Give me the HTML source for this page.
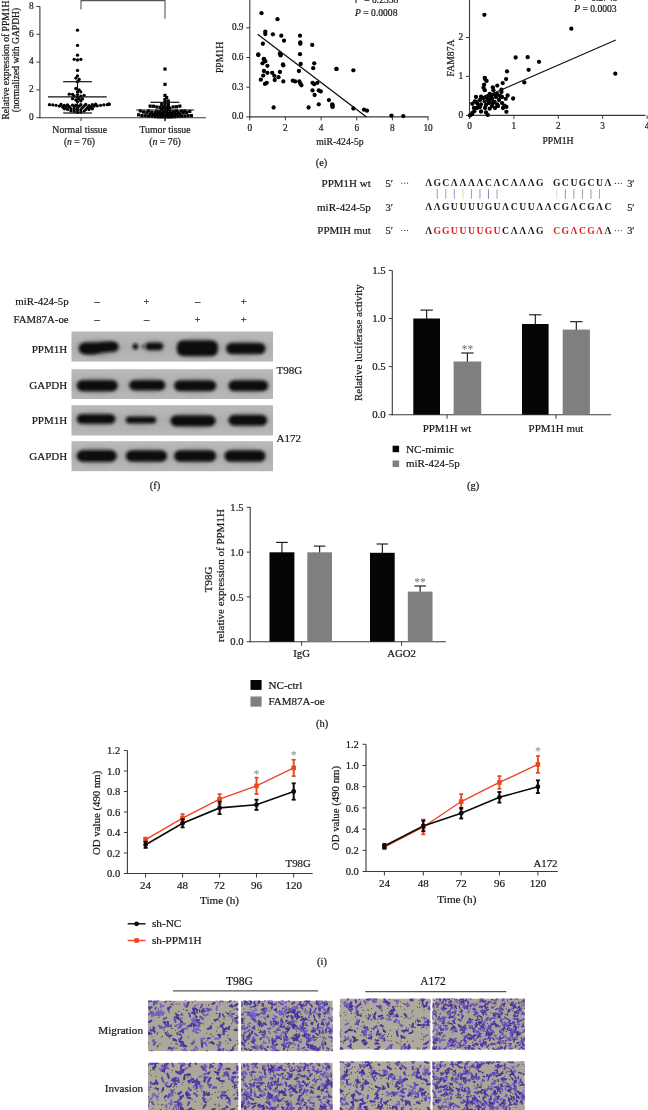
<!DOCTYPE html>
<html><head><meta charset="utf-8"><style>
html,body{margin:0;padding:0;background:#fff;}
body>svg{display:block;filter:blur(0.3px);}
</style></head><body>
<svg width="648" height="1110" viewBox="0 0 648 1110">
<rect width="648" height="1110" fill="#fff"/>
<line x1="39.90" y1="6.50" x2="39.90" y2="118.20" stroke="#3a3a3a" stroke-width="1.1" />
<line x1="39.40" y1="117.70" x2="206.00" y2="117.70" stroke="#3a3a3a" stroke-width="1.1" />
<line x1="36.40" y1="117.70" x2="39.90" y2="117.70" stroke="#3a3a3a" stroke-width="1" />
<text x="33.60" y="120.00" font-size="9.3" text-anchor="end" fill="#1a1a1a" font-family="'Liberation Serif', serif" stroke="#1a1a1a" stroke-width="0.22" >0</text>
<line x1="36.40" y1="89.90" x2="39.90" y2="89.90" stroke="#3a3a3a" stroke-width="1" />
<text x="33.60" y="92.20" font-size="9.3" text-anchor="end" fill="#1a1a1a" font-family="'Liberation Serif', serif" stroke="#1a1a1a" stroke-width="0.22" >2</text>
<line x1="36.40" y1="62.10" x2="39.90" y2="62.10" stroke="#3a3a3a" stroke-width="1" />
<text x="33.60" y="64.40" font-size="9.3" text-anchor="end" fill="#1a1a1a" font-family="'Liberation Serif', serif" stroke="#1a1a1a" stroke-width="0.22" >4</text>
<line x1="36.40" y1="34.30" x2="39.90" y2="34.30" stroke="#3a3a3a" stroke-width="1" />
<text x="33.60" y="36.60" font-size="9.3" text-anchor="end" fill="#1a1a1a" font-family="'Liberation Serif', serif" stroke="#1a1a1a" stroke-width="0.22" >6</text>
<line x1="36.40" y1="6.50" x2="39.90" y2="6.50" stroke="#3a3a3a" stroke-width="1" />
<text x="33.60" y="8.80" font-size="9.3" text-anchor="end" fill="#1a1a1a" font-family="'Liberation Serif', serif" stroke="#1a1a1a" stroke-width="0.22" >8</text>
<line x1="81.00" y1="117.70" x2="81.00" y2="121.20" stroke="#3a3a3a" stroke-width="1" />
<line x1="165.00" y1="117.70" x2="165.00" y2="121.20" stroke="#3a3a3a" stroke-width="1" />
<path d="M81,9.5 V0.6 H165 V18.7" fill="none" stroke="#555" stroke-width="1.1"/>
<text x="79.70" y="133.20" font-size="9.8" text-anchor="middle" fill="#1a1a1a" font-family="'Liberation Serif', serif" stroke="#1a1a1a" stroke-width="0.22" >Normal tissue</text>
<text x="79.40" y="144.70" font-size="9.6" text-anchor="middle" fill="#1a1a1a" font-family="'Liberation Serif', serif" stroke="#1a1a1a" stroke-width="0.22" >(<tspan font-style="italic">n</tspan> = 76)</text>
<text x="165.00" y="133.20" font-size="9.8" text-anchor="middle" fill="#1a1a1a" font-family="'Liberation Serif', serif" stroke="#1a1a1a" stroke-width="0.22" >Tumor tissue</text>
<text x="165.00" y="144.70" font-size="9.8" text-anchor="middle" fill="#1a1a1a" font-family="'Liberation Serif', serif" stroke="#1a1a1a" stroke-width="0.22" >(<tspan font-style="italic">n</tspan> = 76)</text>
<text x="8.50" y="60.00" font-size="9.6" text-anchor="middle" fill="#1a1a1a" font-family="'Liberation Serif', serif" stroke="#1a1a1a" stroke-width="0.22" transform="rotate(-90 8.50 60.00)" >Relative expression of PPM1H</text>
<text x="18.80" y="60.00" font-size="9.6" text-anchor="middle" fill="#1a1a1a" font-family="'Liberation Serif', serif" stroke="#1a1a1a" stroke-width="0.22" transform="rotate(-90 18.80 60.00)" >(normalized with GAPDH)</text>
<circle cx="77.50" cy="112.40" r="1.65" fill="#000"/>
<circle cx="80.80" cy="112.06" r="1.65" fill="#000"/>
<circle cx="74.20" cy="111.44" r="1.65" fill="#000"/>
<circle cx="84.10" cy="111.09" r="1.65" fill="#000"/>
<circle cx="70.90" cy="110.85" r="1.65" fill="#000"/>
<circle cx="77.50" cy="110.00" r="1.65" fill="#000"/>
<circle cx="80.80" cy="109.57" r="1.65" fill="#000"/>
<circle cx="85.75" cy="109.54" r="1.65" fill="#000"/>
<circle cx="67.60" cy="109.47" r="1.65" fill="#000"/>
<circle cx="89.05" cy="109.46" r="1.65" fill="#000"/>
<circle cx="74.20" cy="109.17" r="1.65" fill="#000"/>
<circle cx="64.30" cy="108.86" r="1.65" fill="#000"/>
<circle cx="92.35" cy="108.79" r="1.65" fill="#000"/>
<circle cx="70.90" cy="108.57" r="1.65" fill="#000"/>
<circle cx="77.50" cy="107.75" r="1.65" fill="#000"/>
<circle cx="82.45" cy="107.58" r="1.65" fill="#000"/>
<circle cx="87.40" cy="107.55" r="1.65" fill="#000"/>
<circle cx="65.95" cy="107.25" r="1.65" fill="#000"/>
<circle cx="90.70" cy="107.24" r="1.65" fill="#000"/>
<circle cx="62.65" cy="107.07" r="1.65" fill="#000"/>
<circle cx="74.20" cy="106.83" r="1.65" fill="#000"/>
<circle cx="69.25" cy="106.64" r="1.65" fill="#000"/>
<circle cx="94.00" cy="106.23" r="1.65" fill="#000"/>
<circle cx="79.15" cy="106.16" r="1.65" fill="#000"/>
<circle cx="59.35" cy="106.09" r="1.65" fill="#000"/>
<circle cx="84.10" cy="106.00" r="1.65" fill="#000"/>
<circle cx="97.30" cy="105.82" r="1.65" fill="#000"/>
<circle cx="89.05" cy="105.63" r="1.65" fill="#000"/>
<circle cx="64.30" cy="105.42" r="1.65" fill="#000"/>
<circle cx="56.05" cy="105.33" r="1.65" fill="#000"/>
<circle cx="100.60" cy="105.31" r="1.65" fill="#000"/>
<circle cx="75.85" cy="105.25" r="1.65" fill="#000"/>
<circle cx="72.55" cy="105.14" r="1.65" fill="#000"/>
<circle cx="67.60" cy="104.99" r="1.65" fill="#000"/>
<circle cx="52.75" cy="104.89" r="1.65" fill="#000"/>
<circle cx="103.90" cy="104.81" r="1.65" fill="#000"/>
<circle cx="49.45" cy="104.71" r="1.65" fill="#000"/>
<circle cx="107.20" cy="104.70" r="1.65" fill="#000"/>
<circle cx="92.35" cy="104.65" r="1.65" fill="#000"/>
<circle cx="80.80" cy="104.62" r="1.65" fill="#000"/>
<circle cx="61.00" cy="104.52" r="1.65" fill="#000"/>
<circle cx="85.75" cy="104.38" r="1.65" fill="#000"/>
<circle cx="108.85" cy="104.37" r="1.65" fill="#000"/>
<circle cx="108.85" cy="104.35" r="1.65" fill="#000"/>
<circle cx="108.85" cy="104.35" r="1.65" fill="#000"/>
<circle cx="95.65" cy="104.25" r="1.65" fill="#000"/>
<circle cx="108.85" cy="104.22" r="1.65" fill="#000"/>
<circle cx="108.85" cy="104.15" r="1.65" fill="#000"/>
<circle cx="77.50" cy="101.56" r="1.65" fill="#000"/>
<circle cx="80.80" cy="100.94" r="1.65" fill="#000"/>
<circle cx="75.85" cy="99.94" r="1.65" fill="#000"/>
<circle cx="79.15" cy="98.95" r="1.65" fill="#000"/>
<circle cx="82.45" cy="98.90" r="1.65" fill="#000"/>
<circle cx="72.55" cy="98.65" r="1.65" fill="#000"/>
<circle cx="77.50" cy="97.34" r="1.65" fill="#000"/>
<circle cx="80.80" cy="96.16" r="1.65" fill="#000"/>
<circle cx="74.20" cy="96.09" r="1.65" fill="#000"/>
<circle cx="84.10" cy="95.28" r="1.65" fill="#000"/>
<circle cx="77.50" cy="94.58" r="1.65" fill="#000"/>
<circle cx="72.55" cy="94.32" r="1.65" fill="#000"/>
<circle cx="69.25" cy="94.16" r="1.65" fill="#000"/>
<circle cx="77.50" cy="91.83" r="1.65" fill="#000"/>
<circle cx="80.80" cy="91.82" r="1.65" fill="#000"/>
<circle cx="79.15" cy="89.95" r="1.65" fill="#000"/>
<circle cx="75.85" cy="88.51" r="1.65" fill="#000"/>
<circle cx="77.50" cy="81.56" r="1.65" fill="#000"/>
<circle cx="79.15" cy="79.47" r="1.65" fill="#000"/>
<circle cx="75.85" cy="78.09" r="1.65" fill="#000"/>
<circle cx="77.50" cy="76.00" r="1.65" fill="#000"/>
<circle cx="77.50" cy="70.44" r="1.65" fill="#000"/>
<circle cx="77.50" cy="60.01" r="1.65" fill="#000"/>
<circle cx="80.80" cy="59.32" r="1.65" fill="#000"/>
<circle cx="74.20" cy="59.32" r="1.65" fill="#000"/>
<circle cx="77.50" cy="55.15" r="1.65" fill="#000"/>
<circle cx="77.50" cy="45.42" r="1.65" fill="#000"/>
<circle cx="77.50" cy="30.13" r="1.65" fill="#000"/>
<line x1="48.00" y1="96.90" x2="106.70" y2="96.90" stroke="#111" stroke-width="1.2" />
<line x1="63.20" y1="81.70" x2="91.90" y2="81.70" stroke="#111" stroke-width="1.2" />
<line x1="63.20" y1="113.00" x2="91.90" y2="113.00" stroke="#111" stroke-width="1.2" />
<line x1="77.50" y1="81.70" x2="77.50" y2="113.00" stroke="#111" stroke-width="1.1" />
<rect x="163.40" y="115.39" width="3.20" height="3.20" fill="#000" />
<rect x="166.70" y="115.38" width="3.20" height="3.20" fill="#000" />
<rect x="160.10" y="115.32" width="3.20" height="3.20" fill="#000" />
<rect x="170.00" y="115.29" width="3.20" height="3.20" fill="#000" />
<rect x="156.80" y="115.26" width="3.20" height="3.20" fill="#000" />
<rect x="173.30" y="115.05" width="3.20" height="3.20" fill="#000" />
<rect x="153.50" y="115.00" width="3.20" height="3.20" fill="#000" />
<rect x="176.60" y="114.61" width="3.20" height="3.20" fill="#000" />
<rect x="150.20" y="114.54" width="3.20" height="3.20" fill="#000" />
<rect x="179.90" y="114.49" width="3.20" height="3.20" fill="#000" />
<rect x="146.90" y="114.41" width="3.20" height="3.20" fill="#000" />
<rect x="183.20" y="114.37" width="3.20" height="3.20" fill="#000" />
<rect x="143.60" y="114.12" width="3.20" height="3.20" fill="#000" />
<rect x="186.50" y="114.09" width="3.20" height="3.20" fill="#000" />
<rect x="140.30" y="114.06" width="3.20" height="3.20" fill="#000" />
<rect x="189.80" y="114.05" width="3.20" height="3.20" fill="#000" />
<rect x="165.05" y="113.66" width="3.20" height="3.20" fill="#000" />
<rect x="161.75" y="113.60" width="3.20" height="3.20" fill="#000" />
<rect x="168.35" y="113.54" width="3.20" height="3.20" fill="#000" />
<rect x="158.45" y="113.52" width="3.20" height="3.20" fill="#000" />
<rect x="171.65" y="113.47" width="3.20" height="3.20" fill="#000" />
<rect x="155.15" y="113.43" width="3.20" height="3.20" fill="#000" />
<rect x="137.00" y="113.29" width="3.20" height="3.20" fill="#000" />
<rect x="174.95" y="113.15" width="3.20" height="3.20" fill="#000" />
<rect x="151.85" y="113.11" width="3.20" height="3.20" fill="#000" />
<rect x="178.25" y="112.40" width="3.20" height="3.20" fill="#000" />
<rect x="148.55" y="112.39" width="3.20" height="3.20" fill="#000" />
<rect x="163.40" y="112.03" width="3.20" height="3.20" fill="#000" />
<rect x="166.70" y="112.00" width="3.20" height="3.20" fill="#000" />
<rect x="160.10" y="111.81" width="3.20" height="3.20" fill="#000" />
<rect x="170.00" y="111.79" width="3.20" height="3.20" fill="#000" />
<rect x="156.80" y="111.63" width="3.20" height="3.20" fill="#000" />
<rect x="173.30" y="111.54" width="3.20" height="3.20" fill="#000" />
<rect x="153.50" y="111.17" width="3.20" height="3.20" fill="#000" />
<rect x="181.55" y="111.16" width="3.20" height="3.20" fill="#000" />
<rect x="145.25" y="111.09" width="3.20" height="3.20" fill="#000" />
<rect x="184.85" y="111.00" width="3.20" height="3.20" fill="#000" />
<rect x="176.60" y="110.72" width="3.20" height="3.20" fill="#000" />
<rect x="150.20" y="110.62" width="3.20" height="3.20" fill="#000" />
<rect x="165.05" y="110.48" width="3.20" height="3.20" fill="#000" />
<rect x="141.95" y="110.42" width="3.20" height="3.20" fill="#000" />
<rect x="161.75" y="110.29" width="3.20" height="3.20" fill="#000" />
<rect x="168.35" y="110.12" width="3.20" height="3.20" fill="#000" />
<rect x="158.45" y="109.95" width="3.20" height="3.20" fill="#000" />
<rect x="171.65" y="109.95" width="3.20" height="3.20" fill="#000" />
<rect x="188.15" y="109.81" width="3.20" height="3.20" fill="#000" />
<rect x="155.15" y="109.67" width="3.20" height="3.20" fill="#000" />
<rect x="179.90" y="109.52" width="3.20" height="3.20" fill="#000" />
<rect x="146.90" y="109.39" width="3.20" height="3.20" fill="#000" />
<rect x="183.20" y="109.36" width="3.20" height="3.20" fill="#000" />
<rect x="138.65" y="109.31" width="3.20" height="3.20" fill="#000" />
<rect x="174.95" y="109.26" width="3.20" height="3.20" fill="#000" />
<rect x="163.40" y="108.33" width="3.20" height="3.20" fill="#000" />
<rect x="166.70" y="107.98" width="3.20" height="3.20" fill="#000" />
<rect x="160.10" y="107.43" width="3.20" height="3.20" fill="#000" />
<rect x="165.05" y="106.51" width="3.20" height="3.20" fill="#000" />
<rect x="168.35" y="106.50" width="3.20" height="3.20" fill="#000" />
<rect x="161.75" y="105.86" width="3.20" height="3.20" fill="#000" />
<rect x="158.45" y="105.75" width="3.20" height="3.20" fill="#000" />
<rect x="171.65" y="105.37" width="3.20" height="3.20" fill="#000" />
<rect x="155.15" y="105.36" width="3.20" height="3.20" fill="#000" />
<rect x="174.95" y="105.14" width="3.20" height="3.20" fill="#000" />
<rect x="166.70" y="104.70" width="3.20" height="3.20" fill="#000" />
<rect x="151.85" y="104.61" width="3.20" height="3.20" fill="#000" />
<rect x="178.25" y="104.52" width="3.20" height="3.20" fill="#000" />
<rect x="148.55" y="104.52" width="3.20" height="3.20" fill="#000" />
<rect x="163.40" y="103.59" width="3.20" height="3.20" fill="#000" />
<rect x="160.10" y="102.90" width="3.20" height="3.20" fill="#000" />
<rect x="166.70" y="102.20" width="3.20" height="3.20" fill="#000" />
<rect x="163.40" y="100.81" width="3.20" height="3.20" fill="#000" />
<rect x="166.70" y="99.42" width="3.20" height="3.20" fill="#000" />
<rect x="163.40" y="98.03" width="3.20" height="3.20" fill="#000" />
<rect x="165.05" y="95.95" width="3.20" height="3.20" fill="#000" />
<rect x="163.40" y="93.86" width="3.20" height="3.20" fill="#000" />
<rect x="163.40" y="82.74" width="3.20" height="3.20" fill="#000" />
<rect x="163.40" y="67.45" width="3.20" height="3.20" fill="#000" />
<line x1="136.20" y1="110.00" x2="194.20" y2="110.00" stroke="#111" stroke-width="1.2" />
<line x1="150.40" y1="102.30" x2="179.40" y2="102.30" stroke="#111" stroke-width="1.2" />
<line x1="165.00" y1="102.30" x2="165.00" y2="121.00" stroke="#111" stroke-width="1.1" />
<line x1="249.80" y1="0.00" x2="249.80" y2="117.40" stroke="#3a3a3a" stroke-width="1.1" />
<line x1="249.30" y1="116.90" x2="428.50" y2="116.90" stroke="#3a3a3a" stroke-width="1.1" />
<line x1="246.30" y1="116.90" x2="249.80" y2="116.90" stroke="#3a3a3a" stroke-width="1" />
<text x="243.50" y="119.20" font-size="9.3" text-anchor="end" fill="#1a1a1a" font-family="'Liberation Serif', serif" stroke="#1a1a1a" stroke-width="0.22" >0.0</text>
<line x1="246.30" y1="87.20" x2="249.80" y2="87.20" stroke="#3a3a3a" stroke-width="1" />
<text x="243.50" y="89.50" font-size="9.3" text-anchor="end" fill="#1a1a1a" font-family="'Liberation Serif', serif" stroke="#1a1a1a" stroke-width="0.22" >0.3</text>
<line x1="246.30" y1="57.50" x2="249.80" y2="57.50" stroke="#3a3a3a" stroke-width="1" />
<text x="243.50" y="59.80" font-size="9.3" text-anchor="end" fill="#1a1a1a" font-family="'Liberation Serif', serif" stroke="#1a1a1a" stroke-width="0.22" >0.6</text>
<line x1="246.30" y1="27.80" x2="249.80" y2="27.80" stroke="#3a3a3a" stroke-width="1" />
<text x="243.50" y="30.10" font-size="9.3" text-anchor="end" fill="#1a1a1a" font-family="'Liberation Serif', serif" stroke="#1a1a1a" stroke-width="0.22" >0.9</text>
<line x1="249.80" y1="116.90" x2="249.80" y2="120.40" stroke="#3a3a3a" stroke-width="1" />
<text x="249.80" y="131.20" font-size="9.3" text-anchor="middle" fill="#1a1a1a" font-family="'Liberation Serif', serif" stroke="#1a1a1a" stroke-width="0.22" >0</text>
<line x1="285.45" y1="116.90" x2="285.45" y2="120.40" stroke="#3a3a3a" stroke-width="1" />
<text x="285.45" y="131.20" font-size="9.3" text-anchor="middle" fill="#1a1a1a" font-family="'Liberation Serif', serif" stroke="#1a1a1a" stroke-width="0.22" >2</text>
<line x1="321.10" y1="116.90" x2="321.10" y2="120.40" stroke="#3a3a3a" stroke-width="1" />
<text x="321.10" y="131.20" font-size="9.3" text-anchor="middle" fill="#1a1a1a" font-family="'Liberation Serif', serif" stroke="#1a1a1a" stroke-width="0.22" >4</text>
<line x1="356.75" y1="116.90" x2="356.75" y2="120.40" stroke="#3a3a3a" stroke-width="1" />
<text x="356.75" y="131.20" font-size="9.3" text-anchor="middle" fill="#1a1a1a" font-family="'Liberation Serif', serif" stroke="#1a1a1a" stroke-width="0.22" >6</text>
<line x1="392.40" y1="116.90" x2="392.40" y2="120.40" stroke="#3a3a3a" stroke-width="1" />
<text x="392.40" y="131.20" font-size="9.3" text-anchor="middle" fill="#1a1a1a" font-family="'Liberation Serif', serif" stroke="#1a1a1a" stroke-width="0.22" >8</text>
<line x1="428.05" y1="116.90" x2="428.05" y2="120.40" stroke="#3a3a3a" stroke-width="1" />
<text x="428.05" y="131.20" font-size="9.3" text-anchor="middle" fill="#1a1a1a" font-family="'Liberation Serif', serif" stroke="#1a1a1a" stroke-width="0.22" >10</text>
<text x="340.00" y="145.00" font-size="9.7" text-anchor="middle" fill="#1a1a1a" font-family="'Liberation Serif', serif" stroke="#1a1a1a" stroke-width="0.22" >miR-424-5p</text>
<text x="223.50" y="57.40" font-size="9.7" text-anchor="middle" fill="#1a1a1a" font-family="'Liberation Serif', serif" stroke="#1a1a1a" stroke-width="0.22" transform="rotate(-90 223.50 57.40)" >PPM1H</text>
<text x="355.00" y="3.20" font-size="9.6" text-anchor="start" fill="#1a1a1a" font-family="'Liberation Serif', serif" stroke="#1a1a1a" stroke-width="0.22" ><tspan font-style="italic">r</tspan><tspan font-size="6" dy="-3">2</tspan><tspan dy="3"> = 0.2338</tspan></text>
<text x="355.00" y="15.60" font-size="9.6" text-anchor="start" fill="#1a1a1a" font-family="'Liberation Serif', serif" stroke="#1a1a1a" stroke-width="0.22" ><tspan font-style="italic">P</tspan> = 0.0008</text>
<circle cx="261.50" cy="13.20" r="2.15" fill="#000"/>
<circle cx="277.50" cy="19.20" r="2.15" fill="#000"/>
<circle cx="265.30" cy="31.70" r="2.15" fill="#000"/>
<circle cx="265.30" cy="34.00" r="2.15" fill="#000"/>
<circle cx="272.90" cy="34.30" r="2.15" fill="#000"/>
<circle cx="281.30" cy="35.70" r="2.15" fill="#000"/>
<circle cx="284.00" cy="40.70" r="2.15" fill="#000"/>
<circle cx="300.00" cy="35.70" r="2.15" fill="#000"/>
<circle cx="300.30" cy="42.40" r="2.15" fill="#000"/>
<circle cx="300.30" cy="43.75" r="2.15" fill="#000"/>
<circle cx="312.20" cy="44.90" r="2.15" fill="#000"/>
<circle cx="262.90" cy="43.75" r="2.15" fill="#000"/>
<circle cx="258.30" cy="54.40" r="2.15" fill="#000"/>
<circle cx="279.90" cy="53.50" r="2.15" fill="#000"/>
<circle cx="280.80" cy="54.90" r="2.15" fill="#000"/>
<circle cx="300.00" cy="54.20" r="2.15" fill="#000"/>
<circle cx="263.90" cy="59.00" r="2.15" fill="#000"/>
<circle cx="258.30" cy="55.00" r="2.15" fill="#000"/>
<circle cx="280.60" cy="55.40" r="2.15" fill="#000"/>
<circle cx="263.90" cy="59.20" r="2.15" fill="#000"/>
<circle cx="265.30" cy="61.25" r="2.15" fill="#000"/>
<circle cx="262.50" cy="63.30" r="2.15" fill="#000"/>
<circle cx="267.40" cy="65.80" r="2.15" fill="#000"/>
<circle cx="283.00" cy="64.40" r="2.15" fill="#000"/>
<circle cx="283.30" cy="65.40" r="2.15" fill="#000"/>
<circle cx="300.70" cy="64.00" r="2.15" fill="#000"/>
<circle cx="314.20" cy="63.30" r="2.15" fill="#000"/>
<circle cx="313.20" cy="68.20" r="2.15" fill="#000"/>
<circle cx="336.40" cy="68.90" r="2.15" fill="#000"/>
<circle cx="263.90" cy="71.00" r="2.15" fill="#000"/>
<circle cx="267.40" cy="72.80" r="2.15" fill="#000"/>
<circle cx="263.20" cy="75.60" r="2.15" fill="#000"/>
<circle cx="272.20" cy="72.80" r="2.15" fill="#000"/>
<circle cx="274.30" cy="75.80" r="2.15" fill="#000"/>
<circle cx="279.90" cy="72.00" r="2.15" fill="#000"/>
<circle cx="278.50" cy="77.20" r="2.15" fill="#000"/>
<circle cx="274.70" cy="80.00" r="2.15" fill="#000"/>
<circle cx="260.80" cy="79.70" r="2.15" fill="#000"/>
<circle cx="266.70" cy="82.80" r="2.15" fill="#000"/>
<circle cx="265.00" cy="83.90" r="2.15" fill="#000"/>
<circle cx="283.30" cy="81.40" r="2.15" fill="#000"/>
<circle cx="298.90" cy="71.00" r="2.15" fill="#000"/>
<circle cx="292.80" cy="80.70" r="2.15" fill="#000"/>
<circle cx="295.10" cy="81.40" r="2.15" fill="#000"/>
<circle cx="299.30" cy="81.40" r="2.15" fill="#000"/>
<circle cx="300.30" cy="83.50" r="2.15" fill="#000"/>
<circle cx="301.40" cy="85.30" r="2.15" fill="#000"/>
<circle cx="312.50" cy="82.80" r="2.15" fill="#000"/>
<circle cx="314.20" cy="84.20" r="2.15" fill="#000"/>
<circle cx="317.40" cy="82.80" r="2.15" fill="#000"/>
<circle cx="312.50" cy="90.40" r="2.15" fill="#000"/>
<circle cx="318.75" cy="90.40" r="2.15" fill="#000"/>
<circle cx="320.80" cy="91.40" r="2.15" fill="#000"/>
<circle cx="314.60" cy="95.00" r="2.15" fill="#000"/>
<circle cx="328.90" cy="100.10" r="2.15" fill="#000"/>
<circle cx="332.20" cy="104.30" r="2.15" fill="#000"/>
<circle cx="332.60" cy="106.70" r="2.15" fill="#000"/>
<circle cx="273.60" cy="107.50" r="2.15" fill="#000"/>
<circle cx="308.60" cy="107.50" r="2.15" fill="#000"/>
<circle cx="318.75" cy="104.30" r="2.15" fill="#000"/>
<circle cx="336.50" cy="68.90" r="2.15" fill="#000"/>
<circle cx="353.40" cy="70.30" r="2.15" fill="#000"/>
<circle cx="332.50" cy="105.00" r="2.15" fill="#000"/>
<circle cx="332.50" cy="106.80" r="2.15" fill="#000"/>
<circle cx="353.40" cy="108.50" r="2.15" fill="#000"/>
<circle cx="364.00" cy="109.70" r="2.15" fill="#000"/>
<circle cx="367.00" cy="110.70" r="2.15" fill="#000"/>
<circle cx="391.50" cy="115.60" r="2.15" fill="#000"/>
<circle cx="403.30" cy="116.10" r="2.15" fill="#000"/>
<line x1="257.60" y1="34.20" x2="366.50" y2="117.00" stroke="#111" stroke-width="1.3" />
<line x1="469.50" y1="0.00" x2="469.50" y2="115.90" stroke="#3a3a3a" stroke-width="1.1" />
<line x1="469.00" y1="115.40" x2="645.50" y2="115.40" stroke="#3a3a3a" stroke-width="1.1" />
<line x1="466.00" y1="115.40" x2="469.50" y2="115.40" stroke="#3a3a3a" stroke-width="1" />
<text x="463.20" y="117.70" font-size="9.3" text-anchor="end" fill="#1a1a1a" font-family="'Liberation Serif', serif" stroke="#1a1a1a" stroke-width="0.22" >0</text>
<line x1="466.00" y1="76.45" x2="469.50" y2="76.45" stroke="#3a3a3a" stroke-width="1" />
<text x="463.20" y="78.75" font-size="9.3" text-anchor="end" fill="#1a1a1a" font-family="'Liberation Serif', serif" stroke="#1a1a1a" stroke-width="0.22" >1</text>
<line x1="466.00" y1="37.50" x2="469.50" y2="37.50" stroke="#3a3a3a" stroke-width="1" />
<text x="463.20" y="39.80" font-size="9.3" text-anchor="end" fill="#1a1a1a" font-family="'Liberation Serif', serif" stroke="#1a1a1a" stroke-width="0.22" >2</text>
<line x1="469.50" y1="115.40" x2="469.50" y2="118.90" stroke="#3a3a3a" stroke-width="1" />
<text x="469.50" y="129.40" font-size="9.3" text-anchor="middle" fill="#1a1a1a" font-family="'Liberation Serif', serif" stroke="#1a1a1a" stroke-width="0.22" >0</text>
<line x1="513.90" y1="115.40" x2="513.90" y2="118.90" stroke="#3a3a3a" stroke-width="1" />
<text x="513.90" y="129.40" font-size="9.3" text-anchor="middle" fill="#1a1a1a" font-family="'Liberation Serif', serif" stroke="#1a1a1a" stroke-width="0.22" >1</text>
<line x1="558.30" y1="115.40" x2="558.30" y2="118.90" stroke="#3a3a3a" stroke-width="1" />
<text x="558.30" y="129.40" font-size="9.3" text-anchor="middle" fill="#1a1a1a" font-family="'Liberation Serif', serif" stroke="#1a1a1a" stroke-width="0.22" >2</text>
<line x1="602.70" y1="115.40" x2="602.70" y2="118.90" stroke="#3a3a3a" stroke-width="1" />
<text x="602.70" y="129.40" font-size="9.3" text-anchor="middle" fill="#1a1a1a" font-family="'Liberation Serif', serif" stroke="#1a1a1a" stroke-width="0.22" >3</text>
<line x1="647.10" y1="115.40" x2="647.10" y2="118.90" stroke="#3a3a3a" stroke-width="1" />
<text x="647.10" y="129.40" font-size="9.3" text-anchor="middle" fill="#1a1a1a" font-family="'Liberation Serif', serif" stroke="#1a1a1a" stroke-width="0.22" >4</text>
<text x="558.00" y="144.00" font-size="9.7" text-anchor="middle" fill="#1a1a1a" font-family="'Liberation Serif', serif" stroke="#1a1a1a" stroke-width="0.22" >PPM1H</text>
<text x="453.50" y="58.00" font-size="9.7" text-anchor="middle" fill="#1a1a1a" font-family="'Liberation Serif', serif" stroke="#1a1a1a" stroke-width="0.22" transform="rotate(-90 453.50 58.00)" >FAM87A</text>
<text x="574.20" y="1.30" font-size="9.6" text-anchor="start" fill="#1a1a1a" font-family="'Liberation Serif', serif" stroke="#1a1a1a" stroke-width="0.22" ><tspan font-style="italic">r</tspan><tspan font-size="6" dy="-3">2</tspan><tspan dy="3"> = 0.2743</tspan></text>
<text x="574.20" y="12.20" font-size="9.6" text-anchor="start" fill="#1a1a1a" font-family="'Liberation Serif', serif" stroke="#1a1a1a" stroke-width="0.22" ><tspan font-style="italic">P</tspan> = 0.0003</text>
<circle cx="515.60" cy="57.50" r="2.15" fill="#000"/>
<circle cx="527.70" cy="57.20" r="2.15" fill="#000"/>
<circle cx="539.00" cy="61.80" r="2.15" fill="#000"/>
<circle cx="528.60" cy="69.80" r="2.15" fill="#000"/>
<circle cx="507.00" cy="71.40" r="2.15" fill="#000"/>
<circle cx="506.10" cy="79.10" r="2.15" fill="#000"/>
<circle cx="524.30" cy="82.40" r="2.15" fill="#000"/>
<circle cx="502.70" cy="83.10" r="2.15" fill="#000"/>
<circle cx="497.30" cy="85.60" r="2.15" fill="#000"/>
<circle cx="484.75" cy="77.80" r="2.15" fill="#000"/>
<circle cx="486.60" cy="80.90" r="2.15" fill="#000"/>
<circle cx="484.10" cy="84.60" r="2.15" fill="#000"/>
<circle cx="483.50" cy="87.70" r="2.15" fill="#000"/>
<circle cx="484.75" cy="90.20" r="2.15" fill="#000"/>
<circle cx="492.80" cy="87.30" r="2.15" fill="#000"/>
<circle cx="493.40" cy="90.20" r="2.15" fill="#000"/>
<circle cx="501.40" cy="89.60" r="2.15" fill="#000"/>
<circle cx="501.40" cy="92.00" r="2.15" fill="#000"/>
<circle cx="507.60" cy="95.50" r="2.15" fill="#000"/>
<circle cx="505.70" cy="98.80" r="2.15" fill="#000"/>
<circle cx="513.10" cy="98.50" r="2.15" fill="#000"/>
<circle cx="502.00" cy="97.00" r="2.15" fill="#000"/>
<circle cx="481.00" cy="96.70" r="2.15" fill="#000"/>
<circle cx="489.70" cy="93.90" r="2.15" fill="#000"/>
<circle cx="494.00" cy="94.30" r="2.15" fill="#000"/>
<circle cx="491.50" cy="97.60" r="2.15" fill="#000"/>
<circle cx="487.80" cy="100.00" r="2.15" fill="#000"/>
<circle cx="484.75" cy="101.30" r="2.15" fill="#000"/>
<circle cx="494.60" cy="101.90" r="2.15" fill="#000"/>
<circle cx="497.10" cy="104.40" r="2.15" fill="#000"/>
<circle cx="474.90" cy="101.30" r="2.15" fill="#000"/>
<circle cx="472.40" cy="103.80" r="2.15" fill="#000"/>
<circle cx="478.60" cy="105.60" r="2.15" fill="#000"/>
<circle cx="481.00" cy="104.40" r="2.15" fill="#000"/>
<circle cx="486.00" cy="105.00" r="2.15" fill="#000"/>
<circle cx="502.00" cy="103.10" r="2.15" fill="#000"/>
<circle cx="504.50" cy="105.60" r="2.15" fill="#000"/>
<circle cx="506.40" cy="106.90" r="2.15" fill="#000"/>
<circle cx="489.70" cy="108.70" r="2.15" fill="#000"/>
<circle cx="481.00" cy="111.50" r="2.15" fill="#000"/>
<circle cx="474.30" cy="111.20" r="2.15" fill="#000"/>
<circle cx="472.40" cy="113.00" r="2.15" fill="#000"/>
<circle cx="486.00" cy="112.40" r="2.15" fill="#000"/>
<circle cx="487.80" cy="114.90" r="2.15" fill="#000"/>
<circle cx="506.40" cy="111.80" r="2.15" fill="#000"/>
<circle cx="469.90" cy="115.50" r="2.15" fill="#000"/>
<circle cx="471.80" cy="114.30" r="2.15" fill="#000"/>
<circle cx="571.30" cy="28.70" r="2.15" fill="#000"/>
<circle cx="615.30" cy="73.70" r="2.15" fill="#000"/>
<circle cx="484.40" cy="14.80" r="2.15" fill="#000"/>
<circle cx="490.00" cy="100.00" r="2.15" fill="#000"/>
<circle cx="486.00" cy="97.00" r="2.15" fill="#000"/>
<circle cx="493.00" cy="103.00" r="2.15" fill="#000"/>
<circle cx="480.00" cy="100.00" r="2.15" fill="#000"/>
<circle cx="477.00" cy="103.00" r="2.15" fill="#000"/>
<circle cx="497.00" cy="94.00" r="2.15" fill="#000"/>
<circle cx="485.00" cy="108.00" r="2.15" fill="#000"/>
<circle cx="480.00" cy="107.00" r="2.15" fill="#000"/>
<circle cx="491.00" cy="95.00" r="2.15" fill="#000"/>
<circle cx="498.00" cy="106.00" r="2.15" fill="#000"/>
<circle cx="474.00" cy="108.00" r="2.15" fill="#000"/>
<circle cx="503.00" cy="108.00" r="2.15" fill="#000"/>
<circle cx="476.00" cy="97.00" r="2.15" fill="#000"/>
<circle cx="485.00" cy="79.00" r="2.15" fill="#000"/>
<circle cx="492.00" cy="99.00" r="2.15" fill="#000"/>
<circle cx="496.00" cy="97.00" r="2.15" fill="#000"/>
<circle cx="489.00" cy="103.00" r="2.15" fill="#000"/>
<circle cx="483.00" cy="98.00" r="2.15" fill="#000"/>
<circle cx="499.00" cy="100.00" r="2.15" fill="#000"/>
<circle cx="492.00" cy="106.00" r="2.15" fill="#000"/>
<circle cx="477.00" cy="108.00" r="2.15" fill="#000"/>
<circle cx="495.00" cy="108.00" r="2.15" fill="#000"/>
<circle cx="500.00" cy="96.00" r="2.15" fill="#000"/>
<circle cx="488.00" cy="96.00" r="2.15" fill="#000"/>
<line x1="470.00" y1="103.50" x2="615.80" y2="40.00" stroke="#111" stroke-width="1.1" />
<text x="315.70" y="166.30" font-size="10.5" text-anchor="start" fill="#1a1a1a" font-family="'Liberation Serif', serif" stroke="#1a1a1a" stroke-width="0.22" >(e)</text>
<text x="370.80" y="186.70" font-size="11" text-anchor="end" fill="#1a1a1a" font-family="'Liberation Serif', serif" stroke="#1a1a1a" stroke-width="0.22" >PPM1H wt</text>
<text x="370.80" y="210.80" font-size="11" text-anchor="end" fill="#1a1a1a" font-family="'Liberation Serif', serif" stroke="#1a1a1a" stroke-width="0.22" >miR-424-5p</text>
<text x="370.80" y="233.90" font-size="11" text-anchor="end" fill="#1a1a1a" font-family="'Liberation Serif', serif" stroke="#1a1a1a" stroke-width="0.22" >PPMIH mut</text>
<text x="385.50" y="186.70" font-size="10.5" text-anchor="start" fill="#1a1a1a" font-family="'Liberation Serif', serif" stroke="#1a1a1a" stroke-width="0.22" >5′</text>
<text x="385.50" y="210.80" font-size="10.5" text-anchor="start" fill="#1a1a1a" font-family="'Liberation Serif', serif" stroke="#1a1a1a" stroke-width="0.22" >3′</text>
<text x="385.50" y="233.90" font-size="10.5" text-anchor="start" fill="#1a1a1a" font-family="'Liberation Serif', serif" stroke="#1a1a1a" stroke-width="0.22" >5′</text>
<circle cx="401.80" cy="183.20" r="0.62" fill="#333"/>
<circle cx="404.70" cy="183.20" r="0.62" fill="#333"/>
<circle cx="407.60" cy="183.20" r="0.62" fill="#333"/>
<circle cx="401.80" cy="230.40" r="0.62" fill="#333"/>
<circle cx="404.70" cy="230.40" r="0.62" fill="#333"/>
<circle cx="407.60" cy="230.40" r="0.62" fill="#333"/>
<text x="428.70" y="185.80" font-size="9.6" text-anchor="middle" fill="#1c1c1c" font-family="'Liberation Serif', serif" font-weight="bold" >Λ</text>
<text x="437.24" y="185.80" font-size="9.6" text-anchor="middle" fill="#1c1c1c" font-family="'Liberation Serif', serif" font-weight="bold" >G</text>
<text x="445.78" y="185.80" font-size="9.6" text-anchor="middle" fill="#1c1c1c" font-family="'Liberation Serif', serif" font-weight="bold" >C</text>
<text x="454.32" y="185.80" font-size="9.6" text-anchor="middle" fill="#1c1c1c" font-family="'Liberation Serif', serif" font-weight="bold" >Λ</text>
<text x="462.86" y="185.80" font-size="9.6" text-anchor="middle" fill="#1c1c1c" font-family="'Liberation Serif', serif" font-weight="bold" >Λ</text>
<text x="471.40" y="185.80" font-size="9.6" text-anchor="middle" fill="#1c1c1c" font-family="'Liberation Serif', serif" font-weight="bold" >Λ</text>
<text x="479.94" y="185.80" font-size="9.6" text-anchor="middle" fill="#1c1c1c" font-family="'Liberation Serif', serif" font-weight="bold" >Λ</text>
<text x="488.48" y="185.80" font-size="9.6" text-anchor="middle" fill="#1c1c1c" font-family="'Liberation Serif', serif" font-weight="bold" >C</text>
<text x="497.02" y="185.80" font-size="9.6" text-anchor="middle" fill="#1c1c1c" font-family="'Liberation Serif', serif" font-weight="bold" >Λ</text>
<text x="505.56" y="185.80" font-size="9.6" text-anchor="middle" fill="#1c1c1c" font-family="'Liberation Serif', serif" font-weight="bold" >C</text>
<text x="514.10" y="185.80" font-size="9.6" text-anchor="middle" fill="#1c1c1c" font-family="'Liberation Serif', serif" font-weight="bold" >Λ</text>
<text x="522.64" y="185.80" font-size="9.6" text-anchor="middle" fill="#1c1c1c" font-family="'Liberation Serif', serif" font-weight="bold" >Λ</text>
<text x="531.18" y="185.80" font-size="9.6" text-anchor="middle" fill="#1c1c1c" font-family="'Liberation Serif', serif" font-weight="bold" >Λ</text>
<text x="539.72" y="185.80" font-size="9.6" text-anchor="middle" fill="#1c1c1c" font-family="'Liberation Serif', serif" font-weight="bold" >G</text>
<text x="556.80" y="185.80" font-size="9.6" text-anchor="middle" fill="#1c1c1c" font-family="'Liberation Serif', serif" font-weight="bold" >G</text>
<text x="565.34" y="185.80" font-size="9.6" text-anchor="middle" fill="#1c1c1c" font-family="'Liberation Serif', serif" font-weight="bold" >C</text>
<text x="573.88" y="185.80" font-size="9.6" text-anchor="middle" fill="#1c1c1c" font-family="'Liberation Serif', serif" font-weight="bold" >U</text>
<text x="582.42" y="185.80" font-size="9.6" text-anchor="middle" fill="#1c1c1c" font-family="'Liberation Serif', serif" font-weight="bold" >G</text>
<text x="590.96" y="185.80" font-size="9.6" text-anchor="middle" fill="#1c1c1c" font-family="'Liberation Serif', serif" font-weight="bold" >C</text>
<text x="599.50" y="185.80" font-size="9.6" text-anchor="middle" fill="#1c1c1c" font-family="'Liberation Serif', serif" font-weight="bold" >U</text>
<text x="608.04" y="185.80" font-size="9.6" text-anchor="middle" fill="#1c1c1c" font-family="'Liberation Serif', serif" font-weight="bold" >Λ</text>
<text x="428.70" y="209.90" font-size="9.6" text-anchor="middle" fill="#1c1c1c" font-family="'Liberation Serif', serif" font-weight="bold" >Λ</text>
<text x="437.24" y="209.90" font-size="9.6" text-anchor="middle" fill="#1c1c1c" font-family="'Liberation Serif', serif" font-weight="bold" >Λ</text>
<text x="445.78" y="209.90" font-size="9.6" text-anchor="middle" fill="#1c1c1c" font-family="'Liberation Serif', serif" font-weight="bold" >G</text>
<text x="454.32" y="209.90" font-size="9.6" text-anchor="middle" fill="#1c1c1c" font-family="'Liberation Serif', serif" font-weight="bold" >U</text>
<text x="462.86" y="209.90" font-size="9.6" text-anchor="middle" fill="#1c1c1c" font-family="'Liberation Serif', serif" font-weight="bold" >U</text>
<text x="471.40" y="209.90" font-size="9.6" text-anchor="middle" fill="#1c1c1c" font-family="'Liberation Serif', serif" font-weight="bold" >U</text>
<text x="479.94" y="209.90" font-size="9.6" text-anchor="middle" fill="#1c1c1c" font-family="'Liberation Serif', serif" font-weight="bold" >U</text>
<text x="488.48" y="209.90" font-size="9.6" text-anchor="middle" fill="#1c1c1c" font-family="'Liberation Serif', serif" font-weight="bold" >G</text>
<text x="497.02" y="209.90" font-size="9.6" text-anchor="middle" fill="#1c1c1c" font-family="'Liberation Serif', serif" font-weight="bold" >U</text>
<text x="505.56" y="209.90" font-size="9.6" text-anchor="middle" fill="#1c1c1c" font-family="'Liberation Serif', serif" font-weight="bold" >Λ</text>
<text x="514.10" y="209.90" font-size="9.6" text-anchor="middle" fill="#1c1c1c" font-family="'Liberation Serif', serif" font-weight="bold" >C</text>
<text x="522.64" y="209.90" font-size="9.6" text-anchor="middle" fill="#1c1c1c" font-family="'Liberation Serif', serif" font-weight="bold" >U</text>
<text x="531.18" y="209.90" font-size="9.6" text-anchor="middle" fill="#1c1c1c" font-family="'Liberation Serif', serif" font-weight="bold" >U</text>
<text x="539.72" y="209.90" font-size="9.6" text-anchor="middle" fill="#1c1c1c" font-family="'Liberation Serif', serif" font-weight="bold" >Λ</text>
<text x="548.26" y="209.90" font-size="9.6" text-anchor="middle" fill="#1c1c1c" font-family="'Liberation Serif', serif" font-weight="bold" >Λ</text>
<text x="556.80" y="209.90" font-size="9.6" text-anchor="middle" fill="#1c1c1c" font-family="'Liberation Serif', serif" font-weight="bold" >C</text>
<text x="565.34" y="209.90" font-size="9.6" text-anchor="middle" fill="#1c1c1c" font-family="'Liberation Serif', serif" font-weight="bold" >G</text>
<text x="573.88" y="209.90" font-size="9.6" text-anchor="middle" fill="#1c1c1c" font-family="'Liberation Serif', serif" font-weight="bold" >Λ</text>
<text x="582.42" y="209.90" font-size="9.6" text-anchor="middle" fill="#1c1c1c" font-family="'Liberation Serif', serif" font-weight="bold" >C</text>
<text x="590.96" y="209.90" font-size="9.6" text-anchor="middle" fill="#1c1c1c" font-family="'Liberation Serif', serif" font-weight="bold" >G</text>
<text x="599.50" y="209.90" font-size="9.6" text-anchor="middle" fill="#1c1c1c" font-family="'Liberation Serif', serif" font-weight="bold" >Λ</text>
<text x="608.04" y="209.90" font-size="9.6" text-anchor="middle" fill="#1c1c1c" font-family="'Liberation Serif', serif" font-weight="bold" >C</text>
<text x="428.70" y="234.00" font-size="9.6" text-anchor="middle" fill="#1c1c1c" font-family="'Liberation Serif', serif" font-weight="bold" >Λ</text>
<text x="437.24" y="234.00" font-size="9.6" text-anchor="middle" fill="#e0201c" font-family="'Liberation Serif', serif" font-weight="bold" >G</text>
<text x="445.78" y="234.00" font-size="9.6" text-anchor="middle" fill="#e0201c" font-family="'Liberation Serif', serif" font-weight="bold" >G</text>
<text x="454.32" y="234.00" font-size="9.6" text-anchor="middle" fill="#e0201c" font-family="'Liberation Serif', serif" font-weight="bold" >U</text>
<text x="462.86" y="234.00" font-size="9.6" text-anchor="middle" fill="#e0201c" font-family="'Liberation Serif', serif" font-weight="bold" >U</text>
<text x="471.40" y="234.00" font-size="9.6" text-anchor="middle" fill="#e0201c" font-family="'Liberation Serif', serif" font-weight="bold" >U</text>
<text x="479.94" y="234.00" font-size="9.6" text-anchor="middle" fill="#e0201c" font-family="'Liberation Serif', serif" font-weight="bold" >U</text>
<text x="488.48" y="234.00" font-size="9.6" text-anchor="middle" fill="#e0201c" font-family="'Liberation Serif', serif" font-weight="bold" >G</text>
<text x="497.02" y="234.00" font-size="9.6" text-anchor="middle" fill="#e0201c" font-family="'Liberation Serif', serif" font-weight="bold" >U</text>
<text x="505.56" y="234.00" font-size="9.6" text-anchor="middle" fill="#1c1c1c" font-family="'Liberation Serif', serif" font-weight="bold" >C</text>
<text x="514.10" y="234.00" font-size="9.6" text-anchor="middle" fill="#1c1c1c" font-family="'Liberation Serif', serif" font-weight="bold" >Λ</text>
<text x="522.64" y="234.00" font-size="9.6" text-anchor="middle" fill="#1c1c1c" font-family="'Liberation Serif', serif" font-weight="bold" >Λ</text>
<text x="531.18" y="234.00" font-size="9.6" text-anchor="middle" fill="#1c1c1c" font-family="'Liberation Serif', serif" font-weight="bold" >Λ</text>
<text x="539.72" y="234.00" font-size="9.6" text-anchor="middle" fill="#1c1c1c" font-family="'Liberation Serif', serif" font-weight="bold" >G</text>
<text x="556.80" y="234.00" font-size="9.6" text-anchor="middle" fill="#e0201c" font-family="'Liberation Serif', serif" font-weight="bold" >C</text>
<text x="565.34" y="234.00" font-size="9.6" text-anchor="middle" fill="#e0201c" font-family="'Liberation Serif', serif" font-weight="bold" >G</text>
<text x="573.88" y="234.00" font-size="9.6" text-anchor="middle" fill="#e0201c" font-family="'Liberation Serif', serif" font-weight="bold" >Λ</text>
<text x="582.42" y="234.00" font-size="9.6" text-anchor="middle" fill="#e0201c" font-family="'Liberation Serif', serif" font-weight="bold" >C</text>
<text x="590.96" y="234.00" font-size="9.6" text-anchor="middle" fill="#e0201c" font-family="'Liberation Serif', serif" font-weight="bold" >G</text>
<text x="599.50" y="234.00" font-size="9.6" text-anchor="middle" fill="#e0201c" font-family="'Liberation Serif', serif" font-weight="bold" >Λ</text>
<text x="608.04" y="234.00" font-size="9.6" text-anchor="middle" fill="#1c1c1c" font-family="'Liberation Serif', serif" font-weight="bold" >Λ</text>
<circle cx="615.40" cy="183.40" r="0.62" fill="#333"/>
<circle cx="618.30" cy="183.40" r="0.62" fill="#333"/>
<circle cx="621.20" cy="183.40" r="0.62" fill="#333"/>
<circle cx="615.40" cy="230.60" r="0.62" fill="#333"/>
<circle cx="618.30" cy="230.60" r="0.62" fill="#333"/>
<circle cx="621.20" cy="230.60" r="0.62" fill="#333"/>
<text x="627.20" y="186.70" font-size="10.3" text-anchor="start" fill="#1a1a1a" font-family="'Liberation Serif', serif" stroke="#1a1a1a" stroke-width="0.22" >3′</text>
<text x="627.20" y="210.80" font-size="10.3" text-anchor="start" fill="#1a1a1a" font-family="'Liberation Serif', serif" stroke="#1a1a1a" stroke-width="0.22" >5′</text>
<text x="627.20" y="233.90" font-size="10.3" text-anchor="start" fill="#1a1a1a" font-family="'Liberation Serif', serif" stroke="#1a1a1a" stroke-width="0.22" >3′</text>
<line x1="437.24" y1="189.20" x2="437.24" y2="198.80" stroke="#8a8aa6" stroke-width="0.9" />
<line x1="445.78" y1="189.20" x2="445.78" y2="198.80" stroke="#9a9aa6" stroke-width="0.9" />
<line x1="454.32" y1="189.20" x2="454.32" y2="198.80" stroke="#8a8aa6" stroke-width="0.9" />
<line x1="462.86" y1="189.20" x2="462.86" y2="198.80" stroke="#ddd6a8" stroke-width="0.9" />
<line x1="471.40" y1="189.20" x2="471.40" y2="198.80" stroke="#9090a8" stroke-width="0.9" />
<line x1="479.94" y1="189.20" x2="479.94" y2="198.80" stroke="#8a8aa6" stroke-width="0.9" />
<line x1="488.48" y1="189.20" x2="488.48" y2="198.80" stroke="#7a7aa0" stroke-width="0.9" />
<line x1="497.02" y1="189.20" x2="497.02" y2="198.80" stroke="#9a9a9a" stroke-width="0.9" />
<line x1="556.80" y1="189.20" x2="556.80" y2="198.80" stroke="#e0dcb0" stroke-width="0.9" />
<line x1="565.34" y1="189.20" x2="565.34" y2="198.80" stroke="#8a8aa6" stroke-width="0.9" />
<line x1="573.88" y1="189.20" x2="573.88" y2="198.80" stroke="#8a8aa6" stroke-width="0.9" />
<line x1="582.42" y1="189.20" x2="582.42" y2="198.80" stroke="#9090a8" stroke-width="0.9" />
<line x1="590.96" y1="189.20" x2="590.96" y2="198.80" stroke="#8a8aa6" stroke-width="0.9" />
<line x1="599.50" y1="189.20" x2="599.50" y2="198.80" stroke="#a0a090" stroke-width="0.9" />
<text x="68.60" y="304.70" font-size="10.9" text-anchor="end" fill="#1a1a1a" font-family="'Liberation Serif', serif" stroke="#1a1a1a" stroke-width="0.22" >miR-424-5p</text>
<text x="68.60" y="322.60" font-size="10.8" text-anchor="end" fill="#1a1a1a" font-family="'Liberation Serif', serif" stroke="#1a1a1a" stroke-width="0.22" >FAM87A-oe</text>
<text x="97.00" y="304.50" font-size="10.5" text-anchor="middle" fill="#1a1a1a" font-family="'Liberation Serif', serif" stroke="#1a1a1a" stroke-width="0.22" >–</text>
<text x="97.00" y="322.50" font-size="10.5" text-anchor="middle" fill="#1a1a1a" font-family="'Liberation Serif', serif" stroke="#1a1a1a" stroke-width="0.22" >–</text>
<text x="146.50" y="304.50" font-size="10.5" text-anchor="middle" fill="#1a1a1a" font-family="'Liberation Serif', serif" stroke="#1a1a1a" stroke-width="0.22" >+</text>
<text x="146.50" y="322.50" font-size="10.5" text-anchor="middle" fill="#1a1a1a" font-family="'Liberation Serif', serif" stroke="#1a1a1a" stroke-width="0.22" >–</text>
<text x="197.50" y="304.50" font-size="10.5" text-anchor="middle" fill="#1a1a1a" font-family="'Liberation Serif', serif" stroke="#1a1a1a" stroke-width="0.22" >–</text>
<text x="197.50" y="322.50" font-size="10.5" text-anchor="middle" fill="#1a1a1a" font-family="'Liberation Serif', serif" stroke="#1a1a1a" stroke-width="0.22" >+</text>
<text x="243.80" y="304.50" font-size="10.5" text-anchor="middle" fill="#1a1a1a" font-family="'Liberation Serif', serif" stroke="#1a1a1a" stroke-width="0.22" >+</text>
<text x="243.80" y="322.50" font-size="10.5" text-anchor="middle" fill="#1a1a1a" font-family="'Liberation Serif', serif" stroke="#1a1a1a" stroke-width="0.22" >+</text>
<defs><filter id="bl" x="-20%" y="-60%" width="140%" height="220%"><feGaussianBlur stdDeviation="1.5"/></filter><filter id="bl2" x="-20%" y="-60%" width="140%" height="220%"><feGaussianBlur stdDeviation="2.2"/></filter><linearGradient id="bg1" x1="0" y1="0" x2="0" y2="1"><stop offset="0" stop-color="#bababa"/><stop offset="0.5" stop-color="#afafaf"/><stop offset="1" stop-color="#b8b8b8"/></linearGradient></defs>
<rect x="71.50" y="331.50" width="201.50" height="30.00" fill="url(#bg1)" />
<ellipse cx="154.25" cy="346.30" rx="10.75" ry="6.60" fill="#888" opacity="0.6" filter="url(#bl2)"/>
<ellipse cx="197.40" cy="348.30" rx="22.40" ry="10.75" fill="#888" opacity="0.6" filter="url(#bl2)"/>
<ellipse cx="245.80" cy="348.50" rx="21.50" ry="8.50" fill="#888" opacity="0.6" filter="url(#bl2)"/>
<rect x="145.50" y="342.70" width="17.50" height="7.20" rx="3.60" fill="#0c0c0c" filter="url(#bl)"/>
<rect x="177.00" y="340.55" width="40.80" height="15.50" rx="6.00" fill="#0c0c0c" filter="url(#bl)"/>
<rect x="226.30" y="343.00" width="39.00" height="11.00" rx="5.50" fill="#0c0c0c" filter="url(#bl)"/>
<ellipse cx="98.5" cy="348" rx="22" ry="9" fill="#888" opacity="0.6" filter="url(#bl2)"/>
<path d="M79,348.6 C79,343.2 83,342.4 89,342.5 C97,342.7 103,341.4 110,341.4 C116,341.4 118.5,343 118.5,346.6 C118.5,350.6 116,351.9 110,351.9 C103,351.9 97,354.6 89,354.6 C82,354.6 79,353 79,348.6 Z" fill="#0c0c0c" filter="url(#bl)"/>
<ellipse cx="135.4" cy="346.4" rx="2.9" ry="3.0" fill="#111" filter="url(#bl)"/>
<ellipse cx="143.5" cy="346.6" rx="2.5" ry="2.2" fill="#555" filter="url(#bl)"/>
<rect x="71.50" y="369.20" width="201.50" height="29.80" fill="url(#bg1)" />
<ellipse cx="97.25" cy="385.70" rx="22.35" ry="8.50" fill="#888" opacity="0.6" filter="url(#bl2)"/>
<ellipse cx="147.30" cy="385.30" rx="19.90" ry="8.00" fill="#888" opacity="0.6" filter="url(#bl2)"/>
<ellipse cx="195.15" cy="385.70" rx="22.85" ry="8.25" fill="#888" opacity="0.6" filter="url(#bl2)"/>
<ellipse cx="248.35" cy="385.70" rx="21.65" ry="8.25" fill="#888" opacity="0.6" filter="url(#bl2)"/>
<rect x="76.90" y="380.20" width="40.70" height="11.00" rx="5.50" fill="#0c0c0c" filter="url(#bl)"/>
<rect x="129.40" y="380.30" width="35.80" height="10.00" rx="5.00" fill="#0c0c0c" filter="url(#bl)"/>
<rect x="174.30" y="380.45" width="41.70" height="10.50" rx="5.25" fill="#0c0c0c" filter="url(#bl)"/>
<rect x="228.70" y="380.45" width="39.30" height="10.50" rx="5.25" fill="#0c0c0c" filter="url(#bl)"/>
<rect x="71.50" y="405.20" width="201.50" height="30.30" fill="url(#bg1)" />
<ellipse cx="96.10" cy="419.00" rx="21.20" ry="7.75" fill="#888" opacity="0.6" filter="url(#bl2)"/>
<ellipse cx="141.00" cy="420.00" rx="17.00" ry="6.25" fill="#888" opacity="0.6" filter="url(#bl2)"/>
<ellipse cx="193.05" cy="420.80" rx="24.45" ry="8.40" fill="#888" opacity="0.6" filter="url(#bl2)"/>
<ellipse cx="247.85" cy="420.20" rx="21.15" ry="8.25" fill="#888" opacity="0.6" filter="url(#bl2)"/>
<rect x="76.90" y="414.25" width="38.40" height="9.50" rx="4.75" fill="#0c0c0c" filter="url(#bl)"/>
<rect x="126.00" y="416.75" width="30.00" height="6.50" rx="3.25" fill="#0c0c0c" filter="url(#bl)"/>
<rect x="170.60" y="415.40" width="44.90" height="10.80" rx="5.40" fill="#0c0c0c" filter="url(#bl)"/>
<rect x="228.70" y="414.95" width="38.30" height="10.50" rx="5.25" fill="#0c0c0c" filter="url(#bl)"/>
<rect x="71.50" y="441.20" width="201.50" height="30.00" fill="url(#bg1)" />
<ellipse cx="96.75" cy="456.00" rx="21.85" ry="8.75" fill="#888" opacity="0.6" filter="url(#bl2)"/>
<ellipse cx="146.45" cy="456.00" rx="22.45" ry="8.50" fill="#888" opacity="0.6" filter="url(#bl2)"/>
<ellipse cx="195.15" cy="456.00" rx="22.85" ry="8.50" fill="#888" opacity="0.6" filter="url(#bl2)"/>
<ellipse cx="244.95" cy="456.00" rx="22.35" ry="8.50" fill="#888" opacity="0.6" filter="url(#bl2)"/>
<rect x="76.90" y="450.25" width="39.70" height="11.50" rx="5.75" fill="#0c0c0c" filter="url(#bl)"/>
<rect x="126.00" y="450.50" width="40.90" height="11.00" rx="5.50" fill="#0c0c0c" filter="url(#bl)"/>
<rect x="174.30" y="450.50" width="41.70" height="11.00" rx="5.50" fill="#0c0c0c" filter="url(#bl)"/>
<rect x="224.60" y="450.50" width="40.70" height="11.00" rx="5.50" fill="#0c0c0c" filter="url(#bl)"/>
<text x="67.20" y="352.80" font-size="11" text-anchor="end" fill="#1a1a1a" font-family="'Liberation Serif', serif" stroke="#1a1a1a" stroke-width="0.22" >PPM1H</text>
<text x="67.20" y="389.30" font-size="11" text-anchor="end" fill="#1a1a1a" font-family="'Liberation Serif', serif" stroke="#1a1a1a" stroke-width="0.22" >GAPDH</text>
<text x="67.20" y="423.80" font-size="11" text-anchor="end" fill="#1a1a1a" font-family="'Liberation Serif', serif" stroke="#1a1a1a" stroke-width="0.22" >PPM1H</text>
<text x="67.20" y="459.80" font-size="11" text-anchor="end" fill="#1a1a1a" font-family="'Liberation Serif', serif" stroke="#1a1a1a" stroke-width="0.22" >GAPDH</text>
<text x="276.50" y="373.80" font-size="11" text-anchor="start" fill="#1a1a1a" font-family="'Liberation Serif', serif" stroke="#1a1a1a" stroke-width="0.22" >T98G</text>
<text x="276.50" y="442.30" font-size="11" text-anchor="start" fill="#1a1a1a" font-family="'Liberation Serif', serif" stroke="#1a1a1a" stroke-width="0.22" >A172</text>
<text x="155.00" y="488.80" font-size="10.5" text-anchor="middle" fill="#1a1a1a" font-family="'Liberation Serif', serif" stroke="#1a1a1a" stroke-width="0.22" >(f)</text>
<line x1="392.30" y1="270.40" x2="392.30" y2="415.20" stroke="#3a3a3a" stroke-width="1.1" />
<line x1="391.80" y1="414.70" x2="611.00" y2="414.70" stroke="#3a3a3a" stroke-width="1.1" />
<line x1="388.80" y1="414.70" x2="392.30" y2="414.70" stroke="#3a3a3a" stroke-width="1" />
<text x="385.70" y="418.40" font-size="10.8" text-anchor="end" fill="#1a1a1a" font-family="'Liberation Serif', serif" stroke="#1a1a1a" stroke-width="0.22" >0.0</text>
<line x1="388.80" y1="366.60" x2="392.30" y2="366.60" stroke="#3a3a3a" stroke-width="1" />
<text x="385.70" y="370.30" font-size="10.8" text-anchor="end" fill="#1a1a1a" font-family="'Liberation Serif', serif" stroke="#1a1a1a" stroke-width="0.22" >0.5</text>
<line x1="388.80" y1="318.50" x2="392.30" y2="318.50" stroke="#3a3a3a" stroke-width="1" />
<text x="385.70" y="322.20" font-size="10.8" text-anchor="end" fill="#1a1a1a" font-family="'Liberation Serif', serif" stroke="#1a1a1a" stroke-width="0.22" >1.0</text>
<line x1="388.80" y1="270.40" x2="392.30" y2="270.40" stroke="#3a3a3a" stroke-width="1" />
<text x="385.70" y="274.10" font-size="10.8" text-anchor="end" fill="#1a1a1a" font-family="'Liberation Serif', serif" stroke="#1a1a1a" stroke-width="0.22" >1.5</text>
<line x1="426.65" y1="319.50" x2="426.65" y2="310.10" stroke="#111" stroke-width="1.1" />
<line x1="420.45" y1="310.10" x2="432.85" y2="310.10" stroke="#111" stroke-width="1.1" />
<rect x="413.30" y="318.50" width="26.70" height="96.20" fill="#050505" />
<line x1="467.40" y1="362.50" x2="467.40" y2="353.00" stroke="#111" stroke-width="1.1" />
<line x1="461.20" y1="353.00" x2="473.60" y2="353.00" stroke="#111" stroke-width="1.1" />
<rect x="453.60" y="361.50" width="27.60" height="53.20" fill="#7d7f81" />
<line x1="535.30" y1="325.00" x2="535.30" y2="314.80" stroke="#111" stroke-width="1.1" />
<line x1="529.10" y1="314.80" x2="541.50" y2="314.80" stroke="#111" stroke-width="1.1" />
<rect x="522.00" y="324.00" width="26.60" height="90.70" fill="#050505" />
<line x1="576.30" y1="330.60" x2="576.30" y2="321.70" stroke="#111" stroke-width="1.1" />
<line x1="570.10" y1="321.70" x2="582.50" y2="321.70" stroke="#111" stroke-width="1.1" />
<rect x="562.70" y="329.60" width="27.20" height="85.10" fill="#7d7f81" />
<line x1="447.00" y1="414.70" x2="447.00" y2="418.70" stroke="#3a3a3a" stroke-width="1" />
<line x1="556.00" y1="414.70" x2="556.00" y2="418.70" stroke="#3a3a3a" stroke-width="1" />
<text x="467.40" y="352.50" font-size="11.5" text-anchor="middle" fill="#707070" font-family="'Liberation Serif', serif" >**</text>
<text x="447.00" y="431.50" font-size="10.9" text-anchor="middle" fill="#1a1a1a" font-family="'Liberation Serif', serif" stroke="#1a1a1a" stroke-width="0.22" >PPM1H wt</text>
<text x="556.00" y="431.50" font-size="10.9" text-anchor="middle" fill="#1a1a1a" font-family="'Liberation Serif', serif" stroke="#1a1a1a" stroke-width="0.22" >PPM1H mut</text>
<text x="362.00" y="342.60" font-size="10.9" text-anchor="middle" fill="#1a1a1a" font-family="'Liberation Serif', serif" stroke="#1a1a1a" stroke-width="0.22" transform="rotate(-90 362.00 342.60)" >Relative luciferase activity</text>
<rect x="392.60" y="445.70" width="6.50" height="6.50" fill="#050505" />
<rect x="392.60" y="460.50" width="6.50" height="6.50" fill="#7d7f81" />
<text x="405.90" y="452.60" font-size="11.2" text-anchor="start" fill="#1a1a1a" font-family="'Liberation Serif', serif" stroke="#1a1a1a" stroke-width="0.22" >NC-mimic</text>
<text x="405.90" y="467.20" font-size="11.0" text-anchor="start" fill="#1a1a1a" font-family="'Liberation Serif', serif" stroke="#1a1a1a" stroke-width="0.22" >miR-424-5p</text>
<text x="467.00" y="489.30" font-size="10.5" text-anchor="start" fill="#1a1a1a" font-family="'Liberation Serif', serif" stroke="#1a1a1a" stroke-width="0.22" >(g)</text>
<line x1="250.20" y1="506.90" x2="250.20" y2="642.20" stroke="#3a3a3a" stroke-width="1.1" />
<line x1="249.70" y1="641.70" x2="446.00" y2="641.70" stroke="#3a3a3a" stroke-width="1.1" />
<line x1="246.70" y1="641.70" x2="250.20" y2="641.70" stroke="#3a3a3a" stroke-width="1" />
<text x="243.60" y="645.40" font-size="10.6" text-anchor="end" fill="#1a1a1a" font-family="'Liberation Serif', serif" stroke="#1a1a1a" stroke-width="0.22" >0.0</text>
<line x1="246.70" y1="596.90" x2="250.20" y2="596.90" stroke="#3a3a3a" stroke-width="1" />
<text x="243.60" y="600.60" font-size="10.6" text-anchor="end" fill="#1a1a1a" font-family="'Liberation Serif', serif" stroke="#1a1a1a" stroke-width="0.22" >0.5</text>
<line x1="246.70" y1="552.10" x2="250.20" y2="552.10" stroke="#3a3a3a" stroke-width="1" />
<text x="243.60" y="555.80" font-size="10.6" text-anchor="end" fill="#1a1a1a" font-family="'Liberation Serif', serif" stroke="#1a1a1a" stroke-width="0.22" >1.0</text>
<line x1="246.70" y1="507.30" x2="250.20" y2="507.30" stroke="#3a3a3a" stroke-width="1" />
<text x="243.60" y="511.00" font-size="10.6" text-anchor="end" fill="#1a1a1a" font-family="'Liberation Serif', serif" stroke="#1a1a1a" stroke-width="0.22" >1.5</text>
<line x1="281.95" y1="553.30" x2="281.95" y2="542.40" stroke="#111" stroke-width="1.1" />
<line x1="276.15" y1="542.40" x2="287.75" y2="542.40" stroke="#111" stroke-width="1.1" />
<rect x="269.50" y="552.30" width="24.90" height="89.40" fill="#050505" />
<line x1="319.65" y1="553.30" x2="319.65" y2="546.10" stroke="#111" stroke-width="1.1" />
<line x1="313.85" y1="546.10" x2="325.45" y2="546.10" stroke="#111" stroke-width="1.1" />
<rect x="307.30" y="552.30" width="24.70" height="89.40" fill="#7d7f81" />
<line x1="382.35" y1="553.80" x2="382.35" y2="544.00" stroke="#111" stroke-width="1.1" />
<line x1="376.55" y1="544.00" x2="388.15" y2="544.00" stroke="#111" stroke-width="1.1" />
<rect x="370.00" y="552.80" width="24.70" height="88.90" fill="#050505" />
<line x1="420.15" y1="592.60" x2="420.15" y2="586.00" stroke="#111" stroke-width="1.1" />
<line x1="414.35" y1="586.00" x2="425.95" y2="586.00" stroke="#111" stroke-width="1.1" />
<rect x="407.80" y="591.60" width="24.70" height="50.10" fill="#7d7f81" />
<line x1="301.60" y1="641.70" x2="301.60" y2="645.70" stroke="#3a3a3a" stroke-width="1" />
<line x1="401.60" y1="641.70" x2="401.60" y2="645.70" stroke="#3a3a3a" stroke-width="1" />
<text x="420.00" y="586.30" font-size="11.5" text-anchor="middle" fill="#707070" font-family="'Liberation Serif', serif" >**</text>
<text x="301.60" y="656.80" font-size="10.8" text-anchor="middle" fill="#1a1a1a" font-family="'Liberation Serif', serif" stroke="#1a1a1a" stroke-width="0.22" >IgG</text>
<text x="401.60" y="656.80" font-size="10.8" text-anchor="middle" fill="#1a1a1a" font-family="'Liberation Serif', serif" stroke="#1a1a1a" stroke-width="0.22" >AGO2</text>
<text x="212.00" y="579.50" font-size="11" text-anchor="middle" fill="#1a1a1a" font-family="'Liberation Serif', serif" stroke="#1a1a1a" stroke-width="0.22" transform="rotate(-90 212.00 579.50)" >T98G</text>
<text x="224.30" y="575.60" font-size="11" text-anchor="middle" fill="#1a1a1a" font-family="'Liberation Serif', serif" stroke="#1a1a1a" stroke-width="0.22" transform="rotate(-90 224.30 575.60)" >relative expression of PPM1H</text>
<rect x="250.50" y="680.00" width="11.10" height="9.90" fill="#050505" />
<rect x="250.50" y="696.50" width="11.10" height="10.20" fill="#7d7f81" />
<text x="268.50" y="688.60" font-size="11.1" text-anchor="start" fill="#1a1a1a" font-family="'Liberation Serif', serif" stroke="#1a1a1a" stroke-width="0.22" >NC-ctrl</text>
<text x="268.50" y="705.40" font-size="11.0" text-anchor="start" fill="#1a1a1a" font-family="'Liberation Serif', serif" stroke="#1a1a1a" stroke-width="0.22" >FAM87A-oe</text>
<text x="316.00" y="727.00" font-size="10.5" text-anchor="start" fill="#1a1a1a" font-family="'Liberation Serif', serif" stroke="#1a1a1a" stroke-width="0.22" >(h)</text>
<line x1="127.40" y1="750.40" x2="127.40" y2="874.00" stroke="#3a3a3a" stroke-width="1.1" />
<line x1="126.90" y1="873.50" x2="312.70" y2="873.50" stroke="#3a3a3a" stroke-width="1.1" />
<line x1="123.90" y1="873.50" x2="127.40" y2="873.50" stroke="#3a3a3a" stroke-width="1" />
<text x="120.20" y="877.10" font-size="10.5" text-anchor="end" fill="#1a1a1a" font-family="'Liberation Serif', serif" stroke="#1a1a1a" stroke-width="0.22" >0.0</text>
<line x1="123.90" y1="853.00" x2="127.40" y2="853.00" stroke="#3a3a3a" stroke-width="1" />
<text x="120.20" y="856.60" font-size="10.5" text-anchor="end" fill="#1a1a1a" font-family="'Liberation Serif', serif" stroke="#1a1a1a" stroke-width="0.22" >0.2</text>
<line x1="123.90" y1="832.50" x2="127.40" y2="832.50" stroke="#3a3a3a" stroke-width="1" />
<text x="120.20" y="836.10" font-size="10.5" text-anchor="end" fill="#1a1a1a" font-family="'Liberation Serif', serif" stroke="#1a1a1a" stroke-width="0.22" >0.4</text>
<line x1="123.90" y1="812.00" x2="127.40" y2="812.00" stroke="#3a3a3a" stroke-width="1" />
<text x="120.20" y="815.60" font-size="10.5" text-anchor="end" fill="#1a1a1a" font-family="'Liberation Serif', serif" stroke="#1a1a1a" stroke-width="0.22" >0.6</text>
<line x1="123.90" y1="791.50" x2="127.40" y2="791.50" stroke="#3a3a3a" stroke-width="1" />
<text x="120.20" y="795.10" font-size="10.5" text-anchor="end" fill="#1a1a1a" font-family="'Liberation Serif', serif" stroke="#1a1a1a" stroke-width="0.22" >0.8</text>
<line x1="123.90" y1="771.00" x2="127.40" y2="771.00" stroke="#3a3a3a" stroke-width="1" />
<text x="120.20" y="774.60" font-size="10.5" text-anchor="end" fill="#1a1a1a" font-family="'Liberation Serif', serif" stroke="#1a1a1a" stroke-width="0.22" >1.0</text>
<line x1="123.90" y1="750.50" x2="127.40" y2="750.50" stroke="#3a3a3a" stroke-width="1" />
<text x="120.20" y="754.10" font-size="10.5" text-anchor="end" fill="#1a1a1a" font-family="'Liberation Serif', serif" stroke="#1a1a1a" stroke-width="0.22" >1.2</text>
<line x1="145.60" y1="873.50" x2="145.60" y2="877.50" stroke="#3a3a3a" stroke-width="1" />
<text x="145.60" y="888.50" font-size="11" text-anchor="middle" fill="#1a1a1a" font-family="'Liberation Serif', serif" stroke="#1a1a1a" stroke-width="0.22" >24</text>
<line x1="182.60" y1="873.50" x2="182.60" y2="877.50" stroke="#3a3a3a" stroke-width="1" />
<text x="182.60" y="888.50" font-size="11" text-anchor="middle" fill="#1a1a1a" font-family="'Liberation Serif', serif" stroke="#1a1a1a" stroke-width="0.22" >48</text>
<line x1="219.60" y1="873.50" x2="219.60" y2="877.50" stroke="#3a3a3a" stroke-width="1" />
<text x="219.60" y="888.50" font-size="11" text-anchor="middle" fill="#1a1a1a" font-family="'Liberation Serif', serif" stroke="#1a1a1a" stroke-width="0.22" >72</text>
<line x1="256.50" y1="873.50" x2="256.50" y2="877.50" stroke="#3a3a3a" stroke-width="1" />
<text x="256.50" y="888.50" font-size="11" text-anchor="middle" fill="#1a1a1a" font-family="'Liberation Serif', serif" stroke="#1a1a1a" stroke-width="0.22" >96</text>
<line x1="293.70" y1="873.50" x2="293.70" y2="877.50" stroke="#3a3a3a" stroke-width="1" />
<text x="293.70" y="888.50" font-size="11" text-anchor="middle" fill="#1a1a1a" font-family="'Liberation Serif', serif" stroke="#1a1a1a" stroke-width="0.22" >120</text>
<polyline points="145.60,839.67 182.60,818.15 219.60,799.19 256.50,785.86 293.70,767.92" fill="none" stroke="#ee4420" stroke-width="1.35"/>
<polyline points="145.60,844.80 182.60,823.27 219.60,807.90 256.50,804.83 293.70,791.50" fill="none" stroke="#0a0a0a" stroke-width="1.6"/>
<line x1="145.60" y1="837.62" x2="145.60" y2="841.73" stroke="#ee4420" stroke-width="1.9" />
<line x1="143.60" y1="837.62" x2="147.60" y2="837.62" stroke="#ee4420" stroke-width="1.7" />
<line x1="143.60" y1="841.73" x2="147.60" y2="841.73" stroke="#ee4420" stroke-width="1.7" />
<rect x="143.30" y="837.38" width="4.60" height="4.60" fill="#ee4420" />
<line x1="182.60" y1="814.05" x2="182.60" y2="822.25" stroke="#ee4420" stroke-width="1.9" />
<line x1="180.60" y1="814.05" x2="184.60" y2="814.05" stroke="#ee4420" stroke-width="1.7" />
<line x1="180.60" y1="822.25" x2="184.60" y2="822.25" stroke="#ee4420" stroke-width="1.7" />
<rect x="180.30" y="815.85" width="4.60" height="4.60" fill="#ee4420" />
<line x1="219.60" y1="794.06" x2="219.60" y2="804.31" stroke="#ee4420" stroke-width="1.9" />
<line x1="217.60" y1="794.06" x2="221.60" y2="794.06" stroke="#ee4420" stroke-width="1.7" />
<line x1="217.60" y1="804.31" x2="221.60" y2="804.31" stroke="#ee4420" stroke-width="1.7" />
<rect x="217.30" y="796.89" width="4.60" height="4.60" fill="#ee4420" />
<line x1="256.50" y1="777.66" x2="256.50" y2="794.06" stroke="#ee4420" stroke-width="1.9" />
<line x1="254.50" y1="777.66" x2="258.50" y2="777.66" stroke="#ee4420" stroke-width="1.7" />
<line x1="254.50" y1="794.06" x2="258.50" y2="794.06" stroke="#ee4420" stroke-width="1.7" />
<rect x="254.20" y="783.56" width="4.60" height="4.60" fill="#ee4420" />
<line x1="293.70" y1="759.73" x2="293.70" y2="776.12" stroke="#ee4420" stroke-width="1.9" />
<line x1="291.70" y1="759.73" x2="295.70" y2="759.73" stroke="#ee4420" stroke-width="1.7" />
<line x1="291.70" y1="776.12" x2="295.70" y2="776.12" stroke="#ee4420" stroke-width="1.7" />
<rect x="291.40" y="765.62" width="4.60" height="4.60" fill="#ee4420" />
<line x1="145.60" y1="841.73" x2="145.60" y2="847.88" stroke="#0a0a0a" stroke-width="2.0" />
<line x1="143.60" y1="841.73" x2="147.60" y2="841.73" stroke="#0a0a0a" stroke-width="1.8" />
<line x1="143.60" y1="847.88" x2="147.60" y2="847.88" stroke="#0a0a0a" stroke-width="1.8" />
<circle cx="145.60" cy="844.80" r="2.4" fill="#0a0a0a"/>
<line x1="182.60" y1="819.17" x2="182.60" y2="827.38" stroke="#0a0a0a" stroke-width="2.0" />
<line x1="180.60" y1="819.17" x2="184.60" y2="819.17" stroke="#0a0a0a" stroke-width="1.8" />
<line x1="180.60" y1="827.38" x2="184.60" y2="827.38" stroke="#0a0a0a" stroke-width="1.8" />
<circle cx="182.60" cy="823.27" r="2.4" fill="#0a0a0a"/>
<line x1="219.60" y1="801.75" x2="219.60" y2="814.05" stroke="#0a0a0a" stroke-width="2.0" />
<line x1="217.60" y1="801.75" x2="221.60" y2="801.75" stroke="#0a0a0a" stroke-width="1.8" />
<line x1="217.60" y1="814.05" x2="221.60" y2="814.05" stroke="#0a0a0a" stroke-width="1.8" />
<circle cx="219.60" cy="807.90" r="2.4" fill="#0a0a0a"/>
<line x1="256.50" y1="799.70" x2="256.50" y2="809.95" stroke="#0a0a0a" stroke-width="2.0" />
<line x1="254.50" y1="799.70" x2="258.50" y2="799.70" stroke="#0a0a0a" stroke-width="1.8" />
<line x1="254.50" y1="809.95" x2="258.50" y2="809.95" stroke="#0a0a0a" stroke-width="1.8" />
<circle cx="256.50" cy="804.83" r="2.4" fill="#0a0a0a"/>
<line x1="293.70" y1="783.30" x2="293.70" y2="799.70" stroke="#0a0a0a" stroke-width="2.0" />
<line x1="291.70" y1="783.30" x2="295.70" y2="783.30" stroke="#0a0a0a" stroke-width="1.8" />
<line x1="291.70" y1="799.70" x2="295.70" y2="799.70" stroke="#0a0a0a" stroke-width="1.8" />
<circle cx="293.70" cy="791.50" r="2.4" fill="#0a0a0a"/>
<text x="256.50" y="778.40" font-size="12" text-anchor="middle" fill="#8a8a8a" font-family="'Liberation Serif', serif" >*</text>
<text x="293.70" y="759.40" font-size="12" text-anchor="middle" fill="#8a8a8a" font-family="'Liberation Serif', serif" >*</text>
<text x="310.80" y="867.00" font-size="10.8" text-anchor="end" fill="#1a1a1a" font-family="'Liberation Serif', serif" stroke="#1a1a1a" stroke-width="0.22" >T98G</text>
<text x="219.50" y="904.20" font-size="11.2" text-anchor="middle" fill="#1a1a1a" font-family="'Liberation Serif', serif" stroke="#1a1a1a" stroke-width="0.22" >Time (h)</text>
<text x="100.30" y="812.80" font-size="10.8" text-anchor="middle" fill="#1a1a1a" font-family="'Liberation Serif', serif" stroke="#1a1a1a" stroke-width="0.22" transform="rotate(-90 100.30 812.80)" >OD value (490 nm)</text>
<line x1="366.00" y1="744.30" x2="366.00" y2="872.00" stroke="#3a3a3a" stroke-width="1.1" />
<line x1="365.50" y1="871.50" x2="557.70" y2="871.50" stroke="#3a3a3a" stroke-width="1.1" />
<line x1="362.50" y1="871.50" x2="366.00" y2="871.50" stroke="#3a3a3a" stroke-width="1" />
<text x="358.80" y="875.10" font-size="10.5" text-anchor="end" fill="#1a1a1a" font-family="'Liberation Serif', serif" stroke="#1a1a1a" stroke-width="0.22" >0.0</text>
<line x1="362.50" y1="850.30" x2="366.00" y2="850.30" stroke="#3a3a3a" stroke-width="1" />
<text x="358.80" y="853.90" font-size="10.5" text-anchor="end" fill="#1a1a1a" font-family="'Liberation Serif', serif" stroke="#1a1a1a" stroke-width="0.22" >0.2</text>
<line x1="362.50" y1="829.10" x2="366.00" y2="829.10" stroke="#3a3a3a" stroke-width="1" />
<text x="358.80" y="832.70" font-size="10.5" text-anchor="end" fill="#1a1a1a" font-family="'Liberation Serif', serif" stroke="#1a1a1a" stroke-width="0.22" >0.4</text>
<line x1="362.50" y1="807.90" x2="366.00" y2="807.90" stroke="#3a3a3a" stroke-width="1" />
<text x="358.80" y="811.50" font-size="10.5" text-anchor="end" fill="#1a1a1a" font-family="'Liberation Serif', serif" stroke="#1a1a1a" stroke-width="0.22" >0.6</text>
<line x1="362.50" y1="786.70" x2="366.00" y2="786.70" stroke="#3a3a3a" stroke-width="1" />
<text x="358.80" y="790.30" font-size="10.5" text-anchor="end" fill="#1a1a1a" font-family="'Liberation Serif', serif" stroke="#1a1a1a" stroke-width="0.22" >0.8</text>
<line x1="362.50" y1="765.50" x2="366.00" y2="765.50" stroke="#3a3a3a" stroke-width="1" />
<text x="358.80" y="769.10" font-size="10.5" text-anchor="end" fill="#1a1a1a" font-family="'Liberation Serif', serif" stroke="#1a1a1a" stroke-width="0.22" >1.0</text>
<line x1="362.50" y1="744.30" x2="366.00" y2="744.30" stroke="#3a3a3a" stroke-width="1" />
<text x="358.80" y="747.90" font-size="10.5" text-anchor="end" fill="#1a1a1a" font-family="'Liberation Serif', serif" stroke="#1a1a1a" stroke-width="0.22" >1.2</text>
<line x1="384.40" y1="871.50" x2="384.40" y2="875.50" stroke="#3a3a3a" stroke-width="1" />
<text x="384.40" y="886.50" font-size="11" text-anchor="middle" fill="#1a1a1a" font-family="'Liberation Serif', serif" stroke="#1a1a1a" stroke-width="0.22" >24</text>
<line x1="423.30" y1="871.50" x2="423.30" y2="875.50" stroke="#3a3a3a" stroke-width="1" />
<text x="423.30" y="886.50" font-size="11" text-anchor="middle" fill="#1a1a1a" font-family="'Liberation Serif', serif" stroke="#1a1a1a" stroke-width="0.22" >48</text>
<line x1="461.20" y1="871.50" x2="461.20" y2="875.50" stroke="#3a3a3a" stroke-width="1" />
<text x="461.20" y="886.50" font-size="11" text-anchor="middle" fill="#1a1a1a" font-family="'Liberation Serif', serif" stroke="#1a1a1a" stroke-width="0.22" >72</text>
<line x1="499.40" y1="871.50" x2="499.40" y2="875.50" stroke="#3a3a3a" stroke-width="1" />
<text x="499.40" y="886.50" font-size="11" text-anchor="middle" fill="#1a1a1a" font-family="'Liberation Serif', serif" stroke="#1a1a1a" stroke-width="0.22" >96</text>
<line x1="537.90" y1="871.50" x2="537.90" y2="875.50" stroke="#3a3a3a" stroke-width="1" />
<text x="537.90" y="886.50" font-size="11" text-anchor="middle" fill="#1a1a1a" font-family="'Liberation Serif', serif" stroke="#1a1a1a" stroke-width="0.22" >120</text>
<polyline points="384.40,847.12 423.30,826.98 461.20,801.54 499.40,782.46 537.90,764.44" fill="none" stroke="#ee4420" stroke-width="1.35"/>
<polyline points="384.40,846.06 423.30,825.92 461.20,813.20 499.40,797.30 537.90,786.70" fill="none" stroke="#0a0a0a" stroke-width="1.6"/>
<line x1="384.40" y1="845.00" x2="384.40" y2="849.24" stroke="#ee4420" stroke-width="1.9" />
<line x1="382.40" y1="845.00" x2="386.40" y2="845.00" stroke="#ee4420" stroke-width="1.7" />
<line x1="382.40" y1="849.24" x2="386.40" y2="849.24" stroke="#ee4420" stroke-width="1.7" />
<rect x="382.10" y="844.82" width="4.60" height="4.60" fill="#ee4420" />
<line x1="423.30" y1="819.56" x2="423.30" y2="834.40" stroke="#ee4420" stroke-width="1.9" />
<line x1="421.30" y1="819.56" x2="425.30" y2="819.56" stroke="#ee4420" stroke-width="1.7" />
<line x1="421.30" y1="834.40" x2="425.30" y2="834.40" stroke="#ee4420" stroke-width="1.7" />
<rect x="421.00" y="824.68" width="4.60" height="4.60" fill="#ee4420" />
<line x1="461.20" y1="794.12" x2="461.20" y2="808.96" stroke="#ee4420" stroke-width="1.9" />
<line x1="459.20" y1="794.12" x2="463.20" y2="794.12" stroke="#ee4420" stroke-width="1.7" />
<line x1="459.20" y1="808.96" x2="463.20" y2="808.96" stroke="#ee4420" stroke-width="1.7" />
<rect x="458.90" y="799.24" width="4.60" height="4.60" fill="#ee4420" />
<line x1="499.40" y1="776.10" x2="499.40" y2="788.82" stroke="#ee4420" stroke-width="1.9" />
<line x1="497.40" y1="776.10" x2="501.40" y2="776.10" stroke="#ee4420" stroke-width="1.7" />
<line x1="497.40" y1="788.82" x2="501.40" y2="788.82" stroke="#ee4420" stroke-width="1.7" />
<rect x="497.10" y="780.16" width="4.60" height="4.60" fill="#ee4420" />
<line x1="537.90" y1="755.96" x2="537.90" y2="772.92" stroke="#ee4420" stroke-width="1.9" />
<line x1="535.90" y1="755.96" x2="539.90" y2="755.96" stroke="#ee4420" stroke-width="1.7" />
<line x1="535.90" y1="772.92" x2="539.90" y2="772.92" stroke="#ee4420" stroke-width="1.7" />
<rect x="535.60" y="762.14" width="4.60" height="4.60" fill="#ee4420" />
<line x1="384.40" y1="843.94" x2="384.40" y2="848.18" stroke="#0a0a0a" stroke-width="2.0" />
<line x1="382.40" y1="843.94" x2="386.40" y2="843.94" stroke="#0a0a0a" stroke-width="1.8" />
<line x1="382.40" y1="848.18" x2="386.40" y2="848.18" stroke="#0a0a0a" stroke-width="1.8" />
<circle cx="384.40" cy="846.06" r="2.4" fill="#0a0a0a"/>
<line x1="423.30" y1="820.62" x2="423.30" y2="831.22" stroke="#0a0a0a" stroke-width="2.0" />
<line x1="421.30" y1="820.62" x2="425.30" y2="820.62" stroke="#0a0a0a" stroke-width="1.8" />
<line x1="421.30" y1="831.22" x2="425.30" y2="831.22" stroke="#0a0a0a" stroke-width="1.8" />
<circle cx="423.30" cy="825.92" r="2.4" fill="#0a0a0a"/>
<line x1="461.20" y1="807.90" x2="461.20" y2="818.50" stroke="#0a0a0a" stroke-width="2.0" />
<line x1="459.20" y1="807.90" x2="463.20" y2="807.90" stroke="#0a0a0a" stroke-width="1.8" />
<line x1="459.20" y1="818.50" x2="463.20" y2="818.50" stroke="#0a0a0a" stroke-width="1.8" />
<circle cx="461.20" cy="813.20" r="2.4" fill="#0a0a0a"/>
<line x1="499.40" y1="792.00" x2="499.40" y2="802.60" stroke="#0a0a0a" stroke-width="2.0" />
<line x1="497.40" y1="792.00" x2="501.40" y2="792.00" stroke="#0a0a0a" stroke-width="1.8" />
<line x1="497.40" y1="802.60" x2="501.40" y2="802.60" stroke="#0a0a0a" stroke-width="1.8" />
<circle cx="499.40" cy="797.30" r="2.4" fill="#0a0a0a"/>
<line x1="537.90" y1="780.34" x2="537.90" y2="793.06" stroke="#0a0a0a" stroke-width="2.0" />
<line x1="535.90" y1="780.34" x2="539.90" y2="780.34" stroke="#0a0a0a" stroke-width="1.8" />
<line x1="535.90" y1="793.06" x2="539.90" y2="793.06" stroke="#0a0a0a" stroke-width="1.8" />
<circle cx="537.90" cy="786.70" r="2.4" fill="#0a0a0a"/>
<text x="537.90" y="755.40" font-size="12" text-anchor="middle" fill="#8a8a8a" font-family="'Liberation Serif', serif" >*</text>
<text x="557.50" y="867.20" font-size="10.8" text-anchor="end" fill="#1a1a1a" font-family="'Liberation Serif', serif" stroke="#1a1a1a" stroke-width="0.22" >A172</text>
<text x="456.90" y="903.00" font-size="11.2" text-anchor="middle" fill="#1a1a1a" font-family="'Liberation Serif', serif" stroke="#1a1a1a" stroke-width="0.22" >Time (h)</text>
<text x="338.60" y="808.00" font-size="10.8" text-anchor="middle" fill="#1a1a1a" font-family="'Liberation Serif', serif" stroke="#1a1a1a" stroke-width="0.22" transform="rotate(-90 338.60 808.00)" >OD value (490 nm)</text>
<line x1="127.70" y1="923.80" x2="145.50" y2="923.80" stroke="#0a0a0a" stroke-width="1.4" />
<circle cx="136.60" cy="923.80" r="2.4" fill="#0a0a0a"/>
<line x1="127.70" y1="940.50" x2="145.50" y2="940.50" stroke="#ee4420" stroke-width="1.4" />
<rect x="134.30" y="938.20" width="4.60" height="4.60" fill="#ee4420" />
<text x="151.90" y="927.40" font-size="11.3" text-anchor="start" fill="#1a1a1a" font-family="'Liberation Serif', serif" stroke="#1a1a1a" stroke-width="0.22" >sh-NC</text>
<text x="151.90" y="944.10" font-size="11.2" text-anchor="start" fill="#1a1a1a" font-family="'Liberation Serif', serif" stroke="#1a1a1a" stroke-width="0.22" >sh-PPM1H</text>
<text x="317.00" y="964.70" font-size="10.5" text-anchor="start" fill="#1a1a1a" font-family="'Liberation Serif', serif" stroke="#1a1a1a" stroke-width="0.22" >(i)</text>
<text x="239.30" y="985.30" font-size="11.5" text-anchor="middle" fill="#1a1a1a" font-family="'Liberation Serif', serif" stroke="#1a1a1a" stroke-width="0.22" >T98G</text>
<line x1="173.00" y1="990.90" x2="318.10" y2="990.90" stroke="#555" stroke-width="1.2" />
<text x="433.00" y="985.30" font-size="11.5" text-anchor="middle" fill="#1a1a1a" font-family="'Liberation Serif', serif" stroke="#1a1a1a" stroke-width="0.22" >A172</text>
<line x1="365.20" y1="991.60" x2="506.30" y2="991.60" stroke="#555" stroke-width="1.2" />
<text x="143.00" y="1034.40" font-size="11.2" text-anchor="end" fill="#1a1a1a" font-family="'Liberation Serif', serif" stroke="#1a1a1a" stroke-width="0.22" >Migration</text>
<text x="143.00" y="1091.80" font-size="11.1" text-anchor="end" fill="#1a1a1a" font-family="'Liberation Serif', serif" stroke="#1a1a1a" stroke-width="0.22" >Invasion</text>
<defs><filter id="cb" x="0" y="0" width="100%" height="100%"><feGaussianBlur stdDeviation="0.6"/></filter></defs>
<svg x="148.00" y="1000.60" width="90.40" height="50.60" overflow="hidden"><rect width="90.40" height="50.60" fill="#aca79b"/><g filter="url(#cb)" stroke-linecap="round" stroke-linejoin="round" fill="none"><path d="M12.1 42.9h0M69.0 12.9h0M44.8 22.7h0M58.9 39.9h0M8.5 1.4h0M75.6 21.9h0M68.9 0.1h0M40.3 36.5h0M20.7 47.8h0M81.5 1.5h0M2.3 27.4h0M84.9 19.3h0M19.6 21.4h0M2.6 11.2h0M39.6 25.1h0M21.1 11.7h0M19.8 23.3h0M26.2 1.1h0M75.7 28.2h0M58.1 9.4h0M89.7 43.5h0M10.9 16.8h0M65.2 36.0h0M84.7 21.4h0M75.0 33.9h0M27.4 29.7h0M79.8 42.8h0M45.7 29.8h0M3.1 12.3h0M72.1 21.0h0M15.6 27.8h0M63.6 34.1h0M33.9 22.2h0M46.0 39.4h0M47.1 19.9h0M44.3 1.5h0M3.9 35.6h0M88.9 30.0h0M35.6 8.6h0M45.4 49.7h0M69.7 27.3h0M77.8 11.7h0M46.4 48.2h0M52.2 23.2h0M24.3 27.7h0M86.5 0.3h0M70.8 41.5h0M80.1 37.5h0M73.1 26.2h0M50.7 21.6h0M5.1 44.0h0M51.5 10.1h0M45.6 24.5h0M32.3 17.5h0M48.7 31.5h0M55.4 23.2h0M2.5 11.6h0M16.0 29.6h0M77.8 40.4h0M72.1 41.3h0M23.1 42.6h0M60.8 4.2h0M1.5 0.7h0M68.3 12.6h0M9.9 31.6h0M31.1 3.5h0M14.4 26.7h0M15.2 13.8h0M64.3 23.0h0M29.1 24.0h0M2.1 19.6h0M38.1 9.5h0M9.8 45.5h0M46.1 10.6h0M54.8 41.3h0M1.9 0.9h0M13.2 36.4h0M14.5 35.7h0M61.3 27.6h0M19.9 49.4h0M72.1 26.1h0M20.2 32.8h0M35.7 29.1h0M29.0 31.9h0M5.3 15.1h0M87.5 44.3h0M27.7 43.4h0M28.1 47.5h0M67.2 21.1h0M22.8 0.4h0M79.4 1.9h0M74.1 48.7h0M51.6 8.7h0M78.4 49.3h0M63.6 25.7h0M34.2 17.6h0M18.6 34.1h0M39.1 9.8h0M9.4 33.7h0M26.8 25.3h0M29.4 44.1h0M81.3 0.9h0M18.2 16.6h0M89.2 39.6h0M30.7 10.8h0M61.0 42.4h0M84.3 17.4h0M79.8 34.8h0M43.8 49.9h0M21.2 36.7h0M7.7 8.6h0M82.4 10.8h0M68.6 30.4h0M76.0 18.6h0M30.8 14.7h0M78.4 30.6h0M86.3 44.9h0M12.2 27.9h0M9.4 2.0h0M6.6 43.8h0M71.2 41.9h0M30.8 31.1h0M70.7 19.1h0M51.6 11.3h0M7.4 13.5h0M80.5 28.6h0M83.6 23.2h0M25.1 39.8h0M74.8 0.6h0M60.6 4.6h0M10.4 44.8h0M3.6 12.1h0M89.3 21.3h0M10.4 8.5h0M21.8 37.6h0M9.3 46.1h0M34.2 49.1h0M82.2 14.9h0M22.9 24.1h0M9.1 33.0h0M3.6 0.5h0M88.8 15.0h0M53.9 22.8h0M28.3 3.2h0M82.6 49.1h0M87.7 5.6h0M19.5 31.3h0M88.6 27.5h0M62.2 33.5h0M23.4 27.4h0M27.8 12.5h0M7.4 14.2h0M88.9 22.7h0M58.9 32.6h0M85.0 19.8h0M27.7 16.6h0M28.6 42.9h0M80.8 15.3h0M30.2 27.5h0M52.3 30.2h0M22.2 1.0h0M22.0 3.7h0M49.8 3.6h0M6.8 32.2h0M26.3 40.1h0M44.6 43.7h0M13.9 25.4h0M71.9 3.9h0M85.8 8.8h0M70.2 49.8h0" stroke="#35302a" stroke-width="1.1"/><path d="M75.6 15.5l0.8 0.9M75.6 15.5l-0.9 -1.9M75.6 15.5M24.8 3.9l-0.8 -0.2M24.8 3.9M61.1 8.8l-2.4 -0.8M61.1 8.8l1.9 0.0M61.1 8.8l-1.1 1.8M61.1 8.8M71.9 44.2l-1.0 0.8M71.9 44.2M31.5 33.9l-2.4 -0.7M31.5 33.9l1.5 0.4M31.5 33.9M32.8 25.9l-1.7 1.3M32.8 25.9l0.2 -1.8M32.8 25.9M55.6 11.3l-1.1 1.2M55.6 11.3l-1.9 -1.2M55.6 11.3l1.7 -0.9M55.6 11.3M27.2 19.9l-0.8 -1.1M27.2 19.9l0.3 1.5M27.2 19.9M7.4 8.2l0.4 -1.1M7.4 8.2M22.3 25.1l0.8 0.3M22.3 25.1l-2.3 0.6M22.3 25.1M53.7 17.1l-1.5 -0.9M53.7 17.1l1.2 1.3M53.7 17.1M4.6 12.6l0.8 0.5M4.6 12.6l-0.6 -1.0M4.6 12.6M70.3 49.3l2.0 0.2M70.3 49.3M17.3 1.6l0.8 -0.9M17.3 1.6M58.1 52.3l-1.2 0.4M58.1 52.3l1.0 -1.9M58.1 52.3M6.5 2.9l-0.6 1.2M6.5 2.9l-0.9 -1.7M6.5 2.9l1.9 -1.1M6.5 2.9M50.2 20.9l-0.1 -1.1M50.2 20.9l1.7 1.2M50.2 20.9M6.3 27.4l-0.8 -0.9M6.3 27.4l-0.1 1.8M6.3 27.4M37.9 -1.8l0.8 -0.9M37.9 -1.8l-0.7 1.1M37.9 -1.8M82.8 5.8l2.1 0.0M82.8 5.8l-1.3 -0.3M82.8 5.8M63.8 42.3l-2.1 -0.5M63.8 42.3l2.1 0.6M63.8 42.3M8.3 -0.6l-1.4 0.4M8.3 -0.6l2.2 0.5M8.3 -0.6M12.6 26.6l1.5 0.4M12.6 26.6l-1.7 -1.2M12.6 26.6M48.8 19.3l2.4 0.2M48.8 19.3l-1.3 0.6M48.8 19.3M46.7 8.4l-1.4 0.9M46.7 8.4l0.4 -0.8M46.7 8.4M6.9 42.5l0.5 -0.7M6.9 42.5l-0.7 1.5M6.9 42.5M5.3 40.9l0.3 -1.5M5.3 40.9M53.8 5.1l0.3 -1.0M53.8 5.1l-1.0 1.8M53.8 5.1M41.7 13.9l-0.6 -1.1M41.7 13.9l0.4 2.2M41.7 13.9M74.7 50.2l0.7 -1.8M74.7 50.2M17.6 25.7l1.2 -0.9M17.6 25.7l-0.7 0.8M17.6 25.7M22.0 -1.8l1.8 0.2M22.0 -1.8l-1.6 0.7M22.0 -1.8M50.8 22.8l0.4 2.2M50.8 22.8l-1.7 -1.7M50.8 22.8l0.8 -0.5M50.8 22.8M16.6 17.6l1.6 -0.3M16.6 17.6l-0.6 0.9M16.6 17.6M83.6 13.6l2.3 -0.4M83.6 13.6M47.1 -0.7l-0.5 -0.7M47.1 -0.7M29.8 18.1l-1.3 -1.1M29.8 18.1l2.1 1.0M29.8 18.1M45.2 42.2l0.8 -1.2M45.2 42.2l-1.7 0.8M45.2 42.2M80.5 51.3l-0.7 1.1M80.5 51.3l0.7 -0.5M80.5 51.3M89.9 8.8l1.7 0.2M89.9 8.8l-1.6 -0.3M89.9 8.8M48.9 11.9l0.0 -1.6M48.9 11.9M31.6 40.9l-0.5 -2.1M31.6 40.9l0.2 0.8M31.6 40.9M53.6 41.0l-0.0 -1.4M53.6 41.0l1.5 1.7M53.6 41.0" stroke="#6248b8" stroke-width="2.00"/><path d="M75.5 32.0l0.4 1.7M75.5 32.0l0.0 -2.4M75.5 32.0M84.9 48.8l-1.6 1.2M84.9 48.8l0.4 -2.0M84.9 48.8M23.3 47.8l-2.4 -0.5M23.3 47.8M-0.0 32.3l0.3 1.3M-0.0 32.3l-0.2 -1.3M-0.0 32.3M21.7 35.3l-2.3 -0.6M21.7 35.3l1.8 -0.4M21.7 35.3M61.6 37.5l-1.8 0.4M61.6 37.5M-1.6 13.2l-0.7 -1.6M-1.6 13.2l2.1 0.4M-1.6 13.2l-0.1 2.1M-1.6 13.2M4.4 51.9l-0.9 -1.3M4.4 51.9l0.4 1.9M4.4 51.9M80.5 27.7l0.8 -1.5M80.5 27.7l0.4 0.8M80.5 27.7l-2.1 0.2M80.5 27.7M55.1 9.4l0.4 -1.2M55.1 9.4l-1.8 1.5M55.1 9.4M89.9 22.2l-1.1 -0.1M89.9 22.2l2.3 -0.8M89.9 22.2M20.0 22.6l0.0 1.3M20.0 22.6l-0.2 -1.5M20.0 22.6M34.2 29.7l0.9 2.1M34.2 29.7l-1.8 1.3M34.2 29.7l1.2 -0.9M34.2 29.7M10.3 13.2l-1.9 0.3M10.3 13.2l-0.9 -1.7M10.3 13.2l0.6 0.7M10.3 13.2M61.8 27.7l1.0 -2.0M61.8 27.7l1.3 0.0M61.8 27.7l-2.0 0.7M61.8 27.7M73.9 24.4l0.7 2.5M73.9 24.4l-1.2 0.8M73.9 24.4l1.8 -1.3M73.9 24.4M65.6 3.0l0.9 -0.9M65.6 3.0l-1.2 0.3M65.6 3.0M87.9 19.8l0.8 1.7M87.9 19.8M46.0 12.8l0.9 0.9M46.0 12.8l-1.8 -0.7M46.0 12.8l0.7 -0.6M46.0 12.8M20.8 7.6l-0.9 -0.0M20.8 7.6l1.6 -1.2M20.8 7.6l-0.4 2.2M20.8 7.6M2.7 -0.3l-1.8 1.1M2.7 -0.3l-0.5 -0.9M2.7 -0.3l0.6 0.5M2.7 -0.3M88.5 4.1l-1.8 0.9M88.5 4.1l1.5 -0.9M88.5 4.1M48.6 19.5l-0.9 -0.3M48.6 19.5l1.1 -0.0M48.6 19.5M5.0 29.6l0.9 -2.2M5.0 29.6l1.8 1.5M5.0 29.6l-2.3 0.2M5.0 29.6M39.5 4.4l-0.9 1.8M39.5 4.4l0.8 -2.4M39.5 4.4M-1.1 42.5l-1.2 -2.2M-1.1 42.5l0.8 0.4M-1.1 42.5l-1.4 1.5M-1.1 42.5M34.2 43.5l-0.4 -0.9M34.2 43.5l2.2 1.2M34.2 43.5l-1.6 1.6M34.2 43.5M42.5 24.9l-1.7 0.5M42.5 24.9l1.3 -2.1M42.5 24.9l0.9 0.5M42.5 24.9M71.2 49.1l-0.4 0.8M71.2 49.1l0.3 -1.2M71.2 49.1M1.6 7.2l2.1 -0.6M1.6 7.2l0.2 1.3M1.6 7.2l-2.1 -0.9M1.6 7.2M26.8 38.9l1.4 1.3M26.8 38.9l-1.4 -0.4M26.8 38.9M82.8 0.2l-0.9 -0.7M82.8 0.2M16.9 22.2l-1.2 -0.7M16.9 22.2l0.6 -0.7M16.9 22.2l0.4 1.1M16.9 22.2" stroke="#5038a6" stroke-width="2.10"/><path d="M9.8 12.1l-1.1 0.1M9.8 12.1l0.9 -1.4M9.8 12.1l-0.5 1.3M9.8 12.1M55.7 37.8l0.9 0.3M55.7 37.8l-2.4 0.3M55.7 37.8M70.3 46.2l-1.1 -2.0M70.3 46.2l0.2 2.1M70.3 46.2M44.7 19.5l-1.0 -0.4M44.7 19.5l0.8 -0.3M44.7 19.5l0.6 2.2M44.7 19.5M36.5 4.4l1.2 1.8M36.5 4.4l-0.1 -1.1M36.5 4.4M45.5 17.5l1.7 1.2M45.5 17.5M49.2 28.8l1.9 0.5M49.2 28.8l-0.7 -0.4M49.2 28.8M47.6 5.0l-1.0 0.5M47.6 5.0M73.0 42.1l-1.1 0.5M73.0 42.1M48.6 47.0l0.8 1.3M48.6 47.0l-1.1 -1.1M48.6 47.0M4.1 14.4l-0.1 1.4M4.1 14.4l-1.5 -1.6M4.1 14.4l1.4 -1.0M4.1 14.4M84.3 15.8l-1.2 0.5M84.3 15.8M47.4 29.4l-1.0 -1.9M47.4 29.4l0.3 2.5M47.4 29.4M36.0 23.4l1.2 -0.2M36.0 23.4l-1.0 0.3M36.0 23.4M46.3 21.6l0.3 -1.3M46.3 21.6l1.4 1.2M46.3 21.6l-1.6 1.8M46.3 21.6M9.3 14.5l-1.5 -0.9M9.3 14.5l2.5 0.1M9.3 14.5M57.5 14.8l-1.8 -0.2M57.5 14.8l2.4 -0.9M57.5 14.8M37.0 49.3l-0.1 -1.6M37.0 49.3l1.5 0.7M37.0 49.3l-1.6 0.5M37.0 49.3M49.9 27.2l1.7 -1.9M49.9 27.2M13.8 12.1l-0.5 -2.2M13.8 12.1l2.2 -0.1M13.8 12.1l0.4 2.3M13.8 12.1M69.5 37.8l1.9 0.2M69.5 37.8l-2.4 0.3M69.5 37.8M46.1 49.6l-1.3 0.2M46.1 49.6l1.7 -0.0M46.1 49.6M27.8 25.0l0.9 0.5M27.8 25.0M39.0 27.8l0.9 -0.9M39.0 27.8l-2.1 0.1M39.0 27.8M4.5 51.4l-1.5 -0.5M4.5 51.4M9.0 0.2l1.2 -0.8M9.0 0.2l-0.2 2.6M9.0 0.2l-0.9 -0.2M9.0 0.2M33.5 14.0l0.5 -1.1M33.5 14.0l0.9 0.6M33.5 14.0l-1.0 0.2M33.5 14.0M49.3 32.2l0.8 0.3M49.3 32.2M13.7 5.3l2.2 0.0M13.7 5.3l-1.3 1.6M13.7 5.3l-1.2 -1.9M13.7 5.3M24.3 48.7l1.5 -1.6M24.3 48.7l-0.8 1.9M24.3 48.7M11.5 11.9l0.4 1.6M11.5 11.9l-0.9 -0.4M11.5 11.9l1.2 0.0M11.5 11.9M68.7 7.7l-0.2 1.8M68.7 7.7l0.6 -2.2M68.7 7.7M91.7 41.5l-0.9 1.1M91.7 41.5l-0.3 -0.8M91.7 41.5l1.3 -2.0M91.7 41.5M57.5 42.8l-1.6 -0.8M57.5 42.8l0.4 -0.8M57.5 42.8l1.2 2.2M57.5 42.8M5.9 13.4l0.3 1.3M5.9 13.4l-1.0 -1.9M5.9 13.4M73.4 0.0l-1.3 -2.0M73.4 0.0l1.4 1.2M73.4 0.0l-1.9 1.4M73.4 0.0M32.1 22.9l1.0 -1.7M32.1 22.9l-1.1 1.3M32.1 22.9M87.9 21.6l1.2 1.0M87.9 21.6l-1.2 -1.9M87.9 21.6M45.6 29.3l-0.5 1.5M45.6 29.3l1.1 -1.2M45.6 29.3" stroke="#7660c6" stroke-width="1.90"/><path d="M71.4 35.2l-1.3 -1.2M71.4 35.2l1.1 -1.2M71.4 35.2l0.7 1.2M71.4 35.2M0.3 33.3l1.4 -0.1M0.3 33.3M54.1 44.8l0.1 1.6M54.1 44.8l-0.5 -2.0M54.1 44.8M34.1 41.8l1.2 0.8M34.1 41.8l-2.1 -1.3M34.1 41.8l0.6 -0.8M34.1 41.8M48.9 16.5l-1.2 -0.8M48.9 16.5M67.8 19.4l-1.3 -0.0M67.8 19.4l1.9 -0.8M67.8 19.4M64.5 42.5l-0.5 -1.2M64.5 42.5l0.9 0.7M64.5 42.5M2.2 32.8l1.3 0.2M2.2 32.8l-0.6 -0.6M2.2 32.8M82.5 39.7l-0.5 -1.2M82.5 39.7M28.7 14.5l-0.7 -1.2M28.7 14.5M29.2 16.5l1.6 1.1M29.2 16.5l-2.6 0.3M29.2 16.5l0.8 -2.1M29.2 16.5M32.4 38.5l1.3 -1.8M32.4 38.5M46.5 24.6l2.3 0.5M46.5 24.6l-0.6 1.0M46.5 24.6l-1.6 -1.3M46.5 24.6M18.2 33.2l-0.6 -1.2M18.2 33.2M83.4 4.3l0.7 1.8M83.4 4.3M79.3 12.7l1.4 0.4M79.3 12.7M32.9 20.2l1.5 1.6M32.9 20.2M89.4 17.5l1.1 -1.5M89.4 17.5l-2.5 0.0M89.4 17.5M48.7 8.8l-1.7 -0.6M48.7 8.8l0.9 0.7M48.7 8.8M2.0 21.1l1.5 -1.1M2.0 21.1l-1.7 0.4M2.0 21.1M36.1 45.3l2.3 0.2M36.1 45.3l-0.7 0.5M36.1 45.3M88.2 29.7l0.8 -0.3M88.2 29.7l-1.8 -0.6M88.2 29.7M76.6 28.8l-1.0 -0.4M76.6 28.8l1.8 -1.3M76.6 28.8l-0.0 2.2M76.6 28.8M46.0 9.4l-0.9 -1.7M46.0 9.4l0.3 1.6M46.0 9.4M71.7 14.1l-0.3 2.5M71.7 14.1l0.2 -1.1M71.7 14.1" stroke="#443098" stroke-width="1.80"/></g></svg>
<svg x="241.00" y="1000.60" width="91.70" height="50.60" overflow="hidden"><rect width="91.70" height="50.60" fill="#aaa599"/><g filter="url(#cb)" stroke-linecap="round" stroke-linejoin="round" fill="none"><path d="M87.7 48.0h0M5.2 4.3h0M76.6 37.2h0M61.4 15.6h0M55.6 30.7h0M53.3 8.0h0M39.5 19.9h0M66.3 50.3h0M87.1 27.5h0M40.8 13.6h0M3.3 1.4h0M42.6 16.1h0M34.8 45.1h0M48.2 28.4h0M21.7 1.2h0M29.8 6.9h0M46.8 50.5h0M61.8 9.2h0M81.9 40.3h0M67.3 45.9h0M70.0 40.0h0M32.4 49.6h0M88.2 8.2h0M69.1 36.2h0M42.3 26.8h0M44.9 46.8h0M45.9 42.1h0M32.5 44.7h0M82.5 23.3h0M52.1 46.6h0M66.4 24.6h0M20.3 16.4h0M64.2 8.4h0M83.3 13.6h0M83.6 15.7h0M87.8 35.7h0M46.2 26.2h0M59.7 29.8h0M28.6 10.5h0M46.9 47.3h0M57.2 3.8h0M75.2 36.7h0M83.2 9.7h0M68.3 3.0h0M59.9 13.8h0M20.8 44.3h0M9.7 26.4h0M78.3 12.4h0M19.3 44.6h0M38.8 36.3h0M2.9 18.3h0M15.8 34.0h0M7.6 48.3h0M2.3 36.9h0M1.9 12.9h0M74.6 8.0h0M16.8 35.0h0M35.4 2.2h0M90.8 7.7h0M3.3 17.4h0M56.4 37.6h0M10.4 17.1h0M2.8 22.7h0M70.2 37.4h0M82.7 38.2h0M79.1 35.7h0M43.4 11.4h0M60.6 16.0h0M9.4 22.7h0M80.2 6.5h0M53.6 19.9h0M47.2 7.3h0M88.0 13.1h0M55.6 21.2h0M1.7 28.2h0M12.9 2.9h0M3.1 8.2h0M8.8 32.1h0M46.6 49.8h0M85.7 50.3h0M21.3 22.5h0M23.0 29.9h0M57.2 40.5h0M65.1 13.0h0M38.8 26.6h0M0.4 1.8h0M37.5 5.6h0M66.4 12.2h0M9.1 9.2h0M21.2 11.0h0M47.8 23.5h0M28.4 32.5h0M19.5 45.9h0M88.3 36.9h0M39.8 25.9h0M53.3 2.6h0M38.3 26.6h0M16.6 4.7h0M73.6 18.5h0M47.6 46.6h0M56.0 14.7h0M90.2 18.8h0M1.7 34.7h0M9.3 15.5h0M77.1 34.0h0M1.4 22.8h0M37.7 24.6h0M19.1 29.8h0M6.8 14.4h0M34.2 47.3h0M7.0 38.2h0M17.6 28.9h0M35.9 23.4h0M69.1 20.0h0M11.2 6.2h0M7.4 43.0h0M58.8 48.6h0M63.5 1.2h0M60.4 39.3h0M66.3 25.2h0" stroke="#35302a" stroke-width="1.1"/><path d="M6.1 37.7l-0.5 2.1M6.1 37.7M37.9 1.6l1.0 0.5M37.9 1.6M42.6 7.7l-0.9 0.5M42.6 7.7M34.9 9.8l0.1 -1.9M34.9 9.8l0.9 1.6M34.9 9.8l-0.9 -0.2M34.9 9.8M44.5 43.7l1.8 -1.0M44.5 43.7l-0.0 2.0M44.5 43.7l-1.7 -1.4M44.5 43.7M79.2 6.2l2.0 0.7M79.2 6.2l-1.4 0.4M79.2 6.2M2.6 27.8l-1.5 -1.3M2.6 27.8l1.1 0.9M2.6 27.8M65.2 23.9l-0.0 -1.6M65.2 23.9l-0.1 1.0M65.2 23.9M1.2 14.2l0.6 -0.3M1.2 14.2l-1.1 0.1M1.2 14.2M0.8 52.1l-1.7 -0.7M0.8 52.1l1.8 -0.6M0.8 52.1M40.8 13.2l-1.7 0.8M40.8 13.2l1.1 -1.1M40.8 13.2l1.7 1.1M40.8 13.2M55.7 27.7l-0.7 1.1M55.7 27.7M11.6 15.6l-1.9 -0.9M11.6 15.6l1.4 0.6M11.6 15.6M62.4 52.6l-0.1 -1.5M62.4 52.6M15.4 -0.9l-2.1 -0.2M15.4 -0.9l0.8 0.2M15.4 -0.9M42.2 26.5l-2.1 0.1M42.2 26.5l1.2 -1.4M42.2 26.5l1.4 0.5M42.2 26.5M40.6 3.2l1.3 0.6M40.6 3.2l-0.8 0.0M40.6 3.2M43.8 47.0l-1.3 -0.8M43.8 47.0l1.4 -0.9M43.8 47.0l-0.8 0.8M43.8 47.0M68.9 12.9l-0.1 0.8M68.9 12.9M32.9 18.8l0.0 1.9M32.9 18.8l-1.1 -0.8M32.9 18.8l0.1 -0.8M32.9 18.8M0.8 4.5l0.9 -1.1M0.8 4.5l-1.4 1.7M0.8 4.5M5.0 27.7l1.4 -0.4M5.0 27.7l-1.2 -0.0M5.0 27.7M86.5 26.8l2.0 0.8M86.5 26.8M15.0 34.1l0.5 0.9M15.0 34.1l-1.2 -1.2M15.0 34.1M28.0 0.6l0.8 0.4M28.0 0.6l-0.4 1.2M28.0 0.6l-1.1 -0.8M28.0 0.6M77.8 8.4l0.1 -1.3M77.8 8.4l-0.0 0.9M77.8 8.4M50.9 21.8l-0.7 -0.9M50.9 21.8l1.6 -0.7M50.9 21.8l-0.6 2.0M50.9 21.8M60.9 7.5l0.6 -0.4M60.9 7.5l0.6 0.7M60.9 7.5l-0.8 -0.6M60.9 7.5M71.7 46.4l1.0 -0.4M71.7 46.4l-1.2 -1.0M71.7 46.4M7.8 30.0l0.8 -0.7M7.8 30.0l-1.2 1.1M7.8 30.0M73.4 11.6l-0.9 0.4M73.4 11.6l1.0 -0.6M73.4 11.6M87.7 21.2l-0.0 2.1M87.7 21.2M56.2 7.6l-0.3 -2.0M56.2 7.6M42.0 -1.0l-0.1 -1.2M42.0 -1.0l-0.3 2.0M42.0 -1.0M66.4 1.3l-2.1 -0.6M66.4 1.3l-0.1 -1.7M66.4 1.3l1.0 1.2M66.4 1.3M47.4 -0.5l-0.3 -1.3M47.4 -0.5l0.9 1.3M47.4 -0.5M69.7 38.3l1.2 -0.5M69.7 38.3l-0.2 1.5M69.7 38.3l-2.0 -0.3M69.7 38.3M0.5 42.4l-0.2 -1.3M0.5 42.4l0.8 1.5M0.5 42.4l-1.0 0.5M0.5 42.4M63.3 30.4l1.9 0.8M63.3 30.4l0.3 2.1M63.3 30.4l-1.0 -1.1M63.3 30.4M34.1 40.0l-0.9 0.2M34.1 40.0l-0.5 -1.0M34.1 40.0l0.8 0.1M34.1 40.0M65.3 4.3l-1.2 0.8M65.3 4.3l0.2 -1.7M65.3 4.3M73.9 39.5l-1.0 0.3M73.9 39.5l1.0 -0.6M73.9 39.5M48.0 44.6l-0.3 -0.6M48.0 44.6l0.6 0.3M48.0 44.6l-0.6 1.3M48.0 44.6M21.9 12.9l-1.4 -0.4M21.9 12.9M45.9 37.0l-2.0 -0.8M45.9 37.0l0.6 0.4M45.9 37.0M81.5 31.1l0.6 -1.5M81.5 31.1l1.1 1.5M81.5 31.1l-0.7 1.1M81.5 31.1M61.9 29.9l-1.3 0.6M61.9 29.9l1.1 0.1M61.9 29.9M17.3 -1.2l-1.0 -0.8M17.3 -1.2l0.9 0.9M17.3 -1.2M91.7 51.0l-0.6 -0.7M91.7 51.0l0.0 1.9M91.7 51.0M83.9 -2.0l0.5 0.5M83.9 -2.0l-1.5 0.0M83.9 -2.0M66.2 40.7l0.5 -1.5M66.2 40.7l-0.6 1.9M66.2 40.7M76.4 2.3l1.5 -1.0M76.4 2.3l-0.4 0.8M76.4 2.3M12.6 46.5l0.8 -0.5M12.6 46.5l0.2 1.0M12.6 46.5l-1.8 -0.2M12.6 46.5M92.7 31.9l-0.6 1.0M92.7 31.9M61.7 4.3l1.1 -0.8M61.7 4.3M44.5 9.2l1.4 -0.5M44.5 9.2l-0.6 1.3M44.5 9.2M66.4 -0.3l-1.9 0.2M66.4 -0.3l1.9 -0.7M66.4 -0.3M57.7 45.5l-0.2 -1.6M57.7 45.5l-0.2 0.7M57.7 45.5M57.1 11.2l1.0 -0.5M57.1 11.2l-0.7 0.3M57.1 11.2M55.0 25.3l-1.9 -0.4M55.0 25.3l1.4 1.0M55.0 25.3M62.2 47.3l1.3 -0.6M62.2 47.3l-0.8 0.6M62.2 47.3M51.2 17.7l-0.1 -2.0M51.2 17.7l-0.0 1.2M51.2 17.7M9.7 1.9l0.8 -0.6M9.7 1.9M6.1 2.3l0.1 1.9M6.1 2.3l-0.7 -0.3M6.1 2.3M27.8 28.1l-0.7 0.2M27.8 28.1l1.7 -0.4M27.8 28.1M13.2 27.6l0.6 1.1M13.2 27.6l-1.2 0.3M13.2 27.6l0.2 -2.1M13.2 27.6M33.3 48.1l-0.6 -2.0M33.3 48.1l0.7 1.5M33.3 48.1M35.9 49.5l2.1 0.6M35.9 49.5l-1.2 0.0M35.9 49.5M37.6 29.1l-1.5 0.9M37.6 29.1l-1.2 -0.9M37.6 29.1l1.5 0.5M37.6 29.1M57.3 12.1l-0.9 -0.6M57.3 12.1l1.9 -0.7M57.3 12.1M24.5 23.4l0.4 0.7M24.5 23.4l-0.3 -1.2M24.5 23.4M9.8 33.2l1.6 -0.9M9.8 33.2l-0.6 1.1M9.8 33.2M10.9 17.8l1.0 1.4M10.9 17.8M81.4 43.3l-0.7 1.2M81.4 43.3l-0.2 -1.0M81.4 43.3l1.4 0.2M81.4 43.3M52.7 40.4l0.1 -1.0M52.7 40.4M31.3 6.8l-0.3 -1.4M31.3 6.8l-0.8 1.6M31.3 6.8M8.9 14.4l0.9 1.1M8.9 14.4l-1.9 -0.4M8.9 14.4l0.9 -1.2M8.9 14.4M78.6 15.1l0.1 1.9M78.6 15.1M81.8 2.7l-0.3 -1.2M81.8 2.7M63.0 22.0l-0.7 -1.4M63.0 22.0M59.9 27.1l-0.3 -2.1M59.9 27.1l1.3 1.1M59.9 27.1M37.3 22.4l-0.1 -0.8M37.3 22.4l-0.3 0.9M37.3 22.4M82.7 19.1l-1.5 0.8M82.7 19.1l1.3 -0.4M82.7 19.1M62.1 20.4l0.5 -1.7M62.1 20.4M65.4 36.6l2.2 -0.2M65.4 36.6l0.2 1.2M65.4 36.6l-0.6 -1.7M65.4 36.6M46.0 39.3l-0.2 0.8M46.0 39.3l-1.9 -0.7M46.0 39.3l1.1 -0.3M46.0 39.3M89.0 31.6l-0.0 1.3M89.0 31.6l-1.6 -0.9M89.0 31.6l2.1 -0.6M89.0 31.6M20.8 48.3l0.8 -2.0M20.8 48.3M0.6 21.6l-0.9 -0.4M0.6 21.6l1.0 -1.1M0.6 21.6l-0.2 1.0M0.6 21.6M81.9 46.4l0.4 1.8M81.9 46.4l0.1 -1.0M81.9 46.4M12.4 37.9l0.5 -1.5M12.4 37.9l-0.8 1.9M12.4 37.9M55.3 35.2l0.9 1.0M55.3 35.2l-2.1 -0.7M55.3 35.2M92.9 40.1l1.3 0.3M92.9 40.1l-0.2 -0.7M92.9 40.1M68.9 12.0l1.1 1.9M68.9 12.0l-0.3 -0.6M68.9 12.0" stroke="#6248b8" stroke-width="1.70"/><path d="M72.9 29.3l-0.7 0.2M72.9 29.3l-0.5 -2.0M72.9 29.3l1.2 0.9M72.9 29.3M81.2 23.2l1.0 -0.3M81.2 23.2l-0.7 0.6M81.2 23.2l-0.4 -1.3M81.2 23.2M79.0 8.1l-0.1 1.9M79.0 8.1l0.4 -1.2M79.0 8.1M10.3 49.2l-1.3 0.6M10.3 49.2M22.2 34.5l1.0 0.9M22.2 34.5l-1.0 -0.6M22.2 34.5M9.2 3.9l-1.4 -0.8M9.2 3.9M60.0 19.5l0.8 -0.4M60.0 19.5M58.8 27.7l2.0 -0.4M58.8 27.7M54.8 38.8l0.8 -1.5M54.8 38.8l1.1 0.8M54.8 38.8l-1.1 0.5M54.8 38.8M19.3 31.6l1.4 -0.6M19.3 31.6l-0.7 0.4M19.3 31.6M62.1 21.9l-0.6 1.6M62.1 21.9M39.0 11.1l-0.4 -0.6M39.0 11.1l1.5 0.9M39.0 11.1M86.9 47.8l-0.7 -0.4M86.9 47.8l0.6 0.5M86.9 47.8M20.3 46.9l-1.8 0.1M20.3 46.9l-0.1 -0.9M20.3 46.9l0.4 1.1M20.3 46.9M74.7 46.9l-0.6 -0.9M74.7 46.9l1.3 0.8M74.7 46.9M44.4 -1.6l1.0 0.1M44.4 -1.6l-1.4 -0.2M44.4 -1.6M15.8 14.8l-1.0 -0.9M15.8 14.8M26.4 46.6l0.8 -0.3M26.4 46.6M30.0 2.9l1.2 1.2M30.0 2.9l-2.1 -0.4M30.0 2.9l1.1 -0.9M30.0 2.9M14.0 5.1l0.6 0.5M14.0 5.1l-1.0 0.8M14.0 5.1l0.8 -1.1M14.0 5.1M23.5 12.0l-0.5 1.2M23.5 12.0l1.3 -1.5M23.5 12.0M33.4 3.8l-2.2 -0.1M33.4 3.8l1.5 0.1M33.4 3.8M30.1 22.4l0.4 1.8M30.1 22.4l-0.4 -1.4M30.1 22.4M66.9 -1.4l-0.7 1.6M66.9 -1.4l1.0 -1.4M66.9 -1.4M84.0 3.8l1.0 -0.3M84.0 3.8l-0.8 1.4M84.0 3.8l-0.7 -1.9M84.0 3.8M14.3 4.7l-1.1 1.4M14.3 4.7l-0.2 -1.0M14.3 4.7M91.4 52.4l-0.3 2.0M91.4 52.4l1.0 -1.2M91.4 52.4M75.8 50.0l0.9 -1.4M75.8 50.0l-0.5 0.6M75.8 50.0M40.3 25.4l0.5 0.7M40.3 25.4l-0.2 -1.3M40.3 25.4M70.6 45.2l2.1 0.6M70.6 45.2l-1.4 -0.1M70.6 45.2M70.2 46.1l0.8 -1.6M70.2 46.1l-1.0 1.4M70.2 46.1M39.4 37.9l0.7 0.7M39.4 37.9M85.4 11.9l-1.1 0.6M85.4 11.9l1.3 0.1M85.4 11.9M35.8 52.3l-1.1 0.9M35.8 52.3M32.5 21.0l1.9 -0.4M32.5 21.0M23.8 31.9l-1.6 -0.2M23.8 31.9l-0.1 -1.6M23.8 31.9l0.4 1.4M23.8 31.9M78.2 48.4l-0.6 1.4M78.2 48.4l0.7 -1.7M78.2 48.4M72.5 35.9l-0.3 1.0M72.5 35.9l-0.2 -0.9M72.5 35.9l1.3 0.9M72.5 35.9M21.6 4.5l0.7 0.9M21.6 4.5l0.5 -1.2M21.6 4.5M7.0 36.5l-1.0 -0.4M7.0 36.5l0.7 -1.5M7.0 36.5l1.1 1.6M7.0 36.5M2.5 36.1l0.4 -1.2M2.5 36.1l-0.1 1.6M2.5 36.1M59.7 27.2l-1.8 0.7M59.7 27.2M76.4 27.9l0.6 -1.0M76.4 27.9M-0.4 52.0l1.6 0.3M-0.4 52.0l-2.0 -0.2M-0.4 52.0l-0.2 -1.3M-0.4 52.0M26.9 15.7l0.6 0.7M26.9 15.7l-0.7 0.2M26.9 15.7l0.1 -0.8M26.9 15.7M47.2 28.6l-1.7 -0.8M47.2 28.6l1.6 -1.4M47.2 28.6l-0.1 1.2M47.2 28.6M-1.3 49.3l1.7 -1.1M-1.3 49.3l-0.6 0.9M-1.3 49.3M89.6 29.3l-0.3 -0.8M89.6 29.3l0.9 1.0M89.6 29.3l-0.7 1.0M89.6 29.3M12.7 39.6l1.6 -0.2M12.7 39.6l-0.2 0.8M12.7 39.6l-0.8 -1.1M12.7 39.6M4.4 1.9l-0.6 1.4M4.4 1.9l-1.2 -1.5M4.4 1.9l1.4 -0.6M4.4 1.9M90.8 37.2l0.6 0.8M90.8 37.2l-1.1 -1.0M90.8 37.2M93.1 29.7l0.9 -0.9M93.1 29.7l-0.6 0.5M93.1 29.7M21.1 25.1l1.0 -0.7M21.1 25.1l-0.6 0.8M21.1 25.1l-0.6 -0.7M21.1 25.1M41.0 20.2l-0.5 -1.9M41.0 20.2l0.8 1.8M41.0 20.2M48.8 42.2l1.9 1.0M48.8 42.2l-0.7 -0.1M48.8 42.2M43.4 38.7l0.0 -1.9M43.4 38.7l0.2 1.7M43.4 38.7M14.2 47.1l-0.6 -0.9M14.2 47.1l1.6 1.2M14.2 47.1M87.2 8.1l-0.1 1.7M87.2 8.1M21.3 3.1l-0.0 0.7M21.3 3.1M71.6 30.8l-0.9 -0.5M71.6 30.8l2.0 0.5M71.6 30.8l-0.5 0.5M71.6 30.8M12.9 13.4l-1.1 1.4M12.9 13.4l0.4 -0.7M12.9 13.4M39.8 22.3l1.3 1.1M39.8 22.3M86.1 3.4l0.1 -0.7M86.1 3.4l-0.3 0.8M86.1 3.4M69.1 11.2l0.5 1.2M69.1 11.2M57.2 16.4l-1.4 0.2M57.2 16.4l1.3 -0.1M57.2 16.4M55.0 7.3l-1.2 0.4M55.0 7.3l1.5 0.1M55.0 7.3M82.7 12.0l1.6 0.9M82.7 12.0M23.0 36.1l-0.4 -0.7M23.0 36.1M43.6 32.4l2.1 -0.2M43.6 32.4l-1.8 -0.8M43.6 32.4M4.6 48.6l1.2 0.4M4.6 48.6l-1.3 -1.1M4.6 48.6M58.2 35.3l0.0 -1.7M58.2 35.3l-1.0 1.8M58.2 35.3M63.1 27.8l-0.9 0.1M63.1 27.8l1.6 -0.1M63.1 27.8M72.4 48.0l-0.8 -1.7M72.4 48.0l0.7 1.2M72.4 48.0l-1.3 0.3M72.4 48.0M19.3 38.8l0.9 -1.3M19.3 38.8M45.3 31.8l1.5 -1.6M45.3 31.8M75.3 47.9l-1.3 0.2M75.3 47.9" stroke="#5038a6" stroke-width="1.78"/><path d="M32.2 23.0l-2.0 -0.3M32.2 23.0l1.8 -0.4M32.2 23.0M7.2 26.2l1.3 -0.6M7.2 26.2l-1.3 0.1M7.2 26.2M34.5 23.4l1.2 0.9M34.5 23.4l-1.2 -0.1M34.5 23.4M34.6 22.2l-0.8 -1.2M34.6 22.2l1.7 -1.2M34.6 22.2l-0.3 1.9M34.6 22.2M30.8 46.0l1.0 -1.7M30.8 46.0l0.8 1.6M30.8 46.0l-1.0 0.4M30.8 46.0M10.2 -0.5l-1.9 0.9M10.2 -0.5l1.1 -1.5M10.2 -0.5M90.9 40.8l1.1 0.5M90.9 40.8l-0.4 -0.9M90.9 40.8M67.7 0.6l0.2 -0.9M67.7 0.6M40.5 12.8l-1.2 1.4M40.5 12.8M14.6 9.0l0.7 0.6M14.6 9.0l-0.9 0.7M14.6 9.0l0.1 -0.8M14.6 9.0M48.5 24.7l-0.8 0.4M48.5 24.7l0.8 -0.3M48.5 24.7M25.9 9.4l0.2 -1.5M25.9 9.4l-1.5 1.4M25.9 9.4M43.0 36.9l-0.1 0.9M43.0 36.9l-0.1 -1.8M43.0 36.9M57.2 48.4l-1.0 0.2M57.2 48.4l0.6 -0.5M57.2 48.4l0.2 0.9M57.2 48.4M24.1 17.9l-1.2 -1.2M24.1 17.9l0.5 -0.9M24.1 17.9l0.6 1.3M24.1 17.9M88.4 17.4l-0.5 -0.7M88.4 17.4M32.8 49.7l1.5 -0.1M32.8 49.7l0.2 0.7M32.8 49.7l-1.9 0.4M32.8 49.7M59.0 29.1l-0.9 0.3M59.0 29.1l0.3 -1.8M59.0 29.1l1.6 0.5M59.0 29.1M13.3 13.7l1.6 0.6M13.3 13.7l-2.1 0.4M13.3 13.7l0.1 -1.3M13.3 13.7M26.6 37.0l-1.1 -0.6M26.6 37.0l1.1 0.8M26.6 37.0M88.2 17.8l1.2 1.5M88.2 17.8l-0.8 -0.2M88.2 17.8l1.2 -0.6M88.2 17.8M44.3 2.1l1.4 -0.7M44.3 2.1l-0.8 0.0M44.3 2.1M92.1 44.6l1.2 -1.2M92.1 44.6l-0.7 0.6M92.1 44.6M83.2 36.9l1.7 1.3M83.2 36.9l-1.8 -0.4M83.2 36.9M71.3 38.3l1.4 1.4M71.3 38.3M52.9 43.0l-0.6 -0.7M52.9 43.0l1.7 1.3M52.9 43.0M76.4 28.9l-2.1 -0.1M76.4 28.9l1.4 0.9M76.4 28.9M39.8 11.5l1.2 -1.7M39.8 11.5l1.9 0.5M39.8 11.5l-0.8 0.6M39.8 11.5M77.3 2.4l2.1 0.7M77.3 2.4l-1.5 -0.5M77.3 2.4M55.0 6.0l1.2 1.9M55.0 6.0l-1.4 0.2M55.0 6.0l1.2 -0.3M55.0 6.0M79.5 3.6l1.0 -0.3M79.5 3.6l-1.6 -1.0M79.5 3.6M4.4 11.6l1.9 -0.0M4.4 11.6l-1.6 0.0M4.4 11.6M23.1 42.3l-0.4 -1.7M23.1 42.3l1.9 0.3M23.1 42.3l-0.7 0.2M23.1 42.3M0.7 52.2l-0.5 1.9M0.7 52.2l-0.7 -1.4M0.7 52.2M84.9 0.7l1.3 1.1M84.9 0.7l-0.4 -1.0M84.9 0.7M80.3 27.3l-1.6 -0.3M80.3 27.3l1.3 -0.0M80.3 27.3M23.9 12.5l0.5 0.8M23.9 12.5M24.6 8.4l-0.7 -0.0M24.6 8.4l0.8 -1.1M24.6 8.4l0.3 1.1M24.6 8.4M78.1 -0.5l-1.3 0.9M78.1 -0.5l-0.1 -1.3M78.1 -0.5M70.7 22.8l0.8 -1.1M70.7 22.8l-1.3 0.4M70.7 22.8M15.5 46.0l0.0 0.9M15.5 46.0l-1.0 -1.4M15.5 46.0l1.1 -1.3M15.5 46.0M83.2 8.6l-0.3 1.1M83.2 8.6l-0.6 -1.7M83.2 8.6l1.3 0.8M83.2 8.6M0.6 27.8l-0.2 1.0M0.6 27.8l-0.6 -1.7M0.6 27.8M92.0 26.6l0.5 0.9M92.0 26.6l-0.3 -2.0M92.0 26.6M2.7 25.7l-0.6 -0.4M2.7 25.7l0.5 -0.9M2.7 25.7l0.4 1.4M2.7 25.7M39.9 22.5l-0.4 -1.1M39.9 22.5l1.7 0.9M39.9 22.5M53.2 6.2l0.9 1.3M53.2 6.2l-0.5 -0.7M53.2 6.2M21.3 46.2l0.2 -1.3M21.3 46.2l0.0 1.2M21.3 46.2M52.5 16.8l1.1 -1.7M52.5 16.8l-1.0 0.6M52.5 16.8M-0.9 5.1l0.5 1.3M-0.9 5.1l1.3 -1.2M-0.9 5.1M65.4 30.2l0.9 -0.2M65.4 30.2l-1.1 1.6M65.4 30.2M34.9 38.9l-0.4 2.1M34.9 38.9l-0.5 -0.5M34.9 38.9l0.8 0.2M34.9 38.9M28.3 31.5l0.8 1.3M28.3 31.5l-0.9 -0.7M28.3 31.5M33.0 25.0l-1.0 1.4M33.0 25.0l-0.5 -1.8M33.0 25.0l1.7 -1.0M33.0 25.0M17.3 22.9l-0.4 1.2M17.3 22.9l-0.6 -1.4M17.3 22.9l1.4 -0.1M17.3 22.9M51.1 38.5l-1.3 -1.6M51.1 38.5M80.6 -0.6l-0.6 1.6M80.6 -0.6l-1.6 -1.5M80.6 -0.6l1.6 -0.7M80.6 -0.6M13.4 17.0l-0.7 1.1M13.4 17.0l0.9 -1.7M13.4 17.0l1.0 1.5M13.4 17.0M75.5 1.6l0.1 -0.9M75.5 1.6l1.5 1.3M75.5 1.6l-1.3 1.3M75.5 1.6M80.5 6.2l-2.1 -0.3M80.5 6.2l1.1 -0.2M80.5 6.2l0.1 1.1M80.5 6.2M38.9 13.4l-1.2 -1.2M38.9 13.4M33.4 46.9l-0.2 0.8M33.4 46.9l-0.2 -2.1M33.4 46.9M72.7 11.4l1.2 -1.8M72.7 11.4l1.6 1.1M72.7 11.4l-0.8 0.7M72.7 11.4M53.5 27.2l-0.7 0.4M53.5 27.2M40.4 35.2l-0.2 -2.0M40.4 35.2l-0.1 1.2M40.4 35.2M16.0 47.7l0.1 -1.5M16.0 47.7l0.3 1.4M16.0 47.7M44.7 31.6l-2.0 -0.1M44.7 31.6l1.2 0.6M44.7 31.6M28.5 41.1l-0.3 -1.9M28.5 41.1l-0.4 0.9M28.5 41.1M67.8 34.7l-0.9 0.5M67.8 34.7l1.1 -0.7M67.8 34.7M8.2 22.9l-1.1 0.9M8.2 22.9l0.6 -0.7M8.2 22.9M34.4 31.4l0.6 -1.5M34.4 31.4l1.5 1.2M34.4 31.4l-1.6 -0.2M34.4 31.4M18.7 47.3l-1.0 -0.3M18.7 47.3M44.0 9.8l1.5 0.2M44.0 9.8M-1.4 27.2l-0.2 0.8M-1.4 27.2M44.6 6.0l-0.8 0.2M44.6 6.0l0.5 -0.6M44.6 6.0l0.4 1.0M44.6 6.0M12.8 15.1l-1.4 1.3M12.8 15.1l-0.2 -1.2M12.8 15.1M86.5 11.8l1.5 -1.5M86.5 11.8l-0.5 1.1M86.5 11.8l-1.3 -1.5M86.5 11.8M53.1 20.4l-1.1 -0.4M53.1 20.4l0.9 0.9M53.1 20.4M91.2 28.3l0.2 0.8M91.2 28.3l0.2 -0.8M91.2 28.3M0.7 22.6l-0.9 -1.2M0.7 22.6M85.6 23.6l0.5 2.0M85.6 23.6l-0.6 -2.1M85.6 23.6M-0.6 33.7l1.6 1.3M-0.6 33.7l-1.1 -0.2M-0.6 33.7M13.4 38.8l-0.5 -1.1M13.4 38.8l1.2 1.8M13.4 38.8M65.2 49.8l-1.8 -0.9M65.2 49.8l1.4 -0.1M65.2 49.8M92.1 17.6l0.7 -0.3M92.1 17.6l-1.4 1.1M92.1 17.6l-0.9 -1.6M92.1 17.6M22.7 36.5l-0.9 0.5M22.7 36.5l1.0 -0.5M22.7 36.5M67.0 19.5l-0.4 -0.7M67.0 19.5M65.0 10.0l-0.8 -1.2M65.0 10.0l1.0 0.2M65.0 10.0l-1.5 1.6M65.0 10.0M50.4 8.7l1.0 -1.6M50.4 8.7l-0.9 0.8M50.4 8.7M66.8 38.1l-0.0 -0.7M66.8 38.1l-0.1 1.8M66.8 38.1M66.5 44.6l-0.9 -0.7M66.5 44.6l0.5 -0.6M66.5 44.6l0.0 1.6M66.5 44.6M11.4 11.4l-0.9 1.5M11.4 11.4l0.6 -1.1M11.4 11.4M43.1 43.3l1.5 1.1M43.1 43.3l-2.1 0.4M43.1 43.3l0.4 -0.6M43.1 43.3M0.9 34.0l0.4 0.8M0.9 34.0M17.8 14.5l-0.3 0.8M17.8 14.5l1.7 -1.3M17.8 14.5M67.9 16.8l0.0 0.7M67.9 16.8l0.1 -1.9M67.9 16.8M37.8 36.3l-0.8 -0.1M37.8 36.3l1.1 -1.3M37.8 36.3M10.1 6.6l-1.0 -0.3M10.1 6.6l1.1 0.4M10.1 6.6M34.2 16.3l-1.4 -1.6M34.2 16.3l1.8 0.0M34.2 16.3l0.9 1.5M34.2 16.3M51.3 24.3l-1.4 -1.4M51.3 24.3l0.3 1.3M51.3 24.3M86.9 50.6l0.9 -0.5M86.9 50.6M80.7 5.8l-1.1 0.7M80.7 5.8M82.7 13.0l-0.4 -0.6M82.7 13.0M44.8 12.8l-0.3 -1.5M44.8 12.8l-0.1 1.4M44.8 12.8" stroke="#7660c6" stroke-width="1.61"/><path d="M45.1 35.1l0.8 1.4M45.1 35.1l-0.6 -1.6M45.1 35.1M62.2 35.2l-0.8 -0.2M62.2 35.2l1.9 0.9M62.2 35.2M36.8 36.8l-1.2 0.9M36.8 36.8l-1.6 -1.4M36.8 36.8l1.8 0.8M36.8 36.8M49.0 8.3l-1.1 0.9M49.0 8.3M11.2 31.4l0.0 1.5M11.2 31.4l-0.4 -0.9M11.2 31.4l0.4 -0.7M11.2 31.4M31.3 39.5l-0.1 -1.9M31.3 39.5l0.7 0.6M31.3 39.5M59.9 41.5l-1.0 -0.2M59.9 41.5M8.7 34.9l0.5 1.1M8.7 34.9l-0.3 -1.2M8.7 34.9M62.2 18.1l1.3 1.7M62.2 18.1l-1.2 -0.7M62.2 18.1l0.9 -0.4M62.2 18.1M49.9 10.9l-1.9 0.7M49.9 10.9l1.0 -0.2M49.9 10.9M35.8 52.5l-2.0 0.0M35.8 52.5l-0.1 -1.6M35.8 52.5l0.6 1.4M35.8 52.5M45.4 19.9l-0.7 1.3M45.4 19.9l0.8 0.0M45.4 19.9M42.5 44.9l0.9 -0.1M42.5 44.9l-1.6 -0.8M42.5 44.9M69.9 9.6l-0.6 -1.5M69.9 9.6M22.4 8.4l0.4 1.3M22.4 8.4l-1.1 0.3M22.4 8.4l1.4 -0.7M22.4 8.4M35.4 21.8l-1.3 1.7M35.4 21.8l-0.7 -0.8M35.4 21.8l1.0 1.1M35.4 21.8M53.7 10.1l0.7 -0.5M53.7 10.1l0.2 1.4M53.7 10.1l-1.8 -1.2M53.7 10.1M47.4 22.0l1.3 0.9M47.4 22.0l-1.0 0.7M47.4 22.0l1.5 -0.8M47.4 22.0M35.8 43.6l0.7 0.0M35.8 43.6l-1.1 0.9M35.8 43.6M23.9 23.5l-1.3 -1.0M23.9 23.5l0.9 0.6M23.9 23.5M52.4 37.7l0.9 0.4M52.4 37.7l-1.1 -0.5M52.4 37.7M13.5 20.2l-0.6 -1.6M13.5 20.2l1.4 0.9M13.5 20.2M56.8 17.2l-1.2 1.4M56.8 17.2l-0.1 -1.2M56.8 17.2M92.3 7.5l0.2 -1.4M92.3 7.5l-0.5 1.7M92.3 7.5M51.9 11.9l0.5 -2.0M51.9 11.9l1.4 0.6M51.9 11.9l-1.1 0.1M51.9 11.9M13.6 1.8l-0.1 -0.8M13.6 1.8l-0.5 0.8M13.6 1.8M66.7 1.1l-1.7 -1.2M66.7 1.1l2.0 -0.4M66.7 1.1M52.2 27.4l0.7 0.2M52.2 27.4l-0.9 -1.6M52.2 27.4M0.8 18.5l-0.7 -0.6M0.8 18.5l0.8 -0.0M0.8 18.5M69.9 46.5l0.6 1.0M69.9 46.5l-0.5 -2.0M69.9 46.5M18.6 24.3l1.5 -1.5M18.6 24.3l-0.4 1.2M18.6 24.3l-1.1 -1.2M18.6 24.3M76.5 3.4l-0.7 -0.9M76.5 3.4l1.3 1.3M76.5 3.4M3.9 40.2l-1.3 -1.2M3.9 40.2l1.1 -0.7M3.9 40.2l0.3 1.5M3.9 40.2M53.5 38.7l-0.7 -2.1M53.5 38.7l2.1 -0.7M53.5 38.7l-0.9 1.2M53.5 38.7M92.1 50.7l-0.9 0.4M92.1 50.7l-0.5 -1.7M92.1 50.7l1.4 0.0M92.1 50.7M7.8 11.9l-0.9 0.3M7.8 11.9l0.9 0.1M7.8 11.9M59.0 2.1l0.2 -1.0M59.0 2.1M50.9 16.8l-0.9 -1.6M50.9 16.8l0.9 0.8M50.9 16.8M58.3 35.4l-1.7 0.5M58.3 35.4M63.7 34.1l2.1 -0.4M63.7 34.1l-0.1 2.2M63.7 34.1l-0.4 -0.8M63.7 34.1M54.8 39.1l-1.8 -0.0M54.8 39.1l-0.6 -1.4M54.8 39.1l2.0 0.4M54.8 39.1M18.2 0.5l-1.0 1.6M18.2 0.5M70.5 4.5l-1.3 -0.6M70.5 4.5l0.5 1.8M70.5 4.5M4.4 -0.7l0.2 1.1M4.4 -0.7M84.6 42.7l-0.2 1.7M84.6 42.7l-1.0 -1.2M84.6 42.7M12.3 27.1l1.0 -0.5M12.3 27.1l-0.4 0.7M12.3 27.1M93.5 25.5l-0.1 -0.8M93.5 25.5l0.4 0.8M93.5 25.5M76.0 33.6l1.0 0.9M76.0 33.6l-1.1 -0.7M76.0 33.6M54.6 35.1l0.3 -1.2M54.6 35.1l0.3 0.7M54.6 35.1M78.1 14.1l0.1 1.8M78.1 14.1l-1.6 -0.6M78.1 14.1l1.3 -0.4M78.1 14.1M74.5 8.5l0.5 -0.7M74.5 8.5M17.4 13.7l-1.3 -0.0M17.4 13.7M54.6 15.5l-0.6 -1.3M54.6 15.5l0.2 1.1M54.6 15.5M87.6 8.3l0.6 -1.7M87.6 8.3l-0.8 2.0M87.6 8.3M84.8 30.2l0.3 1.6M84.8 30.2l0.3 -2.0M84.8 30.2M67.3 37.9l0.4 1.8M67.3 37.9M51.6 2.6l1.8 -1.0M51.6 2.6l-0.5 0.9M51.6 2.6M74.5 19.7l1.3 1.4M74.5 19.7l-0.9 -1.0M74.5 19.7M1.3 51.7l-0.6 -0.6M1.3 51.7l0.2 0.8M1.3 51.7M15.3 52.1l1.1 -0.0M15.3 52.1l-1.8 -0.6M15.3 52.1M82.2 23.8l-0.7 -2.0M82.2 23.8l0.6 1.0M82.2 23.8M92.6 20.4l-1.9 -0.3M92.6 20.4l1.2 1.8M92.6 20.4M65.0 18.2l-0.2 -0.7M65.0 18.2l0.4 0.7M65.0 18.2l-0.6 0.8M65.0 18.2M78.6 31.6l0.1 1.3M78.6 31.6l0.1 -1.8M78.6 31.6M93.6 7.5l0.7 1.2M93.6 7.5l-0.5 -0.8M93.6 7.5M59.2 3.8l1.1 0.0M59.2 3.8l-1.1 -0.3M59.2 3.8M87.0 23.6l-0.7 0.3M87.0 23.6M46.6 16.1l0.9 -1.0M46.6 16.1l-0.3 0.7M46.6 16.1l-0.8 -0.2M46.6 16.1M55.9 14.0l-1.3 -0.6M55.9 14.0l0.6 -1.9M55.9 14.0l1.4 1.1M55.9 14.0M32.0 42.9l-0.6 -0.4M32.0 42.9l0.6 0.7M32.0 42.9M73.5 16.7l-0.7 -1.9M73.5 16.7M3.4 32.7l1.0 -1.3M3.4 32.7M32.5 41.2l-1.6 -1.1M32.5 41.2l1.9 -0.3M32.5 41.2l-1.2 1.5M32.5 41.2M64.2 -1.4l1.3 -0.6M64.2 -1.4M46.0 28.4l-1.3 -0.1M46.0 28.4l0.9 -1.0M46.0 28.4l1.8 1.2M46.0 28.4M50.0 10.9l1.0 0.2M50.0 10.9M39.7 -1.0l0.7 0.5M39.7 -1.0l-1.2 -0.3M39.7 -1.0M67.4 44.9l0.0 1.8M67.4 44.9l-1.5 -1.5M67.4 44.9l0.2 -1.2M67.4 44.9M18.6 20.8l0.8 0.3M18.6 20.8l-0.8 1.8M18.6 20.8l-0.9 -0.9M18.6 20.8M53.8 25.4l0.1 -1.4M53.8 25.4l-0.5 0.9M53.8 25.4M71.0 22.6l0.2 1.5M71.0 22.6l-0.5 -0.7M71.0 22.6l1.1 -0.6M71.0 22.6M-1.9 36.5l0.2 0.9M-1.9 36.5l-0.1 -1.0M-1.9 36.5M57.6 15.7l1.2 0.7M57.6 15.7M52.0 24.9l0.5 1.6M52.0 24.9l-1.5 -1.1M52.0 24.9M43.0 48.0l-0.3 1.2M43.0 48.0M34.8 8.6l0.8 0.6M34.8 8.6l-1.4 0.6M34.8 8.6M62.5 24.8l0.2 -1.9M62.5 24.8l-1.3 1.6M62.5 24.8M55.5 34.3l0.3 -1.0M55.5 34.3l0.3 1.3M55.5 34.3M2.7 43.3l-1.4 -1.5M2.7 43.3l0.9 1.8M2.7 43.3M9.4 0.7l0.8 2.0M9.4 0.7l-1.0 -0.6M9.4 0.7M76.0 1.3l-0.5 -1.3M76.0 1.3M65.3 33.7l-1.7 0.4M65.3 33.7l0.7 -0.4M65.3 33.7M29.1 -0.9l1.7 0.7M29.1 -0.9l-1.4 -1.2M29.1 -0.9M0.9 19.6l1.3 1.4M0.9 19.6l-2.0 -0.8M0.9 19.6M67.7 33.9l0.2 1.2M67.7 33.9M22.3 9.1l0.8 1.4M22.3 9.1l-1.8 -0.3M22.3 9.1l1.0 -1.6M22.3 9.1M53.5 24.7l-1.0 -1.4M53.5 24.7l0.7 0.9M53.5 24.7M60.8 5.5l-1.1 -0.1M60.8 5.5l2.0 -0.6M60.8 5.5M76.7 25.2l0.7 1.5M76.7 25.2l0.8 -1.9M76.7 25.2M18.4 1.7l-1.0 1.2M18.4 1.7l0.5 -0.8M18.4 1.7M12.0 41.8l-1.7 -0.8M12.0 41.8l1.0 -1.5M12.0 41.8l1.1 0.9M12.0 41.8M24.7 -1.2l-0.9 1.5M24.7 -1.2M68.3 40.6l-0.8 0.3M68.3 40.6M46.8 11.7l-0.8 0.5M46.8 11.7l0.6 -0.6M46.8 11.7l0.4 0.9M46.8 11.7M24.4 48.6l1.3 1.6M24.4 48.6l-1.2 -0.8M24.4 48.6M50.3 15.1l-0.4 0.7M50.3 15.1" stroke="#443098" stroke-width="1.53"/></g></svg>
<svg x="339.70" y="998.40" width="90.90" height="51.30" overflow="hidden"><rect width="90.90" height="51.30" fill="#aea99d"/><g filter="url(#cb)" stroke-linecap="round" stroke-linejoin="round" fill="none"><path d="M21.6 27.9h0M33.6 31.0h0M56.9 3.4h0M1.2 43.0h0M23.6 12.0h0M90.5 24.1h0M76.0 24.4h0M58.1 7.7h0M57.7 44.5h0M47.6 38.0h0M61.0 3.3h0M68.9 30.3h0M27.4 1.6h0M78.7 24.3h0M65.3 45.1h0M64.9 47.3h0M35.9 41.1h0M40.4 48.0h0M79.9 5.0h0M12.4 11.1h0M87.8 22.4h0M57.0 15.4h0M46.1 19.8h0M31.9 30.0h0M53.1 46.4h0M62.0 47.7h0M77.8 50.8h0M61.0 8.4h0M78.2 49.5h0M82.2 29.2h0M64.9 10.8h0M75.6 29.4h0M25.9 3.3h0M77.6 50.8h0M8.0 41.1h0M37.3 7.7h0M26.7 39.4h0M79.3 2.3h0M55.9 2.3h0M65.3 17.0h0M80.1 50.3h0M45.9 51.2h0M28.1 3.9h0M54.5 1.6h0M17.9 20.9h0M55.5 8.0h0M3.9 44.5h0M28.5 49.2h0M81.5 19.4h0M41.9 26.7h0M58.5 30.6h0M50.8 31.8h0M85.5 26.0h0M39.2 37.0h0M21.6 15.4h0M88.9 26.7h0M49.9 0.6h0M37.7 29.8h0M1.8 31.6h0M57.5 3.1h0M57.0 23.9h0M61.7 18.1h0M64.3 37.9h0M2.0 3.1h0M61.5 49.4h0M22.8 23.4h0M53.9 16.4h0M33.1 16.0h0M33.6 30.6h0M27.3 19.3h0M70.2 1.4h0M51.7 37.7h0M28.2 11.4h0M73.1 12.2h0M17.0 22.3h0M63.5 5.2h0M29.3 17.1h0M75.8 22.5h0M77.8 8.7h0M30.6 33.4h0M80.4 23.1h0M20.5 6.2h0M48.1 9.8h0M73.3 43.0h0M16.7 14.3h0M73.4 32.9h0M73.3 17.7h0M11.8 15.0h0M72.2 13.9h0M31.5 21.4h0M38.2 21.0h0M83.7 8.0h0M0.4 48.4h0M80.0 50.6h0M39.5 48.7h0M84.3 11.4h0M67.8 42.9h0M60.3 26.6h0M26.3 17.5h0M20.7 3.5h0M53.5 14.7h0M73.6 2.3h0M82.1 35.6h0M84.0 46.0h0M81.8 29.6h0M1.2 38.2h0M15.6 15.4h0M60.3 26.9h0M37.6 48.2h0M55.6 17.5h0M22.9 44.2h0M43.4 40.1h0M32.0 10.1h0M48.6 41.9h0M15.6 40.6h0M83.8 41.4h0M74.9 0.4h0M57.1 44.2h0M4.5 13.9h0M24.4 27.0h0M38.4 24.3h0M70.6 0.1h0M5.0 6.5h0M11.3 3.5h0M88.6 43.8h0M7.8 25.8h0M28.7 16.1h0M31.9 33.2h0M53.3 18.5h0M17.4 16.9h0M11.2 28.5h0M65.1 19.5h0M7.3 9.2h0M33.9 31.0h0M71.1 19.5h0M72.8 32.0h0M39.2 19.1h0M45.1 36.1h0M38.2 35.6h0M41.9 12.6h0M48.7 35.7h0M6.5 21.8h0M38.7 45.1h0M85.1 19.2h0M81.6 40.6h0M23.8 23.8h0M11.2 41.7h0M60.2 45.5h0M72.0 34.2h0M66.7 28.9h0M9.4 30.2h0M0.4 7.4h0M70.4 2.3h0M8.3 5.1h0M80.0 9.2h0M2.1 43.2h0M11.0 43.3h0M61.2 42.9h0M86.6 29.7h0M72.6 1.9h0M69.8 26.2h0M65.0 5.5h0M68.1 47.9h0M5.6 16.6h0M51.3 42.5h0M22.0 9.2h0M22.7 31.6h0M68.5 20.2h0M33.4 20.3h0M31.8 21.5h0M7.6 25.7h0M88.5 21.2h0M67.9 8.2h0M62.8 38.8h0M61.3 26.5h0M44.0 33.0h0M81.6 7.7h0M8.7 38.4h0M83.3 26.5h0M40.3 36.9h0M16.9 13.7h0M18.1 30.0h0M28.6 11.9h0M62.8 48.9h0M26.9 36.2h0M37.6 43.8h0M53.1 13.7h0M19.8 1.2h0M43.6 19.6h0M15.7 18.5h0M29.3 39.7h0M13.1 50.8h0M43.6 30.7h0M42.5 42.8h0M74.7 28.6h0M43.8 37.0h0M77.9 20.5h0M66.7 49.3h0M42.5 11.8h0M21.3 36.8h0" stroke="#35302a" stroke-width="1.1"/><path d="M24.1 34.8l0.9 -2.3M24.1 34.8l0.8 2.4M24.1 34.8l-1.7 -1.3M24.1 34.8M87.7 22.8l-2.4 1.1M87.7 22.8l1.8 0.4M87.7 22.8M51.6 48.3l-0.2 -1.8M51.6 48.3l-0.4 1.5M51.6 48.3M10.9 41.8l-0.2 1.2M10.9 41.8M8.4 0.4l-0.5 -1.4M8.4 0.4l-0.1 0.9M8.4 0.4M17.8 25.0l-1.9 0.7M17.8 25.0l-0.5 -1.5M17.8 25.0l0.5 1.2M17.8 25.0M48.7 6.8l-1.3 -1.1M48.7 6.8l0.8 0.6M48.7 6.8M40.0 8.2l-1.5 0.1M40.0 8.2l0.1 -0.9M40.0 8.2l1.5 0.2M40.0 8.2M89.6 10.1l-1.1 0.0M89.6 10.1l-0.1 -1.4M89.6 10.1l0.4 0.8M89.6 10.1M6.6 7.4l1.4 1.4M6.6 7.4l-1.1 0.2M6.6 7.4l0.3 -1.6M6.6 7.4M85.1 50.0l-1.5 1.2M85.1 50.0l-0.8 -0.6M85.1 50.0l1.9 -1.4M85.1 50.0M28.4 31.2l-2.4 0.1M28.4 31.2M29.7 18.5l-1.1 2.3M29.7 18.5l0.8 -1.6M29.7 18.5M55.2 22.6l1.5 -1.1M55.2 22.6l-0.6 1.0M55.2 22.6M42.1 38.3l-0.2 1.7M42.1 38.3l1.4 -1.1M42.1 38.3M86.3 26.7l-1.0 -0.2M86.3 26.7l2.5 0.5M86.3 26.7M30.1 0.8l-0.8 0.9M30.1 0.8l-1.3 -0.9M30.1 0.8l0.9 -0.2M30.1 0.8M10.7 -1.1l-0.9 -0.3M10.7 -1.1M65.3 48.4l-0.7 -1.3M65.3 48.4l2.0 1.3M65.3 48.4l-0.3 1.9M65.3 48.4M10.5 11.8l0.7 0.9M10.5 11.8l-1.3 -1.1M10.5 11.8l2.0 -1.1M10.5 11.8M42.4 20.0l-1.0 0.6M42.4 20.0l1.2 -0.7M42.4 20.0M35.0 29.0l-0.9 1.1M35.0 29.0l2.0 -1.3M35.0 29.0M39.3 8.9l-1.7 -1.2M39.3 8.9l1.7 1.5M39.3 8.9M39.9 35.7l0.4 1.0M39.9 35.7l-1.8 0.2M39.9 35.7l1.1 -0.2M39.9 35.7M19.4 23.3l-0.1 -1.1M19.4 23.3l-1.5 0.8M19.4 23.3M35.2 19.9l0.3 0.8M35.2 19.9l-0.2 -1.4M35.2 19.9M65.2 46.1l-1.1 0.7M65.2 46.1" stroke="#6248b8" stroke-width="2.00"/><path d="M1.5 49.6l-1.0 1.2M1.5 49.6M5.7 33.9l2.1 -1.3M5.7 33.9M72.8 27.6l0.1 0.9M72.8 27.6l-0.9 0.5M72.8 27.6l0.6 -2.5M72.8 27.6M38.1 33.9l-1.1 2.4M38.1 33.9l0.2 -1.6M38.1 33.9M18.7 7.1l2.0 -1.6M18.7 7.1l-1.8 1.7M18.7 7.1M82.7 -0.4l-0.9 0.0M82.7 -0.4l1.1 -0.4M82.7 -0.4M57.5 35.3l-0.3 -2.3M57.5 35.3l0.5 2.1M57.5 35.3M25.5 28.9l-1.0 0.5M25.5 28.9l2.0 0.3M25.5 28.9M10.4 6.1l-0.6 0.8M10.4 6.1l1.4 -2.2M10.4 6.1M10.5 6.0l-0.3 2.4M10.5 6.0l0.1 -1.1M10.5 6.0l2.0 1.7M10.5 6.0M86.5 44.9l1.9 -1.4M86.5 44.9l-1.1 0.7M86.5 44.9M92.5 38.3l-0.8 1.0M92.5 38.3l1.4 -0.1M92.5 38.3M83.7 26.1l0.1 2.3M83.7 26.1M56.8 17.6l1.6 0.2M56.8 17.6l-1.1 0.3M56.8 17.6l0.3 -1.2M56.8 17.6M62.6 38.3l-0.6 1.1M62.6 38.3l-1.1 -0.9M62.6 38.3l2.2 1.2M62.6 38.3M17.7 14.8l0.7 1.9M17.7 14.8l0.2 -2.0M17.7 14.8M66.0 16.7l0.8 1.6M66.0 16.7l-1.2 -1.1M66.0 16.7M66.7 31.5l-1.0 0.5M66.7 31.5l1.5 0.9M66.7 31.5M34.8 0.6l-0.4 -1.1M34.8 0.6l1.6 0.6M34.8 0.6l-1.4 1.9M34.8 0.6M45.5 3.5l-1.3 -0.2M45.5 3.5l0.8 -0.9M45.5 3.5l1.1 0.8M45.5 3.5M44.6 41.1l-0.2 -0.9M44.6 41.1l0.2 0.9M44.6 41.1" stroke="#5038a6" stroke-width="2.10"/><path d="M62.1 51.0l0.9 -2.0M62.1 51.0l-1.7 0.9M62.1 51.0M6.2 3.1l-1.4 1.2M6.2 3.1M26.0 35.4l0.6 -2.5M26.0 35.4M67.3 6.3l2.3 0.8M67.3 6.3l-1.4 0.0M67.3 6.3l0.6 -1.8M67.3 6.3M59.4 23.3l-0.6 -0.8M59.4 23.3l0.3 1.8M59.4 23.3M35.2 3.5l1.0 0.3M35.2 3.5l-1.1 0.6M35.2 3.5l0.4 -1.7M35.2 3.5M49.1 49.4l0.6 -1.9M49.1 49.4l-1.8 1.5M49.1 49.4M86.0 37.6l2.1 -1.1M86.0 37.6l-1.9 0.9M86.0 37.6M91.5 4.2l0.5 1.7M91.5 4.2l-0.1 -2.2M91.5 4.2M5.4 6.5l2.3 -0.7M5.4 6.5l-0.2 1.1M5.4 6.5l-0.9 -1.3M5.4 6.5M49.4 17.9l1.5 0.0M49.4 17.9l-2.0 -1.1M49.4 17.9M91.4 41.9l0.8 -0.4M91.4 41.9l-0.8 0.2M91.4 41.9M49.9 20.6l-2.1 0.7M49.9 20.6l-0.4 -2.5M49.9 20.6l1.0 1.0M49.9 20.6M75.6 -1.7l-2.3 1.2M75.6 -1.7M63.1 27.0l-1.7 0.8M63.1 27.0M30.6 36.2l1.2 -0.7M30.6 36.2l-1.7 0.9M30.6 36.2M7.9 25.4l0.8 -0.5M7.9 25.4l-2.2 0.8M7.9 25.4M39.9 39.7l1.2 -0.6M39.9 39.7M57.9 3.2l0.7 -1.0M57.9 3.2l-0.6 1.9M57.9 3.2l-0.8 -0.3M57.9 3.2M85.1 19.9l-1.4 -1.1M85.1 19.9l1.2 0.6M85.1 19.9l-0.5 0.9M85.1 19.9M6.9 40.1l-2.0 -1.6M6.9 40.1l2.1 0.0M6.9 40.1M-1.0 35.5l-1.7 0.8M-1.0 35.5l0.9 -1.8M-1.0 35.5l1.3 0.6M-1.0 35.5M16.9 10.3l-1.3 -2.0M16.9 10.3l-0.4 2.0M16.9 10.3M33.4 0.4l0.3 1.1M33.4 0.4l-0.7 -0.6M33.4 0.4M25.4 4.5l0.4 0.9M25.4 4.5l-0.8 -1.8M25.4 4.5M37.4 -1.6l-0.0 -1.5M37.4 -1.6l0.1 1.2M37.4 -1.6M48.8 49.7l-0.7 1.0M48.8 49.7l0.8 -0.8M48.8 49.7" stroke="#7660c6" stroke-width="1.90"/><path d="M-1.3 16.5l-1.2 -0.0M-1.3 16.5l0.8 -2.4M-1.3 16.5l1.6 0.9M-1.3 16.5M48.9 4.3l1.1 0.8M48.9 4.3l-1.8 -1.1M48.9 4.3M10.2 31.6l-1.1 0.1M10.2 31.6l2.3 0.3M10.2 31.6M25.8 44.6l1.4 -0.4M25.8 44.6l-0.7 1.7M25.8 44.6l-1.5 -2.1M25.8 44.6M26.4 45.6l-2.1 -0.1M26.4 45.6M71.1 34.6l-1.6 0.4M71.1 34.6l1.6 -0.7M71.1 34.6M45.5 33.7l-1.6 -2.0M45.5 33.7M40.5 18.0l2.0 -1.0M40.5 18.0l-1.4 -0.3M40.5 18.0M24.1 41.6l-1.5 1.1M24.1 41.6l1.2 0.7M24.1 41.6M28.1 1.1l-0.8 -0.0M28.1 1.1M35.0 16.5l0.9 -2.2M35.0 16.5l-0.9 2.3M35.0 16.5M15.5 42.3l-1.8 1.1M15.5 42.3l2.1 -0.8M15.5 42.3M69.4 48.6l0.9 0.6M69.4 48.6l-0.7 2.2M69.4 48.6l-0.1 -2.0M69.4 48.6M82.8 2.7l0.1 2.3M82.8 2.7l-1.5 -1.2M82.8 2.7l1.5 -1.8M82.8 2.7M37.7 50.4l2.0 -1.7M37.7 50.4l1.2 1.4M37.7 50.4l-2.5 0.5M37.7 50.4M44.7 0.1l-0.6 -1.2M44.7 0.1l0.2 1.3M44.7 0.1M41.7 26.8l-1.1 0.3M41.7 26.8l1.5 1.3M41.7 26.8M37.1 45.1l1.8 0.5M37.1 45.1l-1.7 0.1M37.1 45.1M85.4 8.0l-1.1 0.7M85.4 8.0l-1.9 -1.6M85.4 8.0l1.4 -0.5M85.4 8.0M21.3 17.6l-1.0 -0.9M21.3 17.6M30.8 39.4l-1.7 0.5M30.8 39.4l1.1 -1.4M30.8 39.4l0.7 0.9M30.8 39.4M3.0 52.1l0.3 0.8M3.0 52.1l-0.6 -2.2M3.0 52.1M54.0 10.1l-0.8 -1.7M54.0 10.1l0.9 2.0M54.0 10.1M14.7 32.3l1.0 1.2M14.7 32.3M71.8 1.3l0.2 0.9M71.8 1.3l-0.9 -0.2M71.8 1.3l0.9 -0.5M71.8 1.3M38.9 42.0l-2.6 0.2M38.9 42.0M11.3 9.3l-1.0 -0.2M11.3 9.3l1.3 -1.6M11.3 9.3M87.0 4.6l-0.4 2.1M87.0 4.6l0.9 -0.8M87.0 4.6M14.7 39.5l-1.7 -1.0M14.7 39.5l0.9 -0.1M14.7 39.5l-0.2 2.3M14.7 39.5M52.9 12.8l-0.9 2.1M52.9 12.8l-0.8 -1.2M52.9 12.8l0.8 -1.5M52.9 12.8M79.9 22.7l-2.3 -0.4M79.9 22.7M50.6 15.7l-1.2 -1.1M50.6 15.7l1.8 0.2M50.6 15.7M80.4 26.5l1.3 0.2M80.4 26.5l-2.5 0.1M80.4 26.5M88.0 24.4l0.7 2.4M88.0 24.4l0.2 -1.8M88.0 24.4M10.6 47.8l-2.0 0.1M10.6 47.8l0.6 -2.2M10.6 47.8l0.7 1.6M10.6 47.8M64.2 32.8l-1.9 -0.5M64.2 32.8l1.1 -0.4M64.2 32.8l-0.0 0.9M64.2 32.8M52.0 12.7l-1.6 0.1M52.0 12.7l0.8 0.4M52.0 12.7M4.5 42.4l1.4 -0.8M4.5 42.4M16.2 2.6l-0.5 -0.8M16.2 2.6l0.3 1.7M16.2 2.6M-1.4 1.8l-1.9 0.8M-1.4 1.8" stroke="#443098" stroke-width="1.80"/></g></svg>
<svg x="432.40" y="998.40" width="92.40" height="51.30" overflow="hidden"><rect width="92.40" height="51.30" fill="#aaa599"/><g filter="url(#cb)" stroke-linecap="round" stroke-linejoin="round" fill="none"><path d="M21.8 5.3h0M36.6 8.0h0M6.1 20.6h0M84.8 41.1h0M70.7 11.4h0M49.6 14.2h0M16.0 5.4h0M19.8 47.6h0M76.6 41.4h0M74.0 9.9h0M28.6 32.2h0M67.6 43.8h0M81.3 4.4h0M56.0 34.5h0M46.8 9.1h0M43.8 4.6h0M86.4 44.4h0M50.6 15.4h0M84.0 29.4h0M81.5 43.5h0M47.0 21.2h0M55.3 22.1h0M14.9 15.7h0M75.1 2.2h0M4.3 32.1h0M25.9 27.4h0M43.5 17.6h0M92.1 10.0h0M38.1 10.4h0M58.5 14.2h0M32.9 38.3h0M29.6 28.7h0M83.6 5.2h0M5.7 11.7h0M70.7 31.6h0M21.9 17.0h0M16.4 23.5h0M4.0 35.8h0M82.8 49.0h0M67.9 49.2h0M1.7 14.8h0M89.3 39.8h0M37.9 48.4h0M57.3 42.0h0M27.1 9.8h0M41.0 7.0h0M35.3 49.3h0M30.6 0.5h0M4.1 8.7h0M72.4 18.6h0M26.8 5.0h0M90.7 21.7h0M19.2 3.0h0M5.1 8.7h0M62.5 7.7h0M3.8 25.2h0M23.0 51.2h0M11.3 27.2h0M71.5 21.0h0M91.3 24.5h0M22.3 21.1h0M3.4 21.6h0M23.0 45.6h0M76.8 25.6h0M2.9 13.1h0M22.4 10.7h0M21.4 44.6h0M13.1 2.6h0M85.8 29.0h0M91.5 20.7h0M83.2 33.5h0M73.1 38.2h0M45.7 4.8h0M19.5 44.8h0M83.1 47.4h0M31.1 33.7h0M73.9 33.0h0M75.3 27.1h0M60.5 35.2h0M24.8 47.3h0M88.4 3.8h0M89.7 49.3h0M61.8 2.3h0M83.1 6.5h0M89.5 34.2h0M5.6 8.6h0M58.7 29.2h0M69.0 47.6h0M20.2 0.2h0M85.2 0.7h0M81.0 5.9h0M74.8 40.2h0M81.1 28.2h0M81.2 10.3h0M62.0 17.0h0M82.4 39.7h0M43.6 27.0h0M2.4 1.8h0M54.9 25.1h0M79.9 31.2h0M12.8 18.6h0M70.9 26.8h0M1.0 43.0h0M76.5 4.4h0M50.2 19.6h0M72.8 16.0h0M21.6 25.0h0M89.3 4.9h0M10.6 31.9h0M81.8 26.3h0M40.1 44.0h0M71.8 3.4h0M81.4 10.0h0M27.9 42.9h0M39.0 41.0h0M15.5 44.9h0M16.3 7.7h0M45.7 17.4h0M50.1 46.4h0M65.7 0.3h0" stroke="#35302a" stroke-width="1.1"/><path d="M32.6 43.0l0.4 1.9M32.6 43.0l-1.6 -1.2M32.6 43.0M1.1 15.5l1.9 0.3M1.1 15.5l-1.5 -1.1M1.1 15.5M12.7 6.7l-0.2 0.6M12.7 6.7l0.4 -1.2M12.7 6.7M22.1 9.1l0.8 -1.7M22.1 9.1l-0.5 0.5M22.1 9.1M77.7 26.2l1.0 -1.1M77.7 26.2M-0.2 38.5l-0.8 0.2M-0.2 38.5M17.6 3.2l0.7 -0.8M17.6 3.2M54.1 6.3l1.5 -0.5M54.1 6.3l-1.5 0.7M54.1 6.3M13.5 50.0l0.2 -1.5M13.5 50.0l0.4 0.6M13.5 50.0M68.6 21.1l-0.9 1.0M68.6 21.1l0.9 -0.8M68.6 21.1M80.3 25.3l1.4 -0.2M80.3 25.3M11.8 37.3l0.7 -0.2M11.8 37.3l-1.3 1.0M11.8 37.3M50.4 12.6l-1.5 0.9M50.4 12.6l1.1 -0.5M50.4 12.6M32.7 9.1l-0.1 -0.6M32.7 9.1l1.4 0.6M32.7 9.1l-0.8 0.0M32.7 9.1M69.9 2.5l1.5 -1.2M69.9 2.5M40.1 5.5l-1.4 0.5M40.1 5.5l1.4 0.3M40.1 5.5M58.1 31.3l0.9 0.4M58.1 31.3l-1.5 -0.6M58.1 31.3M89.4 21.9l-0.2 -0.7M89.4 21.9l-0.5 0.4M89.4 21.9M35.4 9.7l-0.1 0.8M35.4 9.7M53.2 5.3l0.4 -0.7M53.2 5.3l-0.4 1.7M53.2 5.3M24.4 1.1l-1.5 0.3M24.4 1.1M19.7 42.1l0.5 0.4M19.7 42.1l-1.2 -1.2M19.7 42.1M80.0 33.4l0.2 -1.7M80.0 33.4l-0.3 1.1M80.0 33.4M25.6 49.2l-0.7 -0.5M25.6 49.2l0.7 0.3M25.6 49.2M46.7 35.3l-0.3 0.8M46.7 35.3l-0.2 -0.7M46.7 35.3M33.1 52.7l-0.8 0.5M33.1 52.7l1.0 -1.1M33.1 52.7l0.2 1.8M33.1 52.7M78.2 50.1l1.9 -0.2M78.2 50.1l-0.8 0.5M78.2 50.1M89.5 40.9l-0.5 1.5M89.5 40.9l-0.6 -1.7M89.5 40.9M7.8 29.7l0.9 -0.4M7.8 29.7l0.4 0.7M7.8 29.7l-1.6 -0.3M7.8 29.7M43.2 27.0l0.3 -1.2M43.2 27.0l0.4 1.7M43.2 27.0M20.5 18.3l1.1 -0.5M20.5 18.3l-1.4 0.5M20.5 18.3M70.2 5.7l-1.4 0.8M70.2 5.7l-0.2 -0.7M70.2 5.7l0.6 0.5M70.2 5.7M77.4 45.4l-1.0 0.0M77.4 45.4l1.5 0.5M77.4 45.4M17.7 7.5l0.8 0.1M17.7 7.5l-1.9 -0.1M17.7 7.5M43.1 6.2l1.3 0.6M43.1 6.2l-1.2 0.9M43.1 6.2M83.5 20.3l1.3 0.5M83.5 20.3l-1.3 1.0M83.5 20.3M55.6 11.1l-1.6 0.3M55.6 11.1l0.6 -0.0M55.6 11.1M47.1 38.3l-1.2 0.3M47.1 38.3l1.6 -0.0M47.1 38.3M0.5 51.8l-1.0 0.2M0.5 51.8l0.5 -1.3M0.5 51.8l0.3 1.1M0.5 51.8M18.2 10.8l-0.5 1.6M18.2 10.8l0.2 -0.9M18.2 10.8M7.1 41.5l0.7 0.7M7.1 41.5l-0.7 -1.6M7.1 41.5M11.6 50.5l-0.7 -0.4M11.6 50.5l0.6 -0.4M11.6 50.5l-0.0 1.0M11.6 50.5M78.2 45.9l-0.1 1.7M78.2 45.9l0.4 -0.7M78.2 45.9M44.2 40.0l0.9 -0.4M44.2 40.0l-0.5 0.3M44.2 40.0M22.8 30.3l-0.6 -0.6M22.8 30.3M79.5 35.9l-0.5 0.8M79.5 35.9l-0.1 -1.4M79.5 35.9l0.8 0.5M79.5 35.9M33.2 49.6l-1.3 -0.3M33.2 49.6l0.9 -0.5M33.2 49.6l0.4 1.5M33.2 49.6M92.8 50.3l0.4 -1.9M92.8 50.3l-0.3 1.1M92.8 50.3M76.0 40.3l0.1 1.3M76.0 40.3M49.1 46.5l-0.2 0.7M49.1 46.5l-0.0 -1.0M49.1 46.5M77.7 40.0l-0.5 1.8M77.7 40.0l-0.4 -1.5M77.7 40.0M29.4 13.1l-0.5 1.4M29.4 13.1l0.6 -0.8M29.4 13.1M82.6 27.6l-0.3 1.1M82.6 27.6l0.9 -1.4M82.6 27.6M73.0 26.2l1.1 0.7M73.0 26.2l-1.2 0.6M73.0 26.2l0.7 -1.1M73.0 26.2M29.2 5.0l0.2 1.1M29.2 5.0l0.3 -0.7M29.2 5.0M0.5 51.1l-0.9 -1.0M0.5 51.1M75.3 20.8l-1.4 -1.1M75.3 20.8l1.3 0.6M75.3 20.8M92.2 52.1l1.4 0.8M92.2 52.1M-0.1 33.4l1.3 -1.1M-0.1 33.4l-1.2 1.4M-0.1 33.4M65.7 40.3l-1.0 -0.1M65.7 40.3l0.6 1.1M65.7 40.3M50.3 2.7l0.1 -1.8M50.3 2.7M44.6 36.9l1.6 0.3M44.6 36.9M60.6 51.1l0.4 -1.4M60.6 51.1l-0.5 1.2M60.6 51.1M0.9 12.9l1.5 -0.7M0.9 12.9l-0.3 1.8M0.9 12.9M6.6 50.2l0.7 -1.7M6.6 50.2l0.2 1.0M6.6 50.2M72.4 26.9l-0.2 1.9M72.4 26.9l-1.1 -0.9M72.4 26.9l1.2 0.6M72.4 26.9M31.5 33.4l-1.1 -1.1M31.5 33.4l0.3 -1.1M31.5 33.4l0.6 0.9M31.5 33.4M60.4 20.0l0.9 -1.1M60.4 20.0l-0.7 0.2M60.4 20.0M-1.5 20.6l0.6 -0.6M-1.5 20.6l-1.4 0.5M-1.5 20.6M91.1 51.5l-0.1 1.0M91.1 51.5l-0.4 -1.0M91.1 51.5M51.1 41.3l-0.1 0.8M51.1 41.3M11.6 21.7l0.1 1.0M11.6 21.7l-1.2 -1.3M11.6 21.7M18.1 41.8l-0.8 1.6M18.1 41.8l0.9 -0.4M18.1 41.8M31.2 31.4l-1.0 -0.6M31.2 31.4M29.6 15.8l-0.0 1.4M29.6 15.8M38.5 24.1l1.3 -0.1M38.5 24.1l-1.1 0.3M38.5 24.1M49.3 12.1l-1.2 0.2M49.3 12.1l0.9 -0.5M49.3 12.1M13.8 29.5l-0.3 0.9M13.8 29.5M94.3 48.5l-0.7 -0.4M94.3 48.5l1.2 0.8M94.3 48.5M36.5 23.8l-0.8 0.2M36.5 23.8l0.5 -1.3M36.5 23.8l0.6 0.9M36.5 23.8M3.8 52.8l-0.5 0.4M3.8 52.8M42.6 15.8l-1.0 0.9M42.6 15.8l0.7 -0.6M42.6 15.8M72.3 19.2l1.2 0.9M72.3 19.2M32.4 39.5l-0.7 -1.8M32.4 39.5l-0.4 1.0M32.4 39.5M31.8 9.4l0.5 1.0M31.8 9.4l-0.9 -0.5M31.8 9.4l1.1 -0.6M31.8 9.4M34.7 8.6l0.5 0.7M34.7 8.6l-0.5 -0.3M34.7 8.6M16.3 19.3l-0.6 -0.4M16.3 19.3l0.8 0.5M16.3 19.3M20.3 14.2l1.6 -0.1M20.3 14.2l-1.5 0.9M20.3 14.2l0.4 -1.2M20.3 14.2M0.8 8.2l-0.2 -0.6M0.8 8.2M85.0 23.9l0.5 -1.2M85.0 23.9M67.9 16.2l0.8 0.2M67.9 16.2M28.7 47.5l1.4 -0.5M28.7 47.5l-0.8 1.2M28.7 47.5l-0.9 -0.6M28.7 47.5M2.5 15.6l-0.9 0.6M2.5 15.6l1.4 -1.4M2.5 15.6M31.8 28.4l0.7 -1.0M31.8 28.4l0.3 1.7M31.8 28.4l-0.5 -0.5M31.8 28.4M35.0 8.2l0.0 -1.7M35.0 8.2l-0.8 1.6M35.0 8.2M69.8 10.2l1.3 1.2M69.8 10.2l-1.3 0.4M69.8 10.2M11.4 19.2l-1.7 -0.4M11.4 19.2l1.3 -0.4M11.4 19.2l0.8 1.3M11.4 19.2M41.5 41.2l1.5 1.1M41.5 41.2l-0.8 -1.4M41.5 41.2M11.2 41.2l0.8 0.5M11.2 41.2M39.6 37.3l1.3 1.3M39.6 37.3l-1.6 -0.6M39.6 37.3M83.8 -0.1l0.7 -1.3M83.8 -0.1l0.9 0.5M83.8 -0.1l-1.3 0.5M83.8 -0.1M31.1 8.0l1.3 -1.3M31.1 8.0M33.3 30.5l-1.0 1.4M33.3 30.5l0.8 -1.0M33.3 30.5M71.5 38.5l-0.5 0.3M71.5 38.5l1.2 -0.6M71.5 38.5M58.2 20.6l0.4 -0.8M58.2 20.6l-0.4 1.4M58.2 20.6l-1.5 0.1M58.2 20.6M58.8 35.9l-0.6 1.5M58.8 35.9l0.2 -1.6M58.8 35.9M66.7 28.4l1.0 -0.6M66.7 28.4M39.1 -0.9l-1.3 -1.1M39.1 -0.9M90.2 15.9l1.7 0.3M90.2 15.9l-0.9 -0.1M90.2 15.9M38.4 7.6l0.7 -0.1M38.4 7.6l-0.5 0.6M38.4 7.6l-0.6 -1.0M38.4 7.6M47.4 30.7l0.6 -0.5M47.4 30.7l0.3 0.8M47.4 30.7l-1.1 -0.7M47.4 30.7M1.1 49.4l-1.2 -0.4M1.1 49.4l0.6 -1.5M1.1 49.4l0.7 1.0M1.1 49.4M62.0 37.4l1.7 -0.2M62.0 37.4M80.8 6.2l1.0 -0.0M80.8 6.2l-0.8 0.6M80.8 6.2l0.1 -1.2M80.8 6.2M70.9 -0.5l-1.3 0.6M70.9 -0.5l0.3 -1.0M70.9 -0.5l0.7 0.5M70.9 -0.5M93.5 7.5l-0.4 -1.1M93.5 7.5l1.4 0.8M93.5 7.5l-0.8 0.7M93.5 7.5M4.2 -0.8l0.4 1.6M4.2 -0.8l0.0 -1.6M4.2 -0.8M85.1 19.7l0.8 1.4M85.1 19.7M49.1 21.0l-0.2 -1.6M49.1 21.0M27.3 46.6l0.5 1.7M27.3 46.6l-0.5 -1.0M27.3 46.6l0.8 -1.0M27.3 46.6M78.5 53.2l1.4 0.0M78.5 53.2l0.1 1.0M78.5 53.2l-1.2 -0.4M78.5 53.2M46.1 34.2l-0.3 0.9M46.1 34.2l-0.2 -1.5M46.1 34.2l0.6 0.4M46.1 34.2M29.0 42.3l-0.0 1.1M29.0 42.3M9.9 3.7l-0.9 1.5M9.9 3.7l0.9 -1.2M9.9 3.7M3.5 51.3l-0.8 -0.4M3.5 51.3l0.3 1.7M3.5 51.3M87.2 23.2l-1.4 1.1M87.2 23.2l1.3 -1.3M87.2 23.2M34.0 38.7l0.7 0.7M34.0 38.7l-0.4 -0.8M34.0 38.7M23.4 42.4l-0.6 -0.4M23.4 42.4l0.4 0.8M23.4 42.4M91.4 40.1l-0.4 1.6M91.4 40.1l0.8 -0.4M91.4 40.1M21.8 -0.2l-1.4 -0.5M21.8 -0.2M35.7 40.2l1.3 0.1M35.7 40.2l-0.6 -0.3M35.7 40.2M43.5 27.6l-0.9 -1.6M43.5 27.6l-0.7 1.7M43.5 27.6M42.8 12.3l-0.4 -0.5M42.8 12.3l1.0 0.8M42.8 12.3M51.5 31.1l1.0 -1.5M51.5 31.1l-0.1 1.7M51.5 31.1M7.6 28.6l0.6 -1.1M7.6 28.6l0.9 0.9M7.6 28.6l-1.4 0.9M7.6 28.6M91.3 33.9l-0.3 -1.9M91.3 33.9M92.0 31.9l-1.2 0.1M92.0 31.9l0.8 -1.5M92.0 31.9l-0.0 1.1M92.0 31.9M7.5 16.1l0.5 -1.0M7.5 16.1M56.1 27.9l-0.2 1.8M56.1 27.9l-0.0 -1.0M56.1 27.9M78.0 34.2l0.2 1.5M78.0 34.2l0.5 -0.6M78.0 34.2M15.7 46.1l0.4 -1.0M15.7 46.1l0.5 0.9M15.7 46.1M73.0 24.6l0.6 0.0M73.0 24.6l-0.1 1.2M73.0 24.6l-1.2 -0.8M73.0 24.6M68.6 32.4l0.1 1.1M68.6 32.4l-1.0 -0.4M68.6 32.4l0.7 -0.9M68.6 32.4M13.7 1.4l1.2 -1.0M13.7 1.4l-0.3 1.9M13.7 1.4l-0.9 -1.4M13.7 1.4M62.5 18.2l0.9 -1.3M62.5 18.2M56.4 35.3l-0.7 -1.4M56.4 35.3l-0.3 1.9M56.4 35.3M60.6 33.2l1.1 0.6M60.6 33.2l-0.9 0.5M60.6 33.2l-0.5 -1.3M60.6 33.2M32.5 40.2l-1.2 0.7M32.5 40.2l0.5 -1.1M32.5 40.2M27.8 46.2l-0.3 -1.8M27.8 46.2M56.4 39.7l0.8 -0.4M56.4 39.7l-1.4 0.6M56.4 39.7M58.5 46.2l0.3 -1.4M58.5 46.2M80.8 20.0l1.6 0.5M80.8 20.0M63.6 14.9l-1.2 -0.3M63.6 14.9l1.9 0.2M63.6 14.9M67.3 10.0l-1.6 0.8M67.3 10.0l1.6 -0.6M67.3 10.0M23.0 40.3l-1.1 0.6M23.0 40.3l0.9 -0.5M23.0 40.3M56.2 4.6l-1.7 0.9M56.2 4.6l0.6 -0.8M56.2 4.6M52.9 15.5l1.6 1.0M52.9 15.5M41.5 33.2l1.4 -1.4M41.5 33.2l0.8 0.7M41.5 33.2l-0.6 0.1M41.5 33.2M56.4 50.8l-0.6 1.2M56.4 50.8M87.4 46.3l-1.3 0.8M87.4 46.3l0.8 -0.7M87.4 46.3M-0.4 38.6l-0.2 1.6M-0.4 38.6l-0.6 -0.4M-0.4 38.6l1.9 0.1M-0.4 38.6M31.0 6.2l0.0 0.6M31.0 6.2l0.4 -1.3M31.0 6.2M5.3 35.1l0.8 -0.2M5.3 35.1l-0.5 0.4M5.3 35.1M72.7 45.1l1.0 0.1M72.7 45.1l-1.2 -0.4M72.7 45.1" stroke="#6248b8" stroke-width="1.50"/><path d="M29.8 18.6l1.1 -0.9M29.8 18.6l-0.5 1.5M29.8 18.6M87.2 52.5l-0.5 -1.5M87.2 52.5l1.7 -0.3M87.2 52.5l-0.8 1.7M87.2 52.5M55.7 47.6l-1.1 1.1M55.7 47.6l0.8 -1.0M55.7 47.6M68.5 34.2l-1.2 -0.9M68.5 34.2M51.2 25.8l0.1 -1.3M51.2 25.8l-0.7 0.4M51.2 25.8M52.0 13.6l-0.4 0.8M52.0 13.6l-0.0 -1.2M52.0 13.6l1.0 0.4M52.0 13.6M56.7 35.4l1.9 0.3M56.7 35.4l-0.7 -0.1M56.7 35.4M12.7 10.1l-0.7 -0.5M12.7 10.1l1.0 0.3M12.7 10.1M66.3 50.2l1.1 0.7M66.3 50.2l-0.5 -0.6M66.3 50.2M48.8 8.0l-1.6 -0.1M48.8 8.0l0.7 1.0M48.8 8.0M11.3 0.4l0.1 1.6M11.3 0.4l0.2 -1.1M11.3 0.4M64.6 51.1l0.5 -0.4M64.6 51.1l-1.4 0.0M64.6 51.1M2.5 50.1l1.0 -0.4M2.5 50.1l-1.0 0.4M2.5 50.1M39.9 38.8l-0.8 0.7M39.9 38.8l0.2 -0.5M39.9 38.8M82.7 29.8l0.4 1.0M82.7 29.8l-1.1 -1.4M82.7 29.8l1.2 -0.9M82.7 29.8M61.7 52.0l1.3 -0.9M61.7 52.0l-0.5 1.2M61.7 52.0l-0.8 -1.5M61.7 52.0M35.1 9.4l-0.9 0.6M35.1 9.4M86.5 3.9l0.1 1.2M86.5 3.9M61.8 5.1l-0.5 -0.4M61.8 5.1l1.7 -0.3M61.8 5.1M68.6 49.6l1.0 -0.2M68.6 49.6l-0.4 1.6M68.6 49.6l-0.7 -1.0M68.6 49.6M53.2 41.0l-0.9 -0.5M53.2 41.0M86.3 34.6l-1.6 -0.0M86.3 34.6M85.2 37.4l-0.6 0.7M85.2 37.4M41.2 46.7l-1.0 0.1M41.2 46.7l0.7 -0.7M41.2 46.7l0.5 1.1M41.2 46.7M60.6 45.5l1.6 0.0M60.6 45.5l-1.6 0.5M60.6 45.5M50.6 14.6l0.4 1.9M50.6 14.6l-0.8 -1.2M50.6 14.6M0.9 6.8l0.2 1.5M0.9 6.8l-0.1 -1.5M0.9 6.8M53.5 46.5l-0.3 -1.0M53.5 46.5M68.5 12.5l1.0 1.4M68.5 12.5l-1.6 0.2M68.5 12.5l0.7 -1.4M68.5 12.5M20.1 44.6l-0.1 0.9M20.1 44.6M26.9 21.6l1.6 0.8M26.9 21.6l-0.8 -0.6M26.9 21.6M56.5 39.0l-0.0 -0.6M56.5 39.0M90.7 27.5l-1.4 0.7M90.7 27.5l-0.1 -1.8M90.7 27.5l0.8 0.7M90.7 27.5M71.9 50.3l0.4 1.1M71.9 50.3l0.6 -1.5M71.9 50.3M39.3 51.8l1.5 0.3M39.3 51.8l-0.8 1.0M39.3 51.8l-0.2 -1.9M39.3 51.8M77.0 11.2l-1.3 1.0M77.0 11.2l0.9 0.4M77.0 11.2M55.3 33.0l-1.5 0.4M55.3 33.0l0.8 0.4M55.3 33.0M31.1 46.9l0.2 -0.6M31.1 46.9M1.6 41.7l0.9 1.6M1.6 41.7l0.3 -0.7M1.6 41.7M46.8 50.3l1.2 0.9M46.8 50.3l-0.5 -0.5M46.8 50.3M56.4 36.1l-0.8 0.3M56.4 36.1l1.3 -0.7M56.4 36.1l0.3 0.8M56.4 36.1M21.8 47.2l0.0 -0.8M21.8 47.2l-0.0 1.0M21.8 47.2M43.8 24.7l0.1 0.8M43.8 24.7l-0.0 -0.6M43.8 24.7M79.5 37.6l0.3 -1.0M79.5 37.6l0.2 1.0M79.5 37.6M92.2 50.9l-0.6 -0.1M92.2 50.9l1.5 0.8M92.2 50.9M5.6 6.8l0.1 -0.8M5.6 6.8M8.1 34.8l1.6 -0.4M8.1 34.8l-1.6 0.4M8.1 34.8M48.5 1.4l-0.3 1.8M48.5 1.4l0.4 -1.7M48.5 1.4M19.2 30.1l0.4 -0.8M19.2 30.1l-0.5 1.2M19.2 30.1M85.0 17.4l0.4 -0.7M85.0 17.4M30.9 1.2l0.5 -1.1M30.9 1.2l1.0 1.1M30.9 1.2l-1.6 -0.3M30.9 1.2M85.5 21.5l0.8 0.3M85.5 21.5l-0.3 -0.6M85.5 21.5M3.3 40.7l1.6 -0.8M3.3 40.7l-0.3 0.9M3.3 40.7l-1.1 -1.1M3.3 40.7M4.2 41.1l1.3 0.9M4.2 41.1l-0.6 1.4M4.2 41.1l-0.7 -1.4M4.2 41.1M81.9 33.0l0.8 -1.5M81.9 33.0l-0.7 1.1M81.9 33.0M38.7 21.7l-0.7 1.0M38.7 21.7l-0.9 -0.5M38.7 21.7l1.4 -0.5M38.7 21.7M6.9 20.2l-1.3 0.7M6.9 20.2l-0.0 -1.9M6.9 20.2l1.8 0.1M6.9 20.2M1.5 52.8l0.6 0.7M1.5 52.8l-0.7 -0.9M1.5 52.8M43.5 15.3l-0.0 -0.8M43.5 15.3M28.6 31.0l-0.7 0.5M28.6 31.0l0.5 -0.7M28.6 31.0l1.5 0.7M28.6 31.0M28.2 48.0l-0.2 -1.0M28.2 48.0M78.2 31.7l-1.0 0.2M78.2 31.7l-0.4 -1.3M78.2 31.7l0.7 0.8M78.2 31.7M27.1 8.4l-0.4 -0.8M27.1 8.4l0.1 1.1M27.1 8.4M35.4 23.1l-0.6 1.7M35.4 23.1M23.0 32.4l-0.1 -1.4M23.0 32.4l1.3 0.7M23.0 32.4l-0.1 0.6M23.0 32.4M5.9 6.0l-0.8 1.6M5.9 6.0l0.8 -0.3M5.9 6.0M75.7 13.7l1.1 -1.2M75.7 13.7M71.3 31.1l-0.1 1.5M71.3 31.1l0.3 -0.6M71.3 31.1M87.7 12.6l-1.7 -0.8M87.7 12.6M22.3 53.0l0.8 -1.4M22.3 53.0M39.4 29.4l-1.9 0.1M39.4 29.4l0.9 -0.2M39.4 29.4M43.6 14.7l1.8 -0.5M43.6 14.7l-0.9 0.5M43.6 14.7M18.7 6.4l0.7 0.2M18.7 6.4l-1.8 0.5M18.7 6.4l-0.3 -1.4M18.7 6.4M57.8 28.4l-0.4 1.9M57.8 28.4l0.6 -1.5M57.8 28.4M76.4 29.1l-0.8 0.1M76.4 29.1M2.9 24.6l0.4 -0.5M2.9 24.6l0.4 1.2M2.9 24.6l-0.7 0.1M2.9 24.6M79.9 37.1l0.3 -1.9M79.9 37.1M64.5 27.5l1.3 0.2M64.5 27.5l-1.5 0.0M64.5 27.5M51.1 27.0l1.2 -0.1M51.1 27.0l-0.9 -0.9M51.1 27.0M80.6 6.9l0.1 -1.4M80.6 6.9l1.6 1.1M80.6 6.9l-1.7 0.2M80.6 6.9M40.5 50.0l0.2 1.0M40.5 50.0l-0.4 -0.4M40.5 50.0l0.9 -0.1M40.5 50.0M29.4 2.8l-0.9 1.0M29.4 2.8l1.9 0.3M29.4 2.8M17.8 17.6l0.4 -0.6M17.8 17.6l-0.7 1.6M17.8 17.6M93.3 51.8l-1.1 0.9M93.3 51.8l0.4 -1.3M93.3 51.8l0.6 0.8M93.3 51.8M48.7 51.9l-0.8 0.5M48.7 51.9M33.9 8.4l1.2 -1.1M33.9 8.4l-0.5 0.5M33.9 8.4M42.8 52.4l-1.1 -0.9M42.8 52.4M14.9 13.9l1.5 -1.0M14.9 13.9M4.2 18.4l-0.7 -1.6M4.2 18.4M54.3 11.9l1.2 -0.7M54.3 11.9l-1.3 0.9M54.3 11.9M54.8 31.6l0.2 1.0M54.8 31.6l-0.1 -0.8M54.8 31.6M29.6 51.8l-0.8 0.3M29.6 51.8M19.1 46.4l-0.9 0.7M19.1 46.4M45.2 19.5l-0.1 -1.4M45.2 19.5M91.1 14.8l-1.4 -0.8M91.1 14.8l1.5 0.9M91.1 14.8M10.5 10.2l-1.4 0.4M10.5 10.2l-0.6 -1.1M10.5 10.2l1.4 0.3M10.5 10.2M52.2 3.0l1.1 -0.4M52.2 3.0l-0.7 0.9M52.2 3.0M58.0 40.2l-0.3 -0.9M58.0 40.2l-0.5 1.2M58.0 40.2M82.4 15.9l-0.0 -1.3M82.4 15.9l-0.3 1.4M82.4 15.9M38.7 28.0l-1.2 0.2M38.7 28.0l1.1 -0.5M38.7 28.0M44.5 21.7l1.1 -0.6M44.5 21.7l-1.4 0.1M44.5 21.7M-0.6 7.9l-0.7 -0.5M-0.6 7.9l0.5 0.6M-0.6 7.9M68.8 15.2l1.3 -0.1M68.8 15.2l0.1 0.7M68.8 15.2l-0.5 -0.6M68.8 15.2M14.5 27.1l-1.8 0.6M14.5 27.1M45.9 23.3l1.0 -0.1M45.9 23.3M9.3 30.8l-0.8 -1.1M9.3 30.8l1.8 0.5M9.3 30.8l-0.8 1.4M9.3 30.8M72.6 48.9l0.1 0.9M72.6 48.9l0.9 -1.5M72.6 48.9M49.2 46.5l-1.0 -1.2M49.2 46.5l1.1 0.0M49.2 46.5l0.9 1.7M49.2 46.5M28.6 12.9l-0.9 0.4M28.6 12.9l0.5 -1.7M28.6 12.9M17.0 15.1l-0.7 0.9M17.0 15.1l0.7 -1.6M17.0 15.1M84.0 33.5l-1.3 0.3M84.0 33.5l0.8 -0.7M84.0 33.5M20.9 29.1l-0.4 -1.2M20.9 29.1l0.9 -0.3M20.9 29.1l-0.2 1.1M20.9 29.1M38.2 0.0l-1.1 -0.7M38.2 0.0M40.9 30.9l-0.8 -1.6M40.9 30.9l0.9 -0.5M40.9 30.9l0.3 1.3M40.9 30.9M37.6 36.7l0.0 0.7M37.6 36.7l-1.4 -1.2M37.6 36.7M44.5 33.8l0.1 -0.8M44.5 33.8M38.9 39.3l0.2 0.7M38.9 39.3l-1.3 0.5M38.9 39.3l0.3 -0.8M38.9 39.3M78.8 0.6l-1.0 0.5M78.8 0.6l0.7 -0.4M78.8 0.6M68.9 23.4l0.7 0.7M68.9 23.4l0.3 -1.0M68.9 23.4M12.0 0.5l0.7 -1.8M12.0 0.5l-0.4 1.3M12.0 0.5M32.7 42.2l0.7 -0.1M32.7 42.2l-0.1 0.6M32.7 42.2l-0.7 -0.9M32.7 42.2M82.6 8.5l0.7 0.4M82.6 8.5l-1.1 0.4M82.6 8.5l-0.7 -1.2M82.6 8.5M92.2 40.1l0.1 -1.1M92.2 40.1l-0.1 1.3M92.2 40.1M70.5 36.2l-0.8 -1.5M70.5 36.2M17.5 43.3l0.7 -1.3M17.5 43.3l0.9 0.7M17.5 43.3l-1.2 -0.8M17.5 43.3M66.5 18.0l0.8 -0.4M66.5 18.0l-0.8 0.2M66.5 18.0M87.7 10.2l1.0 1.0M87.7 10.2l-0.8 1.0M87.7 10.2l-0.8 -1.1M87.7 10.2M93.4 50.7l-1.2 -0.8M93.4 50.7l1.2 1.0M93.4 50.7M20.8 41.9l0.5 1.1M20.8 41.9M28.5 1.0l0.3 -1.6M28.5 1.0l0.8 0.1M28.5 1.0l-1.3 1.0M28.5 1.0M87.8 52.6l-0.5 -0.8M87.8 52.6l1.5 -0.2M87.8 52.6l-1.7 0.5M87.8 52.6M64.0 1.2l0.3 -1.1M64.0 1.2l-0.8 0.9M64.0 1.2M41.4 10.6l0.3 -0.7M41.4 10.6l1.7 0.6M41.4 10.6l-0.9 0.1M41.4 10.6M8.1 53.0l0.3 -1.0M8.1 53.0l0.5 1.6M8.1 53.0M33.1 26.6l-0.0 0.6M33.1 26.6M67.4 39.4l0.3 1.5M67.4 39.4l0.4 -1.6M67.4 39.4M93.3 21.9l-0.4 -1.8M93.3 21.9l0.6 0.8M93.3 21.9M45.9 37.9l0.7 -0.2M45.9 37.9l-0.7 0.4M45.9 37.9M47.1 36.5l1.5 -1.2M47.1 36.5l0.1 1.3M47.1 36.5l-0.6 -1.6M47.1 36.5M20.1 -0.6l-0.8 0.5M20.1 -0.6l0.8 -1.6M20.1 -0.6M76.7 22.9l1.0 -0.9M76.7 22.9l-0.7 1.0M76.7 22.9M69.7 43.5l0.1 0.7M69.7 43.5l-1.5 -0.8M69.7 43.5l0.9 -1.1M69.7 43.5M64.7 10.6l-1.4 0.4M64.7 10.6M30.1 52.2l-0.9 0.0M30.1 52.2l1.7 -0.2M30.1 52.2M49.7 28.2l-1.1 -1.0M49.7 28.2l1.2 -0.6M49.7 28.2l-0.9 0.4M49.7 28.2M90.5 43.5l-0.3 1.8M90.5 43.5l-1.5 -0.4M90.5 43.5l1.2 -1.1M90.5 43.5M35.7 51.4l1.2 -1.5M35.7 51.4l-0.8 1.2M35.7 51.4" stroke="#5038a6" stroke-width="1.58"/><path d="M-1.8 0.9l0.9 -1.0M-1.8 0.9l1.0 0.8M-1.8 0.9l-1.3 0.6M-1.8 0.9M22.3 31.0l-1.4 0.3M22.3 31.0l1.1 -0.9M22.3 31.0M88.6 8.9l0.8 1.2M88.6 8.9M75.4 26.0l-1.1 0.9M75.4 26.0l1.6 -0.8M75.4 26.0M28.1 3.1l-0.5 1.8M28.1 3.1l-1.6 0.1M28.1 3.1l0.5 -0.7M28.1 3.1M89.4 7.0l-0.8 0.3M89.4 7.0M22.7 19.6l-0.4 1.0M22.7 19.6l-0.1 -0.6M22.7 19.6l0.5 0.3M22.7 19.6M92.0 0.1l0.9 -0.6M92.0 0.1l-0.7 1.4M92.0 0.1l-0.6 -1.2M92.0 0.1M83.8 39.4l-1.0 -0.5M83.8 39.4l0.9 -0.9M83.8 39.4l-0.4 1.2M83.8 39.4M23.3 30.8l0.8 0.2M23.3 30.8l-0.5 0.4M23.3 30.8M87.5 44.3l-1.9 -0.1M87.5 44.3l0.6 0.5M87.5 44.3M48.6 1.6l-0.8 -1.0M48.6 1.6l1.5 0.4M48.6 1.6M90.9 6.4l0.6 1.3M90.9 6.4l-1.0 -0.8M90.9 6.4l1.2 -0.6M90.9 6.4M49.4 32.1l0.2 -0.8M49.4 32.1l-0.8 0.4M49.4 32.1M15.8 24.5l-1.3 0.2M15.8 24.5l0.8 -1.0M15.8 24.5l1.4 1.0M15.8 24.5M32.5 46.8l0.9 0.6M32.5 46.8l-0.9 -1.3M32.5 46.8M69.6 35.0l1.3 -0.4M69.6 35.0l-1.1 0.6M69.6 35.0M-0.6 24.7l-1.0 -0.9M-0.6 24.7l1.8 0.5M-0.6 24.7M59.2 4.6l1.6 0.7M59.2 4.6l-0.8 -1.4M59.2 4.6M48.8 45.3l0.4 1.4M48.8 45.3l-0.6 -0.2M48.8 45.3l1.4 -0.1M48.8 45.3M36.5 27.2l0.6 0.9M36.5 27.2M69.0 31.2l0.4 -1.2M69.0 31.2l-0.4 1.8M69.0 31.2M93.1 1.2l0.1 -1.1M93.1 1.2M0.1 16.9l-0.6 0.4M0.1 16.9l0.6 -1.0M0.1 16.9M-1.6 52.9l0.8 -0.8M-1.6 52.9M81.1 39.5l-1.5 -0.3M81.1 39.5M36.1 13.8l0.3 -0.9M36.1 13.8l0.9 0.2M36.1 13.8l-1.0 0.3M36.1 13.8M4.4 4.9l-0.6 1.5M4.4 4.9l1.2 -1.2M4.4 4.9M70.4 26.4l-0.5 -1.8M70.4 26.4l0.6 1.6M70.4 26.4M51.3 45.7l0.9 0.6M51.3 45.7l-0.9 -0.4M51.3 45.7l0.5 -1.1M51.3 45.7M9.1 42.1l1.7 -0.4M9.1 42.1l-1.7 -0.4M9.1 42.1M67.7 8.8l1.2 -0.7M67.7 8.8M35.7 52.2l-0.7 0.1M35.7 52.2l1.1 -0.9M35.7 52.2l0.1 1.5M35.7 52.2M9.0 41.4l1.0 -1.6M9.0 41.4l-0.9 1.0M9.0 41.4M24.5 3.5l0.4 -1.9M24.5 3.5l0.4 1.0M24.5 3.5l-1.7 -0.5M24.5 3.5M13.0 30.2l-1.8 -0.2M13.0 30.2M64.2 39.9l-0.8 -0.7M64.2 39.9l1.7 0.9M64.2 39.9M73.2 37.9l-0.3 -1.4M73.2 37.9l1.2 1.4M73.2 37.9M47.8 3.6l-1.4 -0.6M47.8 3.6l1.4 -0.2M47.8 3.6M12.7 41.4l-1.4 0.2M12.7 41.4M53.8 34.5l-0.3 -1.2M53.8 34.5M15.5 47.6l0.2 -1.2M15.5 47.6l1.0 0.5M15.5 47.6l-0.6 0.3M15.5 47.6M92.1 20.6l-0.9 -0.5M92.1 20.6l0.7 -0.1M92.1 20.6M81.0 24.1l-1.0 -0.6M81.0 24.1l1.3 -0.3M81.0 24.1M28.4 4.9l-0.1 -1.3M28.4 4.9l-0.5 1.1M28.4 4.9M80.2 5.7l-1.6 -0.8M80.2 5.7l0.6 0.8M80.2 5.7M79.6 31.0l-0.7 -0.3M79.6 31.0l1.7 0.3M79.6 31.0M46.0 35.4l0.2 -1.3M46.0 35.4l-1.2 1.1M46.0 35.4M88.9 48.7l-1.4 1.2M88.9 48.7l-0.1 -1.0M88.9 48.7l1.5 0.8M88.9 48.7M11.3 25.8l0.7 -0.7M11.3 25.8M74.2 52.6l-0.5 0.4M74.2 52.6M69.7 43.2l-1.3 1.0M69.7 43.2M42.5 6.9l-1.1 -1.1M42.5 6.9l1.7 -0.9M42.5 6.9l-0.3 0.8M42.5 6.9M89.9 15.5l0.9 -0.4M89.9 15.5l-0.9 0.6M89.9 15.5l-0.8 -1.1M89.9 15.5M90.9 47.0l-0.6 0.3M90.9 47.0l1.3 -0.7M90.9 47.0M53.0 22.5l0.8 -0.5M53.0 22.5l-0.2 1.6M53.0 22.5l-0.7 -0.3M53.0 22.5M18.6 51.4l-1.1 -1.2M18.6 51.4l1.7 0.2M18.6 51.4l-0.8 1.6M18.6 51.4M85.3 34.3l0.5 1.9M85.3 34.3l0.3 -1.5M85.3 34.3M36.6 12.1l-0.8 0.0M36.6 12.1M21.4 6.9l-0.8 -0.4M21.4 6.9M51.6 43.8l1.5 -0.7M51.6 43.8l-1.7 -0.3M51.6 43.8M20.8 46.1l-1.2 -0.2M20.8 46.1l1.5 0.1M20.8 46.1M-1.7 -0.8l0.3 -0.7M-1.7 -0.8l-0.1 0.7M-1.7 -0.8M68.5 7.8l0.0 0.6M68.5 7.8l-1.2 0.6M68.5 7.8l1.5 -1.2M68.5 7.8M18.7 44.6l-1.1 -0.5M18.7 44.6l1.1 1.3M18.7 44.6M86.2 27.2l-0.3 0.7M86.2 27.2l1.2 -1.4M86.2 27.2M28.5 29.3l0.9 0.8M28.5 29.3l-0.9 -0.5M28.5 29.3M9.6 23.0l-0.8 -0.0M9.6 23.0l0.8 -0.6M9.6 23.0l0.5 1.6M9.6 23.0M74.7 30.7l-1.7 -0.1M74.7 30.7M47.7 42.8l-0.9 0.3M47.7 42.8l0.1 -1.4M47.7 42.8l0.4 0.8M47.7 42.8M63.2 3.0l0.3 -0.9M63.2 3.0l0.4 0.5M63.2 3.0l-0.7 1.1M63.2 3.0M67.4 13.8l-0.6 -0.3M67.4 13.8l1.6 -1.1M67.4 13.8l0.4 1.9M67.4 13.8M21.8 47.7l-1.5 0.5M21.8 47.7l1.3 -0.5M21.8 47.7M6.3 50.7l-0.5 0.9M6.3 50.7l-0.3 -0.6M6.3 50.7l1.1 0.3M6.3 50.7M0.8 43.4l-0.7 0.2M0.8 43.4l1.7 -0.8M0.8 43.4l1.1 0.8M0.8 43.4M8.1 50.2l0.6 0.7M8.1 50.2l-0.7 -1.0M8.1 50.2M1.4 9.2l0.1 1.0M1.4 9.2l0.5 -1.4M1.4 9.2M2.1 38.9l0.7 0.4M2.1 38.9l-0.2 1.2M2.1 38.9l-0.9 -0.7M2.1 38.9M33.9 44.8l0.5 -1.7M33.9 44.8M67.1 8.8l0.9 -0.1M67.1 8.8M79.6 4.1l-1.1 0.8M79.6 4.1l1.5 -0.7M79.6 4.1M82.5 27.8l-0.4 1.1M82.5 27.8l-0.4 -0.9M82.5 27.8M17.3 14.9l0.4 -1.3M17.3 14.9l-1.7 0.8M17.3 14.9M79.9 11.0l-1.1 -0.4M79.9 11.0l0.5 1.8M79.9 11.0M79.5 41.5l-1.5 0.5M79.5 41.5l1.3 -0.2M79.5 41.5M68.1 50.9l-0.8 -0.2M68.1 50.9M7.7 2.1l-0.0 1.7M7.7 2.1l0.7 -1.7M7.7 2.1M63.4 19.8l-1.5 -0.0M63.4 19.8l0.7 0.1M63.4 19.8M78.6 36.1l-0.8 -0.9M78.6 36.1M8.1 43.2l0.6 -1.1M8.1 43.2l-1.1 0.6M8.1 43.2M10.4 11.8l1.4 0.9M10.4 11.8M39.4 53.0l1.2 -0.2M39.4 53.0l-1.2 0.0M39.4 53.0M62.9 45.9l0.4 -1.1M62.9 45.9l0.3 0.5M62.9 45.9M42.4 12.9l1.0 -1.2M42.4 12.9l-0.0 1.7M42.4 12.9l-1.2 0.1M42.4 12.9M14.4 30.8l-1.0 0.4M14.4 30.8l0.9 -0.9M14.4 30.8M60.1 24.9l-1.9 0.5M60.1 24.9l0.8 -1.4M60.1 24.9M38.7 28.3l0.7 0.4M38.7 28.3l-0.9 -0.9M38.7 28.3M2.3 30.6l-0.4 0.9M2.3 30.6l-0.2 -0.8M2.3 30.6l0.9 0.3M2.3 30.6M70.4 43.9l-0.5 0.8M70.4 43.9l-0.3 -1.4M70.4 43.9l0.8 1.2M70.4 43.9M25.4 44.4l1.1 1.4M25.4 44.4l-1.5 0.1M25.4 44.4M52.0 28.8l1.6 0.9M52.0 28.8l-1.3 0.9M52.0 28.8l-0.2 -1.7M52.0 28.8M5.1 33.4l0.1 1.3M5.1 33.4l-0.5 -1.8M5.1 33.4M43.6 45.3l-0.2 1.4M43.6 45.3l0.5 -0.8M43.6 45.3M4.2 26.5l1.8 -0.1M4.2 26.5l-1.4 1.3M4.2 26.5l-0.9 -1.1M4.2 26.5M60.5 9.4l1.0 -0.2M60.5 9.4l-1.2 0.3M60.5 9.4M7.1 42.2l0.8 1.4M7.1 42.2l-0.3 -1.0M7.1 42.2M44.5 52.2l-1.6 -0.4M44.5 52.2l0.6 0.8M44.5 52.2M4.5 37.3l-0.8 -0.6M4.5 37.3l0.4 0.4M4.5 37.3M7.1 29.2l1.0 -0.0M7.1 29.2l0.2 0.6M7.1 29.2l-0.4 -1.7M7.1 29.2M76.5 47.6l1.0 0.9M76.5 47.6M85.3 25.8l0.7 -0.3M85.3 25.8M64.1 29.1l-1.3 -0.8M64.1 29.1M58.7 33.8l-0.1 1.9M58.7 33.8l-0.1 -1.4M58.7 33.8M68.2 44.2l0.5 0.3M68.2 44.2l-0.6 1.0M68.2 44.2l-0.8 -0.9M68.2 44.2M21.3 33.0l-1.4 0.9M21.3 33.0l-0.4 -1.0M21.3 33.0l0.8 -0.3M21.3 33.0M80.0 31.3l-0.3 -1.0M80.0 31.3l0.6 0.2M80.0 31.3l0.2 1.3M80.0 31.3M92.6 8.4l0.0 0.6M92.6 8.4l0.5 -0.9M92.6 8.4M37.2 0.1l0.4 -0.5M37.2 0.1l1.2 1.1M37.2 0.1l-1.3 -1.1M37.2 0.1M45.3 16.2l-0.6 -1.0M45.3 16.2l1.5 0.9M45.3 16.2M38.9 27.9l0.8 -0.4M38.9 27.9l0.3 1.5M38.9 27.9l-1.6 -1.1M38.9 27.9M82.0 34.6l-1.1 0.5M82.0 34.6M8.3 21.7l1.4 0.4M8.3 21.7l-1.5 1.3M8.3 21.7l-1.3 -1.3M8.3 21.7M48.9 0.9l-1.4 0.4M48.9 0.9l1.7 -0.5M48.9 0.9M33.2 28.8l1.1 1.4M33.2 28.8l-0.7 0.8M33.2 28.8l-0.1 -0.8M33.2 28.8M93.3 38.5l1.9 0.0M93.3 38.5M13.8 30.4l0.4 -1.8M13.8 30.4l-0.3 1.6M13.8 30.4M91.8 42.4l-0.1 -0.6M91.8 42.4l-0.5 0.8M91.8 42.4M14.9 29.5l0.1 1.5M14.9 29.5l-1.1 -1.3M14.9 29.5M86.6 33.3l-0.9 -0.2M86.6 33.3l0.7 0.1M86.6 33.3M75.8 -0.2l-1.3 1.1M75.8 -0.2l0.2 -0.8M75.8 -0.2" stroke="#7660c6" stroke-width="1.42"/><path d="M28.1 28.1l-1.3 -0.1M28.1 28.1l0.4 -0.9M28.1 28.1l-0.1 0.8M28.1 28.1M52.1 43.7l-0.8 -0.2M52.1 43.7l1.8 0.6M52.1 43.7l-0.7 1.7M52.1 43.7M41.6 38.5l1.1 -1.3M41.6 38.5l-0.5 0.5M41.6 38.5M85.9 14.9l0.5 -0.8M85.9 14.9M75.3 30.7l0.0 -0.7M75.3 30.7l0.1 1.0M75.3 30.7M89.6 49.3l-0.2 -0.9M89.6 49.3l0.1 0.7M89.6 49.3M87.9 35.0l-0.3 -0.5M87.9 35.0M11.3 24.5l-1.4 0.7M11.3 24.5l0.2 -1.6M11.3 24.5M64.5 15.8l1.7 0.1M64.5 15.8M13.8 53.0l-0.3 1.2M13.8 53.0l0.5 -0.3M13.8 53.0M53.0 8.7l0.0 0.8M53.0 8.7l-0.5 -1.7M53.0 8.7M59.4 8.7l1.0 -0.1M59.4 8.7M71.2 29.7l1.2 -0.1M71.2 29.7l-0.7 0.9M71.2 29.7M69.1 39.9l-1.0 0.3M69.1 39.9l1.7 -0.6M69.1 39.9M74.9 16.8l0.0 -1.2M74.9 16.8M46.5 25.0l0.6 1.5M46.5 25.0M27.1 -1.5l-1.1 -0.6M27.1 -1.5l0.6 0.6M27.1 -1.5M49.3 8.6l-0.5 0.9M49.3 8.6l1.3 -0.6M49.3 8.6M22.0 22.2l-0.6 0.5M22.0 22.2M93.3 40.4l-1.2 0.6M93.3 40.4l0.4 -0.7M93.3 40.4M54.6 20.2l1.1 -1.2M54.6 20.2l-0.7 0.7M54.6 20.2M17.4 3.6l1.9 -0.4M17.4 3.6l-1.0 -0.2M17.4 3.6M62.6 25.7l1.2 0.9M62.6 25.7l-1.6 -0.6M62.6 25.7M60.4 1.3l-1.2 0.2M60.4 1.3M90.8 2.8l1.2 -0.5M90.8 2.8l1.3 1.4M90.8 2.8l-1.1 -0.1M90.8 2.8M31.1 34.0l0.6 -0.3M31.1 34.0l-0.9 -0.1M31.1 34.0M87.6 36.4l-0.8 -1.1M87.6 36.4M19.2 7.9l-1.2 -1.0M19.2 7.9l0.8 -0.5M19.2 7.9l0.6 1.8M19.2 7.9M84.8 35.4l0.5 -1.3M84.8 35.4l1.1 0.2M84.8 35.4l-0.6 0.6M84.8 35.4M66.1 18.0l0.8 -1.2M66.1 18.0l0.2 1.1M66.1 18.0M59.8 26.3l-1.7 0.9M59.8 26.3l0.9 -0.1M59.8 26.3M41.9 36.8l-0.6 0.3M41.9 36.8l1.2 -0.5M41.9 36.8M84.5 45.0l1.5 -1.1M84.5 45.0M44.5 45.7l1.4 -0.1M44.5 45.7l0.4 1.2M44.5 45.7l-1.6 -0.6M44.5 45.7M3.1 49.8l-1.1 0.6M3.1 49.8l0.8 -1.5M3.1 49.8l0.3 0.8M3.1 49.8M7.9 36.9l-0.7 -0.9M7.9 36.9M64.6 26.5l0.8 0.5M64.6 26.5M36.0 4.3l0.2 -0.7M36.0 4.3l0.0 1.2M36.0 4.3l-0.8 -0.4M36.0 4.3M49.3 23.9l-1.4 1.2M49.3 23.9l0.4 -1.8M49.3 23.9M18.5 18.5l1.9 0.4M18.5 18.5M6.9 34.4l-0.2 0.8M6.9 34.4M2.9 5.9l1.2 -1.5M2.9 5.9M19.6 46.9l-1.6 0.3M19.6 46.9l0.8 0.4M19.6 46.9M34.1 1.5l-0.8 1.1M34.1 1.5l0.0 -1.4M34.1 1.5l0.6 0.5M34.1 1.5M-0.4 19.3l-0.8 0.7M-0.4 19.3l0.3 -1.2M-0.4 19.3l0.9 1.3M-0.4 19.3M81.9 24.3l-1.5 -0.7M81.9 24.3M94.0 52.5l-1.0 -1.6M94.0 52.5l1.5 0.0M94.0 52.5M22.1 43.2l-1.8 0.3M22.1 43.2M91.2 46.4l-1.2 -1.0M91.2 46.4l1.0 1.2M91.2 46.4M26.7 26.6l-0.6 -0.5M26.7 26.6M10.8 4.9l-0.3 -0.6M10.8 4.9M23.4 14.6l-0.9 0.8M23.4 14.6M63.9 25.9l-1.1 -0.9M63.9 25.9M61.7 24.1l0.7 -1.7M61.7 24.1l-1.1 0.9M61.7 24.1M21.6 23.5l0.3 -1.9M21.6 23.5l0.9 1.5M21.6 23.5l-1.4 -0.7M21.6 23.5M7.1 0.9l0.8 1.0M7.1 0.9l-0.4 -0.6M7.1 0.9M36.8 20.6l-0.3 0.9M36.8 20.6l0.5 -0.9M36.8 20.6M86.0 9.3l-1.4 0.4M86.0 9.3l0.9 -1.5M86.0 9.3M58.4 35.2l-1.5 -0.7M58.4 35.2l1.5 -0.7M58.4 35.2l0.6 0.8M58.4 35.2M71.7 6.3l1.1 -1.5M71.7 6.3l-0.2 1.8M71.7 6.3l-1.3 -0.6M71.7 6.3M81.6 9.0l1.1 -1.2M81.6 9.0l-0.8 0.7M81.6 9.0M28.8 35.0l1.2 0.6M28.8 35.0M37.1 48.5l-0.1 1.8M37.1 48.5l-0.8 0.0M37.1 48.5l0.2 -1.0M37.1 48.5M76.5 27.2l1.9 0.0M76.5 27.2l-1.3 0.5M76.5 27.2M82.5 17.7l1.7 0.1M82.5 17.7l0.1 0.7M82.5 17.7l-1.5 -0.3M82.5 17.7M83.4 28.8l0.5 1.7M83.4 28.8l-1.1 -1.3M83.4 28.8M26.7 16.2l-1.0 0.6M26.7 16.2M94.1 41.2l-1.4 -0.0M94.1 41.2l1.1 0.3M94.1 41.2M61.0 40.5l-1.0 -1.0M61.0 40.5l0.8 1.0M61.0 40.5M55.2 35.4l1.5 0.1M55.2 35.4l-0.8 -0.9M55.2 35.4M30.6 3.5l1.0 0.5M30.6 3.5l-1.9 0.2M30.6 3.5M18.3 40.8l1.5 -0.1M18.3 40.8l-1.0 -0.4M18.3 40.8M22.0 28.4l-1.0 -0.6M22.0 28.4l0.7 1.1M22.0 28.4M23.1 13.0l0.5 -0.7M23.1 13.0M83.0 13.2l-0.7 0.9M83.0 13.2M67.0 18.1l-0.1 0.9M67.0 18.1l-0.5 -1.0M67.0 18.1l0.5 -0.4M67.0 18.1M90.6 53.0l-1.3 -0.1M90.6 53.0l1.1 -0.1M90.6 53.0M18.5 25.1l-1.2 -0.1M18.5 25.1l1.4 0.7M18.5 25.1M23.4 8.4l0.6 1.7M23.4 8.4l-0.9 -0.1M23.4 8.4l-0.0 -1.6M23.4 8.4M31.4 28.9l-1.9 0.6M31.4 28.9l0.5 -0.6M31.4 28.9l0.5 0.5M31.4 28.9M0.6 51.3l1.6 -0.5M0.6 51.3l-0.6 0.5M0.6 51.3l0.0 -1.8M0.6 51.3M47.7 17.7l-1.1 -0.2M47.7 17.7l1.4 0.7M47.7 17.7M50.3 2.4l1.3 0.7M50.3 2.4l-1.5 -0.8M50.3 2.4M0.7 -1.8l-0.7 1.7M0.7 -1.8l-0.2 -1.2M0.7 -1.8M1.9 44.5l1.8 0.2M1.9 44.5l-0.6 0.8M1.9 44.5l-0.7 -0.9M1.9 44.5M47.1 24.6l0.3 0.6M47.1 24.6l-1.6 -0.1M47.1 24.6l0.8 -1.2M47.1 24.6M72.4 53.1l0.8 0.6M72.4 53.1M50.4 28.7l-0.1 0.9M50.4 28.7M78.6 25.0l0.9 0.2M78.6 25.0l-1.4 -0.2M78.6 25.0M66.2 44.1l0.5 -1.2M66.2 44.1l1.0 1.5M66.2 44.1l-1.4 0.3M66.2 44.1M72.9 42.8l0.8 -0.9M72.9 42.8M83.5 47.0l-0.0 0.9M83.5 47.0M54.1 9.7l1.4 -1.2M54.1 9.7l-1.5 0.1M54.1 9.7M85.0 36.2l-0.5 -1.0M85.0 36.2l0.4 0.8M85.0 36.2M84.1 13.2l-1.1 0.5M84.1 13.2l0.9 -0.9M84.1 13.2l0.5 1.8M84.1 13.2M61.7 15.7l1.3 -0.0M61.7 15.7l-0.5 1.7M61.7 15.7l-1.3 -0.6M61.7 15.7M67.4 18.6l-1.0 -1.5M67.4 18.6l0.3 0.6M67.4 18.6M50.0 28.9l-0.0 0.8M50.0 28.9l-1.4 0.3M50.0 28.9l0.4 -0.5M50.0 28.9M37.3 48.5l-1.1 0.8M37.3 48.5l-1.4 -1.3M37.3 48.5l0.7 -0.4M37.3 48.5M-1.1 2.6l-0.0 -0.9M-1.1 2.6M44.1 27.5l-0.6 0.7M44.1 27.5l1.0 -1.2M44.1 27.5M7.9 0.7l-1.6 -1.0M7.9 0.7M52.6 8.3l0.2 0.6M52.6 8.3l-0.6 -1.2M52.6 8.3M82.4 41.1l0.9 -0.4M82.4 41.1l-0.9 1.7M82.4 41.1l-1.5 -0.3M82.4 41.1M78.1 6.5l1.1 -0.5M78.1 6.5M16.7 0.6l0.3 -1.0M16.7 0.6l0.3 0.9M16.7 0.6l-0.7 0.0M16.7 0.6M94.1 51.5l1.4 -0.7M94.1 51.5l-0.5 0.4M94.1 51.5M48.9 45.8l-0.3 1.5M48.9 45.8l0.9 -0.8M48.9 45.8M11.5 7.8l-0.5 1.3M11.5 7.8l0.3 -1.5M11.5 7.8M57.8 36.2l-1.3 0.4M57.8 36.2l1.6 0.0M57.8 36.2M79.0 6.1l0.5 -1.4M79.0 6.1l1.1 1.2M79.0 6.1l-1.0 0.2M79.0 6.1M37.1 39.7l0.2 1.6M37.1 39.7l-1.5 -0.6M37.1 39.7l1.1 0.1M37.1 39.7M35.6 36.5l-1.6 0.5M35.6 36.5l0.6 -0.1M35.6 36.5M55.6 3.4l1.9 0.0M55.6 3.4M69.4 49.6l0.5 -0.5M69.4 49.6M13.1 10.3l0.6 -0.4M13.1 10.3l-0.8 0.4M13.1 10.3M14.3 6.3l-1.0 -0.4M14.3 6.3l1.4 1.0M14.3 6.3M40.8 53.3l-1.2 0.9M40.8 53.3M54.5 35.9l0.7 -0.7M54.5 35.9l-1.0 1.5M54.5 35.9l-0.6 -0.6M54.5 35.9" stroke="#443098" stroke-width="1.35"/></g></svg>
<svg x="148.00" y="1062.70" width="90.40" height="50.00" overflow="hidden"><rect width="90.40" height="50.00" fill="#aca79b"/><g filter="url(#cb)" stroke-linecap="round" stroke-linejoin="round" fill="none"><path d="M56.3 37.1h0M71.9 47.1h0M66.9 46.1h0M2.6 23.3h0M85.3 32.4h0M81.4 5.7h0M42.4 12.3h0M49.2 28.7h0M1.2 10.8h0M25.3 45.8h0M69.2 8.0h0M72.1 6.9h0M55.8 6.3h0M0.2 43.6h0M18.9 10.8h0M88.8 43.6h0M26.2 48.1h0M48.7 33.9h0M18.5 47.0h0M62.4 48.3h0M80.8 14.9h0M32.7 8.3h0M13.2 3.3h0M27.2 30.2h0M0.3 33.9h0M30.5 15.5h0M74.0 24.0h0M28.5 24.1h0M63.7 2.9h0M88.1 1.1h0M67.8 42.2h0M1.6 39.4h0M33.1 28.9h0M0.8 2.3h0M16.4 47.8h0M17.8 37.8h0M84.0 47.1h0M31.1 17.7h0M47.4 38.8h0M9.8 37.4h0M72.1 43.0h0M3.3 47.3h0M8.2 17.0h0M55.2 45.9h0M30.7 46.2h0M49.3 15.6h0M28.6 8.9h0M7.1 7.4h0M62.3 49.8h0M14.6 2.4h0M89.2 26.7h0M36.7 11.9h0M53.7 41.3h0M41.2 21.1h0M5.0 45.8h0M3.0 24.7h0M75.8 6.5h0M66.1 47.5h0M57.0 39.4h0M9.6 21.7h0M13.5 42.2h0M26.7 22.7h0M90.3 42.6h0M88.2 22.7h0M44.1 36.5h0M43.3 14.6h0M36.5 7.3h0M34.1 49.4h0M86.8 31.3h0M45.1 16.9h0M8.1 13.6h0M70.7 43.4h0M32.7 39.3h0M70.1 34.7h0M60.0 38.0h0M32.9 35.2h0M25.4 24.3h0M69.6 34.5h0M26.6 47.3h0M58.7 29.0h0M1.0 27.3h0M22.7 33.6h0M41.8 40.8h0M58.5 39.9h0M31.4 32.2h0M66.7 41.4h0M31.6 42.1h0M78.6 34.4h0M88.2 47.8h0M46.8 26.5h0M15.0 41.8h0M84.7 23.9h0M62.5 36.0h0M66.0 8.6h0M70.5 29.0h0M60.2 21.0h0M56.4 38.7h0M57.6 36.0h0M2.5 8.0h0M39.9 32.5h0M19.8 34.3h0M57.0 2.1h0M42.6 11.3h0M4.9 6.7h0M28.7 9.1h0M17.5 1.8h0M42.1 19.0h0M55.3 29.5h0M21.5 45.2h0M0.1 20.3h0M25.2 20.5h0M10.4 41.6h0M33.8 1.8h0M55.5 4.7h0M49.3 17.0h0M52.5 47.9h0M74.0 21.0h0M73.5 32.1h0M33.4 7.1h0M53.9 28.2h0M86.5 48.4h0M55.0 17.6h0M80.8 0.0h0M9.8 28.3h0M55.6 7.0h0M56.9 44.6h0M34.0 21.6h0M20.5 14.6h0M87.9 19.0h0M86.9 45.7h0M53.9 13.0h0M88.7 24.8h0M37.6 16.0h0M89.0 24.6h0M25.9 23.8h0M11.0 31.1h0M40.1 14.7h0M70.7 41.3h0M1.2 26.6h0M24.8 46.8h0M70.7 12.3h0M24.2 7.7h0M89.4 14.7h0M55.0 23.7h0M58.3 30.2h0M67.2 5.9h0M68.7 15.0h0M48.2 16.8h0M26.8 26.5h0M42.0 18.1h0M67.3 29.5h0M3.3 12.6h0M41.2 45.8h0M80.3 27.3h0M1.3 38.9h0M38.7 28.8h0M64.0 31.6h0M43.6 45.6h0M34.8 19.6h0M77.0 9.8h0M26.8 41.5h0M6.0 41.8h0M62.8 21.6h0M25.9 39.0h0M82.3 7.1h0M43.2 27.5h0M45.0 16.5h0M13.9 29.3h0M73.4 3.4h0M20.8 41.0h0" stroke="#35302a" stroke-width="1.1"/><path d="M72.7 33.8l1.1 -2.3M72.7 33.8l1.3 1.6M72.7 33.8M77.5 9.8l2.1 -0.2M77.5 9.8l-1.0 0.5M77.5 9.8M24.4 28.8l0.7 -0.8M24.4 28.8l0.2 1.4M24.4 28.8l-1.2 -1.2M24.4 28.8M2.8 19.5l0.3 1.5M2.8 19.5M4.0 39.2l1.0 2.3M4.0 39.2M39.2 11.9l-1.0 0.2M39.2 11.9l1.4 -0.3M39.2 11.9M56.5 6.8l-1.0 -0.5M56.5 6.8l1.2 1.1M56.5 6.8M89.5 30.2l-0.2 -1.5M89.5 30.2l0.4 2.5M89.5 30.2M32.6 41.7l-1.0 0.2M32.6 41.7l-1.0 -1.3M32.6 41.7l1.1 -0.1M32.6 41.7M40.5 40.5l0.6 -1.3M40.5 40.5l-0.7 1.9M40.5 40.5M24.8 2.2l-0.8 -2.2M24.8 2.2l0.5 1.5M24.8 2.2M29.7 17.9l0.6 -2.2M29.7 17.9l1.2 1.7M29.7 17.9l-2.3 1.1M29.7 17.9M89.1 3.6l0.9 1.0M89.1 3.6M82.1 51.3l-1.3 1.2M82.1 51.3l0.9 -0.5M82.1 51.3M20.5 34.0l-0.1 1.0M20.5 34.0l0.5 -2.5M20.5 34.0M34.5 48.4l-0.2 2.3M34.5 48.4l-1.1 -1.9M34.5 48.4l0.8 -0.1M34.5 48.4M41.3 18.7l1.1 0.2M41.3 18.7M58.9 32.3l2.2 0.1M58.9 32.3l-2.0 -1.2M58.9 32.3M89.1 5.6l-0.1 -1.0M89.1 5.6M17.6 22.5l2.0 1.3M17.6 22.5M23.0 32.0l-0.8 -0.6M23.0 32.0M29.6 39.4l1.0 -2.1M29.6 39.4l0.7 1.1M29.6 39.4l-2.6 -0.1M29.6 39.4M4.2 1.7l0.6 -2.3M4.2 1.7M60.7 18.6l-1.1 1.2M60.7 18.6l0.6 -0.6M60.7 18.6M33.2 10.3l1.8 -1.2M33.2 10.3l-0.4 1.0M33.2 10.3l-1.5 -1.4M33.2 10.3M40.0 35.1l-0.8 -0.1M40.0 35.1l1.6 -0.3M40.0 35.1M35.3 -0.2l1.2 2.1M35.3 -0.2l-1.7 -1.4M35.3 -0.2M77.2 12.4l1.8 -1.3M77.2 12.4l-1.9 0.6M77.2 12.4M76.2 46.5l0.7 0.3M76.2 46.5l-1.8 -0.4M76.2 46.5l1.2 -1.2M76.2 46.5M14.4 16.9l-0.5 -2.1M14.4 16.9l1.0 2.2M14.4 16.9M80.2 34.8l-2.2 1.0M80.2 34.8M76.5 29.9l-0.1 1.0M76.5 29.9l-2.4 -0.7M76.5 29.9l1.2 -0.8M76.5 29.9M62.4 22.9l-0.9 1.8M62.4 22.9l-2.1 -1.1M62.4 22.9l1.2 -0.3M62.4 22.9M66.0 24.5l-0.9 0.8M66.0 24.5l2.1 0.3M66.0 24.5M87.1 9.8l-1.6 1.3M87.1 9.8l1.0 0.2M87.1 9.8M42.0 27.4l-1.3 -2.1M42.0 27.4l0.8 -0.1M42.0 27.4M16.4 3.5l1.3 1.2M16.4 3.5l-2.1 0.4M16.4 3.5l0.8 -2.2M16.4 3.5M58.4 14.8l1.2 -0.2M58.4 14.8l-2.4 -0.1M58.4 14.8M91.3 19.5l-2.0 0.3M91.3 19.5l2.0 -0.3M91.3 19.5M84.2 49.1l1.2 -1.1M84.2 49.1l-0.9 1.5M84.2 49.1M48.2 32.0l-2.0 -1.3M48.2 32.0l1.1 0.8M48.2 32.0M91.3 36.7l1.4 -0.0M91.3 36.7" stroke="#6248b8" stroke-width="2.00"/><path d="M73.7 1.6l-1.6 -1.2M73.7 1.6M18.8 1.4l1.2 -0.6M18.8 1.4l-1.8 1.3M18.8 1.4M40.8 19.0l-0.4 -0.9M40.8 19.0M49.2 18.8l-0.9 -0.8M49.2 18.8l2.4 0.7M49.2 18.8l-0.4 2.2M49.2 18.8M57.0 17.1l-0.6 1.8M57.0 17.1l0.1 -1.5M57.0 17.1M7.2 -0.2l2.3 0.5M7.2 -0.2l-2.0 0.7M7.2 -0.2M34.4 45.5l1.2 1.9M34.4 45.5l-2.0 -0.3M34.4 45.5M71.2 7.5l-0.1 -1.6M71.2 7.5M2.8 0.0l-1.3 -1.5M2.8 0.0l-0.2 1.2M2.8 0.0M72.7 2.7l0.1 -1.2M72.7 2.7M6.0 21.1l2.0 -0.3M6.0 21.1l-1.2 -0.1M6.0 21.1M10.4 -0.5l-0.8 -1.9M10.4 -0.5M74.7 18.6l1.1 0.1M74.7 18.6l-2.0 -0.3M74.7 18.6M65.8 46.6l-1.6 0.2M65.8 46.6l0.8 -0.5M65.8 46.6M63.0 3.6l1.9 0.5M63.0 3.6l-1.1 1.4M63.0 3.6l-0.3 -1.8M63.0 3.6M-0.6 48.2l0.7 0.7M-0.6 48.2M26.4 17.0l-2.4 0.5M26.4 17.0l1.6 -2.0M26.4 17.0l1.3 0.8M26.4 17.0M34.8 7.6l-0.9 0.5M34.8 7.6l1.6 -0.8M34.8 7.6M33.3 45.9l-0.6 1.1M33.3 45.9l-0.1 -2.4M33.3 45.9M57.7 39.4l-1.6 -1.1M57.7 39.4M49.5 20.0l-1.7 0.8M49.5 20.0l-0.1 -1.5M49.5 20.0l1.8 1.6M49.5 20.0M5.2 49.4l-1.3 1.9M5.2 49.4M43.2 17.1l-1.0 0.9M43.2 17.1l1.9 -0.8M43.2 17.1M84.4 18.4l1.5 1.6M84.4 18.4l-0.1 -2.5M84.4 18.4M64.6 -1.6l0.9 1.9M64.6 -1.6l-1.0 -0.9M64.6 -1.6l1.1 -0.5M64.6 -1.6M48.1 21.9l-0.3 -2.1M48.1 21.9M80.2 13.4l-0.4 -1.7M80.2 13.4M7.8 20.5l1.8 -0.2M7.8 20.5l-0.6 0.8M7.8 20.5l0.4 -2.4M7.8 20.5M42.0 3.5l-0.6 -0.8M42.0 3.5M90.6 5.2l-1.1 2.0M90.6 5.2l-0.1 -1.0M90.6 5.2M55.1 5.2l-1.5 -1.4M55.1 5.2l2.5 -0.7M55.1 5.2l-0.2 1.1M55.1 5.2M40.1 31.5l1.7 0.7M40.1 31.5l-0.9 1.1M40.1 31.5l-0.7 -2.0M40.1 31.5M25.8 18.0l-0.7 -2.1M25.8 18.0l0.1 0.8M25.8 18.0M7.6 20.6l0.8 -0.9M7.6 20.6l-0.9 -0.0M7.6 20.6M33.2 29.4l-1.7 0.9M33.2 29.4M56.0 36.7l-0.9 -1.3M56.0 36.7M89.4 35.6l-2.4 0.4M89.4 35.6M34.2 8.1l1.1 -0.1M34.2 8.1l0.1 1.3M34.2 8.1l-0.9 -0.7M34.2 8.1M75.5 50.4l-1.5 -1.4M75.5 50.4l1.2 1.9M75.5 50.4M8.2 -1.5l0.8 0.5M8.2 -1.5l-2.3 0.6M8.2 -1.5M40.4 12.3l-1.1 0.3M40.4 12.3l-0.1 -0.8M40.4 12.3l1.3 -0.3M40.4 12.3M30.0 31.0l1.7 0.0M30.0 31.0M47.7 0.5l0.2 -1.2M47.7 0.5l0.2 0.8M47.7 0.5M85.3 15.3l1.7 -1.1M85.3 15.3l-1.4 2.1M85.3 15.3l-1.0 -1.0M85.3 15.3M17.4 33.9l0.8 -0.7M17.4 33.9l-0.7 0.8M17.4 33.9M56.2 31.2l-0.0 -2.1M56.2 31.2l1.1 0.5M56.2 31.2l-0.5 1.9M56.2 31.2M91.6 15.5l1.7 1.4M91.6 15.5l-1.1 -1.4M91.6 15.5M30.1 10.1l-2.0 -1.2M30.1 10.1l1.1 -0.8M30.1 10.1l1.6 0.9M30.1 10.1M44.8 47.7l-1.0 0.7M44.8 47.7l1.3 -0.3M44.8 47.7M20.4 13.5l-1.0 -2.4M20.4 13.5l0.4 1.8M20.4 13.5M83.8 47.0l1.7 -0.6M83.8 47.0l-0.9 0.2M83.8 47.0M45.9 19.0l-1.4 0.4M45.9 19.0l0.2 -0.8M45.9 19.0l1.3 0.9M45.9 19.0M61.7 16.2l0.8 -1.0M61.7 16.2l-1.1 1.3M61.7 16.2" stroke="#5038a6" stroke-width="2.10"/><path d="M33.3 1.0l-2.0 -0.4M33.3 1.0l2.2 1.2M33.3 1.0M82.6 16.6l2.0 -0.4M82.6 16.6l-1.6 -0.2M82.6 16.6M9.1 34.1l-1.6 -1.3M9.1 34.1l1.0 -0.6M9.1 34.1l-0.1 1.2M9.1 34.1M35.9 50.6l1.2 0.9M35.9 50.6l-1.1 -2.3M35.9 50.6M19.1 4.2l1.3 1.8M19.1 4.2l-0.8 1.1M19.1 4.2l-0.3 -0.9M19.1 4.2M73.0 4.4l1.3 -0.9M73.0 4.4l-0.5 1.5M73.0 4.4l-2.1 -1.3M73.0 4.4M52.5 24.0l-1.1 -0.2M52.5 24.0l0.4 -1.3M52.5 24.0l0.9 2.0M52.5 24.0M37.8 6.1l-0.9 1.1M37.8 6.1l1.8 -1.3M37.8 6.1M52.3 14.0l-0.9 -0.0M52.3 14.0M-0.8 26.0l-0.9 0.1M-0.8 26.0l1.0 -1.9M-0.8 26.0l-0.0 1.9M-0.8 26.0M18.5 20.8l-1.3 -0.0M18.5 20.8l0.9 -0.6M18.5 20.8M-0.3 42.7l0.3 1.2M-0.3 42.7l-1.8 1.7M-0.3 42.7l0.3 -1.1M-0.3 42.7M23.2 38.7l0.2 -1.1M23.2 38.7l-1.0 2.4M23.2 38.7M81.5 39.9l-1.9 -0.4M81.5 39.9l0.4 -1.4M81.5 39.9l0.6 2.0M81.5 39.9M87.6 51.4l-1.5 -1.4M87.6 51.4l0.9 0.2M87.6 51.4M56.5 3.3l0.3 -1.0M56.5 3.3l-0.9 1.4M56.5 3.3M57.4 11.3l2.1 -0.9M57.4 11.3l-0.8 1.6M57.4 11.3l-1.4 -0.1M57.4 11.3M2.0 36.7l1.7 -1.1M2.0 36.7M34.0 33.4l0.8 -0.9M34.0 33.4l-1.0 1.1M34.0 33.4M13.9 27.8l0.0 1.0M13.9 27.8l1.0 -1.1M13.9 27.8M27.5 44.1l0.7 -1.7M27.5 44.1l1.3 2.1M27.5 44.1l-1.4 -0.2M27.5 44.1M23.0 42.4l0.9 -1.6M23.0 42.4M5.7 31.8l-0.5 -0.7M5.7 31.8l1.1 -0.3M5.7 31.8l-0.9 1.8M5.7 31.8M57.0 4.0l1.3 -0.5M57.0 4.0l-0.8 0.6M57.0 4.0M16.1 51.2l0.4 0.8M16.1 51.2M92.0 38.0l0.3 1.1M92.0 38.0l-0.3 -0.9M92.0 38.0M18.3 43.4l0.4 0.7M18.3 43.4l-0.9 0.8M18.3 43.4l0.1 -1.3M18.3 43.4M13.6 6.6l-0.5 1.6M13.6 6.6l-1.9 -0.5M13.6 6.6l1.5 -0.4M13.6 6.6M91.4 9.0l1.2 0.0M91.4 9.0l-1.2 1.0M91.4 9.0M85.8 10.0l2.4 0.4M85.8 10.0l-0.8 0.0M85.8 10.0M47.1 22.5l1.7 0.2M47.1 22.5l-1.6 2.0M47.1 22.5l0.5 -1.8M47.1 22.5M23.1 31.2l1.7 1.7M23.1 31.2l-0.5 1.9M23.1 31.2l0.3 -1.5M23.1 31.2" stroke="#7660c6" stroke-width="1.90"/><path d="M6.6 4.7l-1.6 0.2M6.6 4.7l0.8 -0.6M6.6 4.7M76.5 33.0l-1.8 -0.4M76.5 33.0l2.1 -0.0M76.5 33.0M42.4 46.0l-0.8 0.6M42.4 46.0l1.0 -0.4M42.4 46.0M-1.4 1.3l1.2 1.4M-1.4 1.3l-1.7 -0.2M-1.4 1.3M6.9 1.8l0.7 -0.6M6.9 1.8M48.9 24.3l-0.9 -2.3M48.9 24.3l-0.4 1.6M48.9 24.3M33.3 3.3l-0.5 2.1M33.3 3.3l1.3 -0.3M33.3 3.3M85.5 10.4l1.8 -0.9M85.5 10.4M33.3 34.9l1.8 -1.7M33.3 34.9l-1.1 1.8M33.3 34.9l-1.3 -0.5M33.3 34.9M41.2 2.0l1.3 -2.0M41.2 2.0M6.5 4.0l-0.9 2.2M6.5 4.0l1.1 -1.1M6.5 4.0M30.2 42.0l0.4 -1.2M30.2 42.0l0.4 1.9M30.2 42.0M41.0 35.5l1.5 0.1M41.0 35.5M36.2 14.5l-0.2 2.4M36.2 14.5l0.6 -1.9M36.2 14.5M38.1 31.6l1.6 1.8M38.1 31.6l0.3 -1.7M38.1 31.6M30.5 -1.1l-1.0 -1.4M30.5 -1.1l1.2 0.1M30.5 -1.1M86.6 23.2l0.2 2.1M86.6 23.2l0.8 -1.4M86.6 23.2M70.1 16.2l1.4 -1.1M70.1 16.2l1.3 1.3M70.1 16.2l-1.3 -0.4M70.1 16.2M72.5 -1.2l-1.6 -0.3M72.5 -1.2M15.9 7.3l-1.3 1.1M15.9 7.3l1.4 -1.7M15.9 7.3l0.5 1.9M15.9 7.3M81.3 36.5l0.1 1.8M81.3 36.5l-1.8 -1.6M81.3 36.5M15.2 27.4l-0.2 -2.1M15.2 27.4M40.6 47.6l-1.8 0.2M40.6 47.6l0.6 -0.5M40.6 47.6M8.3 25.8l1.9 0.6M8.3 25.8l-0.9 -0.3M8.3 25.8M26.7 20.9l1.7 0.5M26.7 20.9M60.0 31.2l0.8 0.5M60.0 31.2l-0.9 -0.1M60.0 31.2l1.1 -1.1M60.0 31.2M78.6 43.5l1.0 1.3M78.6 43.5M12.7 47.2l-0.5 0.7M12.7 47.2M60.2 11.2l1.4 -1.7M60.2 11.2M56.1 43.3l1.6 -1.1M56.1 43.3l-0.4 0.9M56.1 43.3M22.3 23.9l-2.4 0.0M22.3 23.9l1.1 -2.2M22.3 23.9M69.2 10.2l-1.9 -0.9M69.2 10.2l1.5 -0.6M69.2 10.2l0.5 1.5M69.2 10.2M79.2 5.9l2.2 0.3M79.2 5.9l-0.9 0.3M79.2 5.9" stroke="#443098" stroke-width="1.80"/></g></svg>
<svg x="241.00" y="1062.70" width="91.70" height="50.00" overflow="hidden"><rect width="91.70" height="50.00" fill="#aaa599"/><g filter="url(#cb)" stroke-linecap="round" stroke-linejoin="round" fill="none"><path d="M72.7 41.1h0M44.5 13.1h0M0.0 33.1h0M43.1 38.0h0M34.2 38.5h0M25.0 40.1h0M66.9 20.7h0M49.4 34.1h0M17.7 27.7h0M73.8 13.3h0M73.7 34.3h0M77.4 16.8h0M8.5 40.0h0M73.8 22.3h0M8.6 9.9h0M58.2 14.6h0M87.2 29.4h0M18.4 32.8h0M33.0 46.6h0M83.4 25.7h0M59.1 34.9h0M73.9 48.8h0M2.6 18.1h0M55.2 15.2h0M54.0 4.5h0M80.7 26.3h0M10.7 33.1h0M28.6 9.8h0M44.4 6.9h0M19.2 43.3h0M64.0 0.6h0M71.3 0.9h0M30.5 45.2h0M56.9 15.3h0M34.6 19.5h0M11.6 50.0h0M4.9 21.1h0M68.4 19.9h0M90.0 12.3h0M89.8 44.6h0M61.5 44.5h0M41.0 41.6h0M73.0 25.8h0M43.2 35.3h0M37.5 4.3h0M68.5 13.3h0M44.7 39.2h0M15.8 1.1h0M11.3 29.5h0M33.1 12.8h0M41.4 46.4h0M23.4 20.5h0M80.6 30.6h0M24.6 23.7h0M43.9 7.1h0M34.6 15.3h0M73.8 16.2h0M60.5 48.5h0M84.6 18.8h0M55.3 16.0h0M36.5 24.4h0M72.8 46.8h0M26.7 0.3h0M41.2 2.9h0M2.8 38.7h0M10.3 35.9h0M33.2 46.9h0M78.3 3.1h0M17.7 47.4h0M56.3 21.1h0M71.7 40.7h0M45.1 23.4h0M9.2 18.1h0M13.3 31.3h0M55.6 7.2h0M57.6 4.9h0M9.7 32.3h0M42.4 45.0h0M57.7 35.1h0M11.6 41.6h0M7.7 30.9h0M83.6 45.4h0M81.9 22.6h0M63.6 39.6h0M12.6 47.2h0M83.3 22.0h0M71.4 22.4h0M25.3 35.6h0M5.8 40.0h0M89.7 14.3h0M86.2 4.2h0M78.7 14.0h0M88.6 21.5h0M84.6 1.6h0M7.9 40.8h0M58.6 26.8h0M3.0 8.7h0M34.0 2.6h0M91.1 38.3h0M87.1 35.0h0M31.5 3.9h0M67.1 5.7h0M50.2 23.2h0M45.3 3.8h0M6.8 26.0h0M2.8 26.3h0M13.8 14.1h0M13.8 28.4h0M35.6 11.2h0M20.3 28.2h0M83.5 21.0h0M15.0 15.8h0M22.0 28.6h0M72.1 28.4h0M17.3 16.3h0M34.9 22.0h0M36.5 49.9h0M50.5 33.1h0M65.7 32.3h0M73.8 18.6h0" stroke="#35302a" stroke-width="1.1"/><path d="M14.1 33.7l-0.1 -0.9M14.1 33.7M59.7 13.0l-1.3 -1.2M59.7 13.0l1.8 1.2M59.7 13.0M29.7 25.9l-0.8 0.3M29.7 25.9l0.7 -0.2M29.7 25.9M88.7 21.5l0.7 0.2M88.7 21.5l-0.2 -0.7M88.7 21.5M14.9 3.9l1.2 1.0M14.9 3.9l-1.4 -1.4M14.9 3.9M85.4 6.0l1.6 -1.3M85.4 6.0l0.2 1.8M85.4 6.0l-0.8 -0.7M85.4 6.0M90.5 12.1l-0.7 -1.5M90.5 12.1M76.5 25.4l1.4 -0.9M76.5 25.4M70.0 1.3l1.2 -0.7M70.0 1.3l-0.7 0.8M70.0 1.3l-0.5 -1.2M70.0 1.3M46.2 42.1l-0.4 -0.6M46.2 42.1M36.6 36.0l-0.7 1.3M36.6 36.0M83.5 11.0l0.0 -1.5M83.5 11.0M19.0 13.9l-0.3 2.1M19.0 13.9M69.6 47.6l-0.6 1.3M69.6 47.6l1.1 -1.7M69.6 47.6M54.4 23.5l0.8 -0.5M54.4 23.5l0.4 1.7M54.4 23.5l-1.1 -0.3M54.4 23.5M93.7 -1.4l-1.7 -0.1M93.7 -1.4M72.8 17.5l-0.9 0.1M72.8 17.5l0.6 -1.1M72.8 17.5M74.9 -1.6l-0.8 0.2M74.9 -1.6M69.1 46.8l0.6 2.1M69.1 46.8l-0.2 -2.1M69.1 46.8M59.1 -0.7l0.7 1.4M59.1 -0.7M42.7 7.4l1.4 0.5M42.7 7.4l-0.7 -0.0M42.7 7.4M27.2 50.3l-0.5 1.1M27.2 50.3l0.4 -1.0M27.2 50.3l2.1 0.2M27.2 50.3M9.5 30.8l-0.0 2.2M9.5 30.8l1.0 -0.9M9.5 30.8M21.6 45.0l-0.5 -1.2M21.6 45.0l1.4 0.1M21.6 45.0l-0.2 2.1M21.6 45.0M92.6 50.7l-0.7 0.1M92.6 50.7l1.5 0.7M92.6 50.7M58.5 23.1l-0.0 1.5M58.5 23.1l-0.3 -1.5M58.5 23.1M86.5 0.2l0.8 -1.8M86.5 0.2l-0.2 1.3M86.5 0.2M29.0 40.1l-0.8 -1.3M29.0 40.1M72.9 40.8l-0.0 0.7M72.9 40.8l-0.3 -0.8M72.9 40.8M74.9 18.1l1.2 -1.1M74.9 18.1l0.0 1.9M74.9 18.1M37.8 12.1l1.5 0.8M37.8 12.1l-1.2 -0.1M37.8 12.1M13.0 0.8l-2.0 0.7M13.0 0.8l1.3 0.5M13.0 0.8M29.8 26.2l-0.3 0.7M29.8 26.2l-0.5 -1.1M29.8 26.2M80.0 46.9l1.2 0.1M80.0 46.9l-1.3 -0.6M80.0 46.9M4.5 46.0l1.2 -1.4M4.5 46.0l0.2 0.7M4.5 46.0l-0.8 -0.3M4.5 46.0M48.0 4.5l0.4 -1.6M48.0 4.5M79.7 8.7l-2.1 0.7M79.7 8.7l0.9 -0.2M79.7 8.7M6.5 31.1l0.7 -0.8M6.5 31.1l0.5 1.4M6.5 31.1l-1.0 -0.0M6.5 31.1M57.6 11.7l-1.0 0.6M57.6 11.7l0.7 -0.6M57.6 11.7M45.0 27.8l-1.3 -1.7M45.0 27.8M83.3 24.0l-0.4 -1.0M83.3 24.0l0.4 1.0M83.3 24.0M38.0 37.3l-0.9 1.1M38.0 37.3l-0.8 -0.8M38.0 37.3l1.7 0.5M38.0 37.3M10.4 12.1l-0.7 -0.1M10.4 12.1l0.1 -1.0M10.4 12.1l0.5 1.2M10.4 12.1M24.9 51.8l-1.0 -0.3M24.9 51.8l1.6 1.3M24.9 51.8M49.6 45.5l0.3 -1.0M49.6 45.5l-0.1 0.9M49.6 45.5M27.4 34.9l-1.1 -0.6M27.4 34.9l1.0 -0.9M27.4 34.9l0.5 1.4M27.4 34.9M59.9 22.5l2.1 0.7M59.9 22.5l-1.5 -0.4M59.9 22.5M41.1 36.5l1.0 -0.9M41.1 36.5M16.3 23.1l0.7 0.3M16.3 23.1l-0.8 -0.0M16.3 23.1M7.4 7.1l-0.8 -0.6M7.4 7.1M57.6 18.8l-1.3 -0.1M57.6 18.8l1.5 0.9M57.6 18.8M88.4 51.7l1.3 0.2M88.4 51.7M65.0 1.8l1.7 0.8M65.0 1.8l-1.7 -0.8M65.0 1.8M90.7 14.0l-0.8 -0.5M90.7 14.0M93.1 16.3l-1.1 0.4M93.1 16.3M49.7 32.3l-0.8 0.0M49.7 32.3l1.9 -0.2M49.7 32.3M50.5 47.4l-0.8 0.1M50.5 47.4l0.3 -0.9M50.5 47.4l1.3 1.4M50.5 47.4M89.5 43.3l-0.9 -0.3M89.5 43.3l1.5 1.3M89.5 43.3M41.8 14.4l0.1 -1.1M41.8 14.4l0.3 1.5M41.8 14.4M83.2 41.8l-0.8 -0.1M83.2 41.8l0.9 0.1M83.2 41.8M7.2 40.6l-0.4 0.8M7.2 40.6l0.2 -1.7M7.2 40.6M81.3 12.2l0.7 1.2M81.3 12.2l-1.4 -0.9M81.3 12.2l0.6 -0.8M81.3 12.2M67.4 37.9l1.2 -0.5M67.4 37.9M20.5 15.4l-0.3 2.0M20.5 15.4l-1.5 -0.7M20.5 15.4l0.8 -1.8M20.5 15.4M46.1 45.8l1.2 1.1M46.1 45.8l-1.3 0.8M46.1 45.8l0.6 -2.1M46.1 45.8M36.3 19.4l1.2 -0.1M36.3 19.4l-0.1 1.6M36.3 19.4l-1.9 -0.9M36.3 19.4M9.1 25.3l1.3 1.7M9.1 25.3l-1.1 0.0M9.1 25.3l0.6 -1.6M9.1 25.3M34.6 46.3l0.3 -2.0M34.6 46.3l-0.9 0.6M34.6 46.3M69.9 45.5l-0.9 0.6M69.9 45.5M15.5 17.3l-1.7 -0.4M15.5 17.3l1.6 0.1M15.5 17.3M90.9 45.2l1.0 0.6M90.9 45.2l-1.2 0.9M90.9 45.2l-0.1 -1.9M90.9 45.2M65.1 50.5l0.2 -1.7M65.1 50.5l1.0 0.8M65.1 50.5l-0.8 0.3M65.1 50.5M70.9 47.3l1.6 0.8M70.9 47.3l-0.6 -0.7M70.9 47.3M29.1 48.3l-1.3 1.4M29.1 48.3M31.3 48.3l0.7 -0.1M31.3 48.3l-0.8 -0.6M31.3 48.3M32.6 3.3l1.0 0.1M32.6 3.3M44.3 0.1l0.5 -2.1M44.3 0.1M37.2 7.4l1.6 0.1M37.2 7.4l-1.9 0.3M37.2 7.4l-0.1 -0.9M37.2 7.4M88.4 3.4l-1.0 -1.0M88.4 3.4l0.0 1.0M88.4 3.4M24.6 27.0l0.9 0.0M24.6 27.0l-1.1 -0.5M24.6 27.0M32.6 46.1l1.3 1.7M32.6 46.1l-0.9 0.2M32.6 46.1l0.8 -1.6M32.6 46.1M35.9 -1.9l1.4 -1.0M35.9 -1.9l0.2 1.9M35.9 -1.9l-2.0 -0.2M35.9 -1.9M84.0 45.2l-1.0 0.4M84.0 45.2l1.3 -1.6M84.0 45.2l0.6 1.5M84.0 45.2M76.2 7.9l-0.2 1.6M76.2 7.9l1.1 -1.2M76.2 7.9M59.6 27.6l1.3 -1.4M59.6 27.6M57.6 5.0l0.8 1.9M57.6 5.0l-1.2 -1.5M57.6 5.0l2.0 -0.4M57.6 5.0M51.1 45.2l2.1 0.2M51.1 45.2l-1.2 0.5M51.1 45.2M14.0 31.3l0.5 1.0M14.0 31.3l-0.3 -1.0M14.0 31.3M2.9 43.8l-2.0 -0.7M2.9 43.8M12.7 23.3l0.9 -0.3M12.7 23.3l-0.6 0.5M12.7 23.3M83.4 35.1l-0.8 0.4M83.4 35.1l0.8 0.0M83.4 35.1M73.5 8.2l0.7 0.2M73.5 8.2l-1.3 -0.9M73.5 8.2M6.7 3.0l-1.0 0.3M6.7 3.0l-0.5 -1.5M6.7 3.0l1.0 0.9M6.7 3.0M87.1 40.4l1.3 1.7M87.1 40.4M19.2 44.3l-0.8 -1.7M19.2 44.3l1.6 -1.0M19.2 44.3l-0.1 0.7M19.2 44.3M59.8 24.7l0.5 0.7M59.8 24.7l-1.1 -1.5M59.8 24.7M50.7 5.4l0.4 -0.8M50.7 5.4M60.8 38.0l-1.2 0.4M60.8 38.0l1.0 0.2M60.8 38.0M31.4 6.5l0.0 -2.0M31.4 6.5l0.8 1.0M31.4 6.5l-1.2 1.0M31.4 6.5M3.1 2.7l-0.1 1.0M3.1 2.7l-0.1 -0.8M3.1 2.7M50.1 13.5l-1.0 0.3M50.1 13.5l0.4 -1.6M50.1 13.5l0.5 0.8M50.1 13.5M33.8 13.1l0.4 0.9M33.8 13.1l-0.9 -1.1M33.8 13.1M13.3 9.2l0.8 0.5M13.3 9.2l-1.8 -0.5M13.3 9.2M37.1 43.3l-0.1 -1.2M37.1 43.3l-0.1 1.0M37.1 43.3M68.9 49.0l-0.7 -0.6M68.9 49.0l0.3 1.1M68.9 49.0M78.9 37.0l0.7 0.2M78.9 37.0l-0.8 0.1M78.9 37.0" stroke="#6248b8" stroke-width="1.70"/><path d="M61.8 50.5l-0.2 0.7M61.8 50.5l0.7 -1.7M61.8 50.5M27.2 2.5l0.1 1.3M27.2 2.5M31.6 6.5l0.8 -0.6M31.6 6.5l-1.4 -0.4M31.6 6.5M57.6 37.2l0.9 -0.3M57.6 37.2l-0.1 0.9M57.6 37.2l-1.0 -0.4M57.6 37.2M-0.1 26.7l1.2 0.5M-0.1 26.7M71.6 25.0l-1.9 -0.5M71.6 25.0M32.2 8.0l0.8 -0.6M32.2 8.0l0.2 1.5M32.2 8.0l-1.7 -0.1M32.2 8.0M39.1 29.6l-1.1 1.3M39.1 29.6l-1.0 -1.0M39.1 29.6l1.5 -1.3M39.1 29.6M1.0 11.9l0.6 -1.7M1.0 11.9M12.7 44.1l1.6 -1.3M12.7 44.1l-1.2 1.0M12.7 44.1M90.3 22.5l0.6 1.8M90.3 22.5M0.8 42.1l1.4 -0.8M0.8 42.1l-0.4 1.9M0.8 42.1M29.3 45.3l-0.4 0.8M29.3 45.3l2.0 -0.7M29.3 45.3M84.0 48.9l-1.7 0.5M84.0 48.9l1.4 -1.6M84.0 48.9M56.9 40.8l-1.5 0.5M56.9 40.8l-0.0 -0.8M56.9 40.8l1.8 0.8M56.9 40.8M48.1 11.4l0.8 0.9M48.1 11.4l-1.4 -1.2M48.1 11.4M33.7 19.9l1.2 -1.0M33.7 19.9l0.1 1.7M33.7 19.9l-1.2 -1.0M33.7 19.9M65.6 3.3l-2.0 0.7M65.6 3.3l1.5 -0.3M65.6 3.3M-0.8 4.3l0.4 0.7M-0.8 4.3l0.1 -1.7M-0.8 4.3M85.9 22.3l-0.1 1.5M85.9 22.3l-0.8 -0.8M85.9 22.3l1.6 -0.4M85.9 22.3M31.4 16.1l-0.1 0.8M31.4 16.1l-1.6 -0.9M31.4 16.1l0.3 -0.9M31.4 16.1M29.8 35.0l1.1 -1.4M29.8 35.0M22.6 46.9l0.1 -1.0M22.6 46.9l-0.2 1.5M22.6 46.9M-0.7 44.4l-0.4 1.4M-0.7 44.4l-0.8 -1.8M-0.7 44.4M62.8 13.4l0.5 1.0M62.8 13.4l-2.1 0.0M62.8 13.4l1.2 -0.7M62.8 13.4M51.8 7.9l1.8 -0.9M51.8 7.9l-1.9 0.5M51.8 7.9M30.4 21.7l1.1 1.0M30.4 21.7l-0.1 -2.1M30.4 21.7M4.9 23.1l-0.3 -0.9M4.9 23.1l1.2 0.8M4.9 23.1M6.7 34.6l-1.5 1.4M6.7 34.6l-1.6 -1.5M6.7 34.6l1.4 -0.9M6.7 34.6M36.8 22.7l-0.6 0.4M36.8 22.7M9.6 21.7l-1.1 -0.5M9.6 21.7l1.5 0.8M9.6 21.7M52.6 -0.5l0.8 -0.7M52.6 -0.5l-0.1 1.5M52.6 -0.5M37.7 38.5l0.7 0.1M37.7 38.5l-0.6 -0.8M37.7 38.5M26.5 51.4l-0.6 0.5M26.5 51.4l-0.5 -1.1M26.5 51.4l0.5 0.6M26.5 51.4M-1.6 26.6l0.8 -0.1M-1.6 26.6l-1.7 -1.1M-1.6 26.6M32.5 5.4l-1.8 -1.0M32.5 5.4l0.3 0.8M32.5 5.4M29.8 7.2l-1.6 -0.2M29.8 7.2l0.6 -0.6M29.8 7.2l-0.3 2.1M29.8 7.2M84.5 24.5l-0.2 -1.9M84.5 24.5l1.3 1.2M84.5 24.5l-1.1 0.4M84.5 24.5M3.9 44.2l0.1 1.5M3.9 44.2l0.5 -0.9M3.9 44.2M58.1 34.4l0.1 -1.2M58.1 34.4l0.0 1.3M58.1 34.4M83.9 -1.4l0.9 -0.9M83.9 -1.4l0.1 1.6M83.9 -1.4M55.1 50.1l-1.1 -1.8M55.1 50.1l1.8 1.0M55.1 50.1l-1.3 0.2M55.1 50.1M55.6 16.6l-1.8 -0.1M55.6 16.6M3.5 31.8l1.8 0.9M3.5 31.8l-1.6 0.3M3.5 31.8l0.1 -1.6M3.5 31.8M28.9 34.8l-0.6 0.5M28.9 34.8l1.0 -0.9M28.9 34.8M63.3 28.4l0.4 -1.8M63.3 28.4l-0.9 2.0M63.3 28.4M3.2 3.2l0.3 1.0M3.2 3.2l0.2 -0.9M3.2 3.2M29.1 24.2l0.2 0.8M29.1 24.2l-0.3 -0.9M29.1 24.2M70.5 47.4l1.4 -1.5M70.5 47.4l-0.0 0.7M70.5 47.4M93.3 27.1l1.4 0.6M93.3 27.1M39.1 4.4l1.7 -1.3M39.1 4.4l0.9 0.5M39.1 4.4l-1.6 0.5M39.1 4.4M27.4 22.0l0.1 -2.0M27.4 22.0l-0.5 2.1M27.4 22.0M52.1 27.1l1.2 1.6M52.1 27.1l-0.2 -1.8M52.1 27.1M44.2 32.1l-0.0 -1.1M44.2 32.1l0.8 0.4M44.2 32.1l-1.4 0.2M44.2 32.1M50.6 12.6l0.1 -1.5M50.6 12.6l-0.4 1.3M50.6 12.6M57.9 8.6l-0.8 0.1M57.9 8.6l1.9 -0.6M57.9 8.6M13.3 20.5l-0.9 1.4M13.3 20.5l0.3 -0.7M13.3 20.5M87.9 20.7l-1.8 0.9M87.9 20.7l1.2 -0.6M87.9 20.7M45.3 21.3l0.2 1.6M45.3 21.3l-0.8 -1.6M45.3 21.3M70.9 29.4l1.2 0.9M70.9 29.4l-1.7 0.4M70.9 29.4l-0.7 -1.8M70.9 29.4M67.2 16.1l0.6 0.4M67.2 16.1l-0.9 0.3M67.2 16.1l-1.1 -1.8M67.2 16.1M77.1 33.6l1.6 0.1M77.1 33.6M87.1 48.5l1.9 -0.2M87.1 48.5l0.9 1.6M87.1 48.5l-1.6 -0.6M87.1 48.5M22.9 32.4l-1.7 0.6M22.9 32.4M63.1 -1.3l-1.8 0.1M63.1 -1.3l1.2 0.6M63.1 -1.3M65.3 22.1l0.0 1.4M65.3 22.1l-1.4 -1.1M65.3 22.1l1.9 -0.1M65.3 22.1M92.9 41.1l1.5 0.9M92.9 41.1l-0.3 -0.8M92.9 41.1M34.6 35.1l0.8 -1.8M34.6 35.1l0.2 1.5M34.6 35.1l-1.2 -0.4M34.6 35.1M49.7 8.5l0.8 -0.4M49.7 8.5M83.1 45.3l0.8 -2.0M83.1 45.3l1.3 0.2M83.1 45.3l-2.1 0.5M83.1 45.3M56.2 14.6l0.4 1.0M56.2 14.6M12.7 50.8l0.7 -0.9M12.7 50.8M9.9 28.6l0.3 -0.8M9.9 28.6M47.0 16.3l1.8 -0.9M47.0 16.3l-1.6 0.1M47.0 16.3M56.4 29.7l-1.5 0.2M56.4 29.7M11.4 9.5l1.7 -0.3M11.4 9.5l-0.8 -0.0M11.4 9.5M88.9 33.8l-1.3 -1.7M88.9 33.8l1.5 0.8M88.9 33.8l-1.1 0.1M88.9 33.8M78.2 1.4l0.4 1.6M78.2 1.4M60.9 -1.9l-1.3 -1.4M60.9 -1.9M46.8 1.4l1.4 -1.1M46.8 1.4M86.2 18.5l-0.5 0.8M86.2 18.5l0.8 -1.7M86.2 18.5M-1.0 50.5l2.2 -0.3M-1.0 50.5l-0.9 0.5M-1.0 50.5M60.3 32.3l-1.5 1.3M60.3 32.3l1.6 -0.9M60.3 32.3M90.6 20.1l0.9 1.9M90.6 20.1l0.1 -1.1M90.6 20.1M0.1 4.7l-1.5 0.2M0.1 4.7M66.1 28.5l0.5 -0.9M66.1 28.5M71.7 4.3l1.0 -0.2M71.7 4.3M82.4 43.9l0.6 1.4M82.4 43.9l-1.8 -0.4M82.4 43.9" stroke="#5038a6" stroke-width="1.78"/><path d="M66.0 3.4l1.0 0.3M66.0 3.4M71.1 35.1l-1.7 -0.5M71.1 35.1M6.4 29.9l1.2 0.6M6.4 29.9l-1.7 -1.4M6.4 29.9M79.8 16.2l0.4 1.2M79.8 16.2l-1.2 -0.3M79.8 16.2M7.8 43.1l0.6 -0.7M7.8 43.1l-0.6 1.3M7.8 43.1M80.5 21.6l-0.0 1.7M80.5 21.6l1.0 -1.1M80.5 21.6M22.4 43.6l0.5 -1.5M22.4 43.6M24.6 12.7l0.2 1.8M24.6 12.7l0.2 -0.8M24.6 12.7M23.4 50.4l0.3 -0.8M23.4 50.4l1.0 0.8M23.4 50.4l-1.0 1.8M23.4 50.4M6.7 35.1l1.7 0.4M6.7 35.1M54.2 23.1l-1.0 0.1M54.2 23.1l0.6 0.9M54.2 23.1M32.5 36.5l-1.1 1.1M32.5 36.5M77.5 50.7l0.5 0.8M77.5 50.7l-0.6 -1.2M77.5 50.7M19.1 9.6l-0.7 -0.1M19.1 9.6l1.4 0.4M19.1 9.6M26.5 37.8l-0.4 -1.1M26.5 37.8M72.7 5.0l-0.3 -1.5M72.7 5.0M22.6 32.2l0.6 -0.9M22.6 32.2l-1.2 1.7M22.6 32.2M76.1 0.9l-0.4 -1.0M76.1 0.9l0.5 1.4M76.1 0.9M60.3 41.4l0.3 -1.6M60.3 41.4M21.1 21.0l-2.1 -0.2M21.1 21.0l2.1 0.1M21.1 21.0M33.5 38.5l-0.2 -1.0M33.5 38.5l-0.9 0.7M33.5 38.5M40.7 20.9l-1.0 0.3M40.7 20.9l-0.5 -0.5M40.7 20.9l1.3 1.0M40.7 20.9M18.8 18.5l-1.6 -1.2M18.8 18.5l0.6 1.4M18.8 18.5M11.9 16.9l-0.9 -0.5M11.9 16.9M30.6 34.7l-0.1 -0.8M30.6 34.7l0.2 1.4M30.6 34.7M88.1 4.5l-0.6 1.8M88.1 4.5M13.2 -1.3l-0.0 -1.2M13.2 -1.3l0.2 0.8M13.2 -1.3M64.6 29.0l0.8 1.0M64.6 29.0l0.3 -1.8M64.6 29.0M3.4 37.4l0.9 -1.0M3.4 37.4M27.1 23.4l0.3 -0.9M27.1 23.4l-0.3 1.7M27.1 23.4M12.2 5.1l0.6 0.4M12.2 5.1l-0.2 -1.3M12.2 5.1M9.5 24.7l1.9 -1.0M9.5 24.7l-1.0 0.2M9.5 24.7M2.1 37.2l-0.6 1.9M2.1 37.2M2.6 13.8l-0.4 -0.9M2.6 13.8l0.1 1.6M2.6 13.8M24.0 31.3l-0.1 0.8M24.0 31.3l-1.1 -1.5M24.0 31.3M34.0 36.5l0.6 1.0M34.0 36.5l-0.2 -1.0M34.0 36.5M62.9 19.5l-0.1 -1.2M62.9 19.5l0.9 0.6M62.9 19.5M29.2 10.6l-1.1 -1.0M29.2 10.6l-0.0 1.1M29.2 10.6M3.9 21.1l-1.4 1.0M3.9 21.1l-0.6 -1.3M3.9 21.1l1.3 0.9M3.9 21.1M88.5 13.1l-2.0 0.1M88.5 13.1l0.8 -0.1M88.5 13.1M41.5 2.9l-0.7 0.5M41.5 2.9M61.0 31.5l-0.1 -1.3M61.0 31.5M84.3 34.4l1.5 -0.6M84.3 34.4l-0.1 0.9M84.3 34.4l-1.5 -0.3M84.3 34.4M43.4 15.7l-0.6 -0.6M43.4 15.7l0.8 -0.1M43.4 15.7M18.6 44.0l0.4 -1.9M18.6 44.0M3.8 38.4l-0.5 0.5M3.8 38.4l1.1 -1.4M3.8 38.4M80.3 39.6l-0.5 -0.4M80.3 39.6l0.5 0.7M80.3 39.6M49.2 42.4l1.2 0.8M49.2 42.4l-0.7 -0.9M49.2 42.4M19.7 28.7l1.0 -0.8M19.7 28.7l0.3 0.9M19.7 28.7l-0.7 -0.4M19.7 28.7M86.0 2.6l-0.1 0.8M86.0 2.6l0.4 -0.6M86.0 2.6M28.9 15.9l1.9 0.1M28.9 15.9M3.4 10.8l-0.7 -1.1M3.4 10.8l1.2 1.5M3.4 10.8M23.5 14.5l-0.7 -0.4M23.5 14.5l0.8 0.3M23.5 14.5M34.0 35.6l1.4 -0.1M34.0 35.6l-0.8 -0.4M34.0 35.6M37.0 33.3l-0.3 1.3M37.0 33.3l1.3 -0.9M37.0 33.3M33.7 27.4l0.9 -1.1M33.7 27.4l0.2 1.3M33.7 27.4l-1.3 0.4M33.7 27.4M36.3 27.7l-0.3 1.3M36.3 27.7M85.1 14.9l-1.5 -0.5M85.1 14.9l1.8 -0.3M85.1 14.9M60.5 4.7l1.7 0.3M60.5 4.7l-1.9 -0.1M60.5 4.7l0.1 -0.7M60.5 4.7M16.6 16.6l-0.8 0.1M16.6 16.6M91.0 42.2l-2.1 0.4M91.0 42.2l1.5 -0.8M91.0 42.2l0.2 1.7M91.0 42.2M23.2 4.3l1.2 -1.6M23.2 4.3l-0.1 2.0M23.2 4.3l-1.3 -1.4M23.2 4.3M-1.4 20.2l-0.3 -2.1M-1.4 20.2l0.5 2.0M-1.4 20.2M47.8 14.9l0.2 1.1M47.8 14.9l-0.7 -1.4M47.8 14.9M0.4 9.8l-1.2 1.4M0.4 9.8l-0.9 -1.7M0.4 9.8l0.7 0.3M0.4 9.8M49.5 7.1l0.8 0.5M49.5 7.1l-0.7 0.4M49.5 7.1l-0.1 -1.2M49.5 7.1M65.7 47.1l-0.1 -1.7M65.7 47.1l1.5 1.2M65.7 47.1M18.6 23.1l0.8 -0.4M18.6 23.1l-1.5 0.6M18.6 23.1M82.2 4.5l0.0 1.3M82.2 4.5l-0.6 -1.0M82.2 4.5M72.5 5.7l-0.3 -0.9M72.5 5.7l0.7 -0.0M72.5 5.7l-1.1 1.8M72.5 5.7M-0.8 6.1l1.8 -0.8M-0.8 6.1l-0.5 0.9M-0.8 6.1M4.7 9.3l-2.0 -0.7M4.7 9.3l1.1 1.9M4.7 9.3M87.0 10.7l-1.0 -0.3M87.0 10.7M-0.6 44.5l-1.6 0.5M-0.6 44.5l2.0 0.1M-0.6 44.5M81.3 22.0l1.8 0.0M81.3 22.0l-0.3 2.0M81.3 22.0l0.1 -0.8M81.3 22.0M34.9 6.5l-1.0 0.4M34.9 6.5l1.3 -1.4M34.9 6.5M33.0 6.6l-1.7 -1.1M33.0 6.6l1.5 -0.7M33.0 6.6M85.3 13.3l-0.5 0.7M85.3 13.3l-1.1 -1.3M85.3 13.3l0.8 0.1M85.3 13.3M49.8 29.5l0.9 -0.1M49.8 29.5l-1.2 0.4M49.8 29.5M48.9 45.7l0.8 0.1M48.9 45.7l-0.9 -0.4M48.9 45.7M4.4 28.6l0.5 -1.0M4.4 28.6M72.2 43.3l1.2 0.6M72.2 43.3l-0.7 -0.0M72.2 43.3l0.5 -0.5M72.2 43.3M85.0 39.1l2.0 0.3M85.0 39.1M7.3 4.6l0.0 1.1M7.3 4.6M59.3 50.8l0.7 -2.1M59.3 50.8l0.5 1.0M59.3 50.8l-1.1 0.5M59.3 50.8M70.4 51.1l1.8 -0.9M70.4 51.1M50.3 41.1l-0.5 -1.9M50.3 41.1l0.9 1.8M50.3 41.1M17.2 50.8l2.0 0.1M17.2 50.8M29.3 43.7l0.3 0.8M29.3 43.7l0.4 -2.1M29.3 43.7M68.7 9.6l0.4 1.9M68.7 9.6l-1.2 -0.8M68.7 9.6M31.4 35.5l-0.5 1.2M31.4 35.5l-1.0 -0.2M31.4 35.5l1.6 -0.5M31.4 35.5" stroke="#7660c6" stroke-width="1.61"/><path d="M0.9 43.4l-0.4 0.9M0.9 43.4l0.1 -1.7M0.9 43.4M54.8 28.4l0.6 1.0M54.8 28.4l-0.8 -1.7M54.8 28.4M64.4 41.8l0.3 -2.0M64.4 41.8l-1.8 1.1M64.4 41.8M88.2 4.9l0.7 0.5M88.2 4.9l-1.0 -1.6M88.2 4.9M23.8 9.9l0.3 1.7M23.8 9.9l-0.4 -1.7M23.8 9.9M46.4 38.9l0.5 -0.8M46.4 38.9l-2.0 0.3M46.4 38.9M17.9 20.3l-2.0 -0.0M17.9 20.3M36.9 17.3l0.6 -1.5M36.9 17.3l0.2 1.1M36.9 17.3M10.1 41.1l1.9 0.3M10.1 41.1M15.9 0.4l-0.7 1.2M15.9 0.4M31.7 47.3l-1.1 1.0M31.7 47.3l-0.6 -1.6M31.7 47.3l1.0 1.7M31.7 47.3M31.3 4.3l0.7 1.0M31.3 4.3l-1.3 -1.7M31.3 4.3M22.1 4.5l-0.4 2.0M22.1 4.5M44.0 29.4l-1.3 0.4M44.0 29.4M18.6 26.2l0.5 0.7M18.6 26.2l-1.5 -1.1M18.6 26.2M49.3 13.8l0.5 0.4M49.3 13.8l-0.8 -0.5M49.3 13.8M58.7 29.4l0.7 -2.0M58.7 29.4M63.5 5.6l1.0 -0.2M63.5 5.6l-0.7 2.1M63.5 5.6M27.0 40.5l-1.7 -1.2M27.0 40.5l1.6 1.2M27.0 40.5M75.8 10.7l0.2 -2.0M75.8 10.7M2.2 40.3l-1.4 -0.6M2.2 40.3l0.8 -0.1M2.2 40.3M20.5 20.9l-0.2 1.1M20.5 20.9l-0.9 -0.8M20.5 20.9l1.4 -1.2M20.5 20.9M61.6 35.9l0.5 1.9M61.6 35.9M5.8 36.2l0.1 0.8M5.8 36.2l0.0 -0.7M5.8 36.2M35.1 25.6l0.7 -0.3M35.1 25.6l-0.5 0.8M35.1 25.6M27.9 50.5l1.7 0.0M27.9 50.5l-1.7 1.2M27.9 50.5M77.7 25.6l1.0 -1.9M77.7 25.6l0.8 1.1M77.7 25.6l-0.8 1.2M77.7 25.6M10.8 36.0l-2.1 -0.8M10.8 36.0l1.5 1.2M10.8 36.0M27.4 31.7l-0.1 -2.1M27.4 31.7l2.1 -0.7M27.4 31.7l-0.4 1.5M27.4 31.7M15.1 40.6l-2.0 0.3M15.1 40.6M1.8 17.3l0.7 0.3M1.8 17.3l-1.4 -1.0M1.8 17.3M40.2 37.5l-0.3 0.6M40.2 37.5M28.9 6.3l1.8 -0.3M28.9 6.3l-1.3 1.5M28.9 6.3l-1.0 -1.0M28.9 6.3M40.4 29.8l1.6 1.0M40.4 29.8l-0.8 -0.2M40.4 29.8M50.5 49.0l0.5 0.9M50.5 49.0l-0.8 0.2M50.5 49.0l-0.4 -1.3M50.5 49.0M75.8 50.8l0.3 1.3M75.8 50.8M17.4 24.5l1.1 1.2M17.4 24.5l-1.4 0.1M17.4 24.5l0.6 -1.0M17.4 24.5M0.1 29.0l-0.6 0.4M0.1 29.0M42.3 45.4l0.3 -0.7M42.3 45.4l0.1 0.8M42.3 45.4l-1.6 -1.1M42.3 45.4M81.0 48.8l0.5 -0.5M81.0 48.8M85.7 29.0l0.5 0.5M85.7 29.0l-0.7 -0.2M85.7 29.0l0.1 -0.8M85.7 29.0M17.7 34.6l-1.7 -0.2M17.7 34.6l0.7 0.1M17.7 34.6M69.2 40.3l0.9 -0.4M69.2 40.3M80.9 27.6l-0.9 0.1M80.9 27.6l1.8 -1.2M80.9 27.6l1.4 0.8M80.9 27.6M51.9 26.9l0.3 1.2M51.9 26.9l-0.6 -1.1M51.9 26.9l1.1 -1.0M51.9 26.9M49.7 26.0l-1.8 1.3M49.7 26.0l0.9 -1.7M49.7 26.0M79.6 44.2l-0.1 -1.6M79.6 44.2l1.8 1.1M79.6 44.2M19.6 32.5l0.2 -0.7M19.6 32.5l0.3 1.2M19.6 32.5M36.8 51.9l-1.6 0.1M36.8 51.9l1.8 -0.6M36.8 51.9M48.8 23.5l-1.2 -0.1M48.8 23.5l0.8 -1.2M48.8 23.5l-0.3 0.7M48.8 23.5M77.4 34.7l0.7 -0.1M77.4 34.7l-1.3 -0.6M77.4 34.7M59.5 44.4l0.5 1.8M59.5 44.4M39.4 5.0l-0.9 0.2M39.4 5.0l1.7 1.3M39.4 5.0M2.7 35.3l0.1 -0.7M2.7 35.3M26.1 44.9l-0.8 -1.2M26.1 44.9l1.0 0.9M26.1 44.9M24.8 6.7l-1.5 0.9M24.8 6.7M41.7 29.0l-0.3 1.3M41.7 29.0l-1.0 -0.9M41.7 29.0l1.1 -0.3M41.7 29.0M2.9 14.3l1.0 0.5M2.9 14.3M57.7 47.2l-0.6 1.5M57.7 47.2l0.3 -1.9M57.7 47.2M31.0 22.5l0.5 -0.5M31.0 22.5M68.1 7.8l-1.4 -0.1M68.1 7.8M66.5 45.0l-0.3 0.6M66.5 45.0l-1.0 -1.5M66.5 45.0M17.4 43.4l-0.6 -0.8M17.4 43.4l1.0 -1.9M17.4 43.4l0.4 0.8M17.4 43.4M87.7 18.4l1.2 -0.4M87.7 18.4l-1.1 1.4M87.7 18.4l-1.1 -1.9M87.7 18.4M87.4 39.1l0.9 -0.7M87.4 39.1l-0.7 1.0M87.4 39.1l-0.5 -1.9M87.4 39.1M38.6 22.2l1.1 0.2M38.6 22.2l-1.0 -0.5M38.6 22.2M47.8 41.1l-0.2 2.2M47.8 41.1l-1.7 0.1M47.8 41.1l0.2 -0.7M47.8 41.1M30.4 32.6l0.4 2.1M30.4 32.6l-1.4 0.2M30.4 32.6l1.2 -0.3M30.4 32.6M62.6 19.4l-1.1 0.2M62.6 19.4l-0.2 -1.1M62.6 19.4l0.9 0.5M62.6 19.4M21.7 43.1l0.9 -0.1M21.7 43.1l-1.8 -0.2M21.7 43.1M40.3 11.7l1.9 -1.0M40.3 11.7M69.9 12.2l1.2 -0.9M69.9 12.2l-1.2 1.4M69.9 12.2M92.5 51.7l0.1 0.8M92.5 51.7l-0.9 0.2M92.5 51.7l1.1 -1.5M92.5 51.7M22.4 44.3l-1.7 -1.0M22.4 44.3l1.2 1.4M22.4 44.3M59.0 8.0l-1.2 0.7M59.0 8.0l0.8 -0.7M59.0 8.0" stroke="#443098" stroke-width="1.53"/></g></svg>
<svg x="339.70" y="1061.20" width="90.90" height="50.00" overflow="hidden"><rect width="90.90" height="50.00" fill="#aea99d"/><g filter="url(#cb)" stroke-linecap="round" stroke-linejoin="round" fill="none"><path d="M29.4 7.5h0M59.2 3.6h0M48.7 18.3h0M5.3 25.4h0M3.4 21.7h0M6.3 4.5h0M38.6 41.3h0M11.3 11.2h0M57.0 47.4h0M52.5 19.8h0M88.7 2.3h0M78.0 14.5h0M13.1 5.9h0M28.0 40.8h0M16.4 29.1h0M58.1 18.6h0M49.8 3.1h0M5.4 10.3h0M61.8 21.4h0M28.6 29.3h0M41.2 15.0h0M72.2 34.9h0M22.2 28.7h0M47.7 43.8h0M66.3 14.4h0M89.1 5.9h0M38.0 37.9h0M13.8 24.4h0M3.6 33.4h0M69.5 28.7h0M79.6 15.7h0M63.2 29.7h0M52.7 22.8h0M76.4 47.2h0M43.1 33.2h0M5.5 35.1h0M58.8 49.7h0M74.7 14.2h0M35.1 33.4h0M2.1 23.1h0M15.3 5.9h0M5.4 38.4h0M11.8 12.4h0M35.5 43.6h0M7.3 22.5h0M49.9 44.2h0M74.5 43.2h0M25.3 20.8h0M32.6 44.2h0M87.1 7.5h0M16.0 11.6h0M21.2 24.2h0M53.6 13.1h0M0.4 20.9h0M33.6 28.3h0M86.6 34.5h0M46.9 30.9h0M61.5 2.7h0M81.8 39.0h0M79.5 39.9h0M35.7 19.9h0M9.4 31.7h0M5.7 3.4h0M19.0 8.1h0M30.9 2.6h0M0.0 7.6h0M9.2 18.2h0M2.3 43.7h0M55.8 7.4h0M22.9 17.4h0M33.1 6.1h0M77.2 49.7h0M42.4 24.2h0M7.8 5.1h0M31.1 13.2h0M75.3 8.1h0M2.1 47.5h0M48.0 7.3h0M49.4 1.4h0M48.0 48.9h0M78.5 34.8h0M23.7 18.3h0M15.2 38.6h0M48.4 39.0h0M30.0 11.2h0M73.8 49.2h0M77.5 40.3h0M74.4 37.0h0M20.6 25.9h0M32.3 1.4h0M2.5 14.0h0M23.6 34.6h0M86.9 22.4h0M85.2 49.4h0M86.8 18.2h0M20.0 11.3h0M17.9 10.2h0M56.7 45.0h0M76.4 24.0h0M59.4 40.0h0M7.7 33.0h0M82.7 39.1h0M68.2 23.9h0M16.2 39.5h0M30.2 40.0h0M88.3 19.8h0M36.5 47.3h0M65.9 8.5h0M11.5 7.6h0M82.3 40.3h0M13.3 41.3h0M89.1 32.9h0M31.9 27.4h0M11.9 0.7h0M88.3 32.5h0M47.9 46.7h0M39.4 43.6h0M75.1 10.6h0M22.9 14.6h0M21.9 29.3h0M23.6 21.0h0M11.9 45.5h0M32.2 22.9h0M53.0 45.2h0M38.2 45.9h0M45.6 26.6h0M47.6 0.9h0M40.0 9.2h0M0.4 40.0h0M15.7 23.7h0M65.9 27.8h0M29.6 25.9h0M50.5 39.2h0M9.6 28.0h0M22.6 13.8h0M70.2 25.4h0M51.1 38.0h0M82.9 22.2h0M55.7 25.3h0M46.6 34.6h0M41.1 26.7h0M43.5 47.1h0M63.6 43.8h0M85.6 13.0h0M50.9 47.2h0M76.4 6.9h0M11.1 22.1h0M6.6 12.0h0M6.6 33.5h0M71.3 44.9h0M14.0 35.8h0M60.0 7.1h0M80.2 48.4h0M20.0 47.6h0M36.2 24.4h0M90.0 41.6h0M14.7 21.6h0M46.9 17.0h0M17.8 15.9h0M65.6 1.0h0M50.4 22.0h0M1.6 16.6h0M56.7 25.6h0M5.8 49.3h0M71.7 48.6h0M9.5 13.3h0M3.6 38.9h0M24.6 6.5h0M38.4 45.6h0M74.4 12.9h0M13.6 46.0h0M51.9 35.0h0M8.1 2.9h0M62.6 21.3h0M6.6 46.9h0M57.7 40.1h0M7.6 42.8h0M6.1 43.1h0M41.2 17.0h0M50.3 46.3h0M24.3 6.5h0M47.9 11.9h0M9.9 8.1h0M4.6 10.1h0M28.4 15.3h0M69.0 14.5h0M45.5 8.9h0M31.5 0.9h0M22.8 0.8h0M66.6 27.6h0M17.2 23.7h0M85.0 5.3h0M74.4 21.6h0M45.0 41.7h0M35.7 25.3h0M62.5 49.1h0M31.2 41.6h0M64.2 31.8h0M36.8 17.4h0M4.9 6.5h0" stroke="#35302a" stroke-width="1.1"/><path d="M17.1 25.3l0.0 1.0M17.1 25.3M8.0 43.1l-1.5 -1.5M8.0 43.1M-1.7 41.1l0.6 -1.6M-1.7 41.1M50.1 14.8l1.5 0.8M50.1 14.8l-1.4 2.2M50.1 14.8l-0.9 -1.0M50.1 14.8M87.7 9.4l-0.2 -1.3M87.7 9.4l-0.3 2.0M87.7 9.4M38.6 12.9l2.2 0.9M38.6 12.9l-2.5 -0.9M38.6 12.9M33.8 16.3l0.7 2.6M33.8 16.3l-1.2 -1.3M33.8 16.3l1.9 -1.6M33.8 16.3M82.0 32.9l0.5 1.6M82.0 32.9l0.2 -1.8M82.0 32.9M91.5 21.9l0.9 0.4M91.5 21.9M85.3 11.9l-1.4 0.5M85.3 11.9l0.8 -0.5M85.3 11.9M78.4 33.9l-0.2 1.9M78.4 33.9l-0.2 -2.2M78.4 33.9M46.1 10.5l1.0 -0.1M46.1 10.5l-1.8 1.5M46.1 10.5l-2.3 -1.1M46.1 10.5M71.8 49.1l0.9 1.2M71.8 49.1l-0.6 -1.1M71.8 49.1M56.9 2.2l-0.9 0.2M56.9 2.2l1.2 -1.0M56.9 2.2l1.3 1.6M56.9 2.2M27.8 36.9l0.5 -2.5M27.8 36.9M72.4 -0.6l1.0 2.5M72.4 -0.6M19.6 33.3l1.4 -0.7M19.6 33.3M21.1 6.1l-0.9 -2.3M21.1 6.1M36.1 12.3l-1.4 -1.3M36.1 12.3M13.1 47.2l-2.0 -0.7M13.1 47.2M18.1 31.6l0.8 0.4M18.1 31.6l-1.9 -1.7M18.1 31.6M11.5 -0.4l-0.3 -2.0M11.5 -0.4l1.7 1.4M11.5 -0.4M54.0 17.6l1.2 0.3M54.0 17.6l-0.9 -0.0M54.0 17.6l0.7 -2.3M54.0 17.6M72.9 -0.3l-0.9 0.1M72.9 -0.3l2.1 0.4M72.9 -0.3M3.1 16.8l0.5 -2.3M3.1 16.8l1.5 1.3M3.1 16.8l-1.3 1.3M3.1 16.8M62.0 29.3l-1.2 1.0M62.0 29.3l2.1 -1.6M62.0 29.3M-0.6 -1.4l0.4 0.9M-0.6 -1.4l0.4 -1.2M-0.6 -1.4M59.4 -0.9l0.3 -1.0M59.4 -0.9l0.1 2.3M59.4 -0.9M76.0 23.7l-1.1 -1.7M76.0 23.7l2.0 -0.2M76.0 23.7l-0.5 1.1M76.0 23.7M41.5 39.2l0.4 -1.6M41.5 39.2l-0.4 2.6M41.5 39.2M64.0 19.9l0.3 -1.9M64.0 19.9M57.5 21.1l2.2 -1.0M57.5 21.1M63.9 5.8l-1.6 -1.5M63.9 5.8l2.3 1.3M63.9 5.8M89.5 36.7l1.8 0.9M89.5 36.7M38.1 29.7l1.9 -1.4M38.1 29.7l-0.5 1.9M38.1 29.7M72.7 6.4l0.6 1.9M72.7 6.4l0.7 -1.0M72.7 6.4" stroke="#6248b8" stroke-width="2.10"/><path d="M25.8 22.8l-1.3 -0.3M25.8 22.8l2.6 -0.8M25.8 22.8M67.6 41.9l1.6 -1.1M67.6 41.9M62.8 35.4l1.1 0.0M62.8 35.4M78.3 10.7l-0.2 -2.7M78.3 10.7l0.1 1.6M78.3 10.7M62.9 39.4l-1.0 -1.1M62.9 39.4M63.8 31.5l-1.6 -0.8M63.8 31.5M62.7 19.9l-1.2 0.8M62.7 19.9l-0.1 -0.8M62.7 19.9l2.2 -0.9M62.7 19.9M23.2 25.6l-0.6 -1.6M23.2 25.6l-0.2 2.3M23.2 25.6M81.1 27.9l2.2 0.6M81.1 27.9M90.7 12.0l-1.8 1.1M90.7 12.0l1.7 -1.2M90.7 12.0M45.5 41.8l2.2 -1.6M45.5 41.8l0.5 1.0M45.5 41.8l-1.0 -0.3M45.5 41.8M26.5 49.0l1.2 2.0M26.5 49.0l-0.7 -1.7M26.5 49.0l1.1 -0.9M26.5 49.0M77.7 11.1l1.5 0.6M77.7 11.1l-0.9 0.2M77.7 11.1M17.0 39.4l-1.3 -0.3M17.0 39.4l1.0 -0.1M17.0 39.4M37.4 36.3l-1.9 1.1M37.4 36.3l-0.3 -1.0M37.4 36.3l1.1 0.4M37.4 36.3M82.0 28.3l-2.1 1.2M82.0 28.3l-1.3 -1.0M82.0 28.3l1.7 -0.0M82.0 28.3M87.8 1.5l-2.5 -1.0M87.8 1.5M21.5 11.2l1.1 -1.6M21.5 11.2l-1.6 0.2M21.5 11.2M25.9 4.4l1.5 0.0M25.9 4.4l-1.3 1.1M25.9 4.4M54.9 33.2l0.4 -1.6M54.9 33.2M86.0 37.8l-0.3 1.1M86.0 37.8l0.4 -0.9M86.0 37.8M69.5 40.8l0.5 2.6M69.5 40.8l-1.7 -0.5M69.5 40.8M85.9 18.9l-1.8 -0.8M85.9 18.9l1.2 1.3M85.9 18.9M2.0 48.7l-1.1 0.4M2.0 48.7l-1.6 -1.8M2.0 48.7l2.1 1.4M2.0 48.7M56.7 24.4l0.1 -2.3M56.7 24.4l1.0 0.6M56.7 24.4l-0.7 0.8M56.7 24.4M88.8 47.5l1.1 1.0M88.8 47.5l-0.7 -0.9M88.8 47.5M24.1 42.0l-2.4 0.9M24.1 42.0l1.3 0.0M24.1 42.0M28.3 -0.0l0.9 2.5M28.3 -0.0l-2.3 1.1M28.3 -0.0l0.1 -2.3M28.3 -0.0M-1.8 -0.2l-1.2 -1.1M-1.8 -0.2l2.4 0.7M-1.8 -0.2M22.7 10.7l0.6 -1.3M22.7 10.7l0.5 1.4M22.7 10.7M13.1 42.0l0.5 2.6M13.1 42.0l-1.5 -1.0M13.1 42.0l0.1 -1.9M13.1 42.0M26.8 21.1l1.9 0.8M26.8 21.1l-0.5 0.9M26.8 21.1l-1.0 -1.9M26.8 21.1M1.2 29.4l-1.8 -1.3M1.2 29.4l1.6 0.5M1.2 29.4l-0.1 1.9M1.2 29.4M41.8 45.8l-1.1 2.0M41.8 45.8l0.7 -1.9M41.8 45.8M13.6 33.5l0.8 0.7M13.6 33.5l-1.3 0.5M13.6 33.5l0.8 -0.6M13.6 33.5M53.7 32.9l-1.0 -1.8M53.7 32.9l0.4 1.4M53.7 32.9M62.1 48.2l0.3 -1.6M62.1 48.2l1.0 2.5M62.1 48.2M49.6 6.7l1.5 1.2M49.6 6.7l-1.7 -1.3M49.6 6.7M89.2 23.0l1.0 -0.1M89.2 23.0l-1.2 0.3M89.2 23.0M66.4 42.0l-0.4 -2.4M66.4 42.0l-0.1 1.6M66.4 42.0M64.5 11.3l0.5 1.4M64.5 11.3M18.2 20.4l1.9 0.8M18.2 20.4l-1.8 -1.4M18.2 20.4M80.8 16.6l0.1 -1.5M80.8 16.6l0.9 1.1M80.8 16.6l-2.0 -0.2M80.8 16.6M5.6 14.8l-0.5 -1.4M5.6 14.8l2.0 -0.9M5.6 14.8l-0.8 0.9M5.6 14.8M9.1 49.5l-2.3 0.5M9.1 49.5l0.9 -1.0M9.1 49.5l1.2 0.9M9.1 49.5M77.1 15.3l-0.1 1.0M77.1 15.3l-0.2 -1.4M77.1 15.3M32.1 40.1l2.7 0.4M32.1 40.1l-0.9 -0.4M32.1 40.1" stroke="#5038a6" stroke-width="2.21"/><path d="M4.7 38.0l0.1 1.0M4.7 38.0l-2.4 -0.5M4.7 38.0l0.3 -1.3M4.7 38.0M21.2 50.1l-0.4 0.7M21.2 50.1l1.1 -1.4M21.2 50.1M2.0 -0.8l1.5 2.2M2.0 -0.8l-0.6 -1.0M2.0 -0.8M72.4 30.2l1.0 2.0M72.4 30.2l-0.9 -0.3M72.4 30.2l1.4 -2.1M72.4 30.2M24.5 4.1l-2.5 0.3M24.5 4.1l1.0 0.6M24.5 4.1M85.9 36.5l-1.5 0.3M85.9 36.5l1.1 -1.6M85.9 36.5M69.4 32.8l2.6 -0.4M69.4 32.8l-1.0 1.4M69.4 32.8l0.1 -1.4M69.4 32.8M6.6 10.9l1.6 -1.6M6.6 10.9l-1.3 1.0M6.6 10.9M20.1 47.7l-1.4 -1.2M20.1 47.7l2.2 0.7M20.1 47.7M85.3 8.4l1.4 0.9M85.3 8.4l-0.4 2.3M85.3 8.4l-0.7 -0.6M85.3 8.4M63.4 47.9l0.4 -1.9M63.4 47.9M37.3 -1.0l-1.6 0.2M37.3 -1.0l0.8 -1.5M37.3 -1.0M8.8 2.9l-0.4 -1.0M8.8 2.9l0.6 1.0M8.8 2.9l-1.5 0.5M8.8 2.9M61.8 34.1l-1.6 0.5M61.8 34.1M71.8 33.0l-1.8 1.1M71.8 33.0l0.8 -1.4M71.8 33.0M48.4 32.4l-1.3 -1.4M48.4 32.4l1.0 -0.1M48.4 32.4l0.6 1.9M48.4 32.4M73.7 12.3l-1.3 1.9M73.7 12.3l1.0 -0.6M73.7 12.3M2.6 42.3l-1.5 -2.2M2.6 42.3l1.7 1.3M2.6 42.3M31.9 10.1l0.6 1.9M31.9 10.1l0.3 -1.1M31.9 10.1M1.7 16.1l-0.0 1.9M1.7 16.1M72.8 26.3l-2.3 -1.4M72.8 26.3l2.4 0.8M72.8 26.3M76.3 32.1l0.6 0.8M76.3 32.1l-1.0 0.7M76.3 32.1l-0.7 -1.5M76.3 32.1M22.4 13.3l0.2 -2.0M22.4 13.3l-0.6 1.3M22.4 13.3M90.5 37.1l1.0 2.5M90.5 37.1l1.3 -2.3M90.5 37.1M19.1 51.0l1.2 0.5M19.1 51.0l-0.3 0.8M19.1 51.0l-0.4 -2.4M19.1 51.0M58.7 42.8l0.9 -1.5M58.7 42.8l1.0 0.6M58.7 42.8l-2.5 0.8M58.7 42.8M56.3 32.4l-0.3 0.9M56.3 32.4l2.1 -1.4M56.3 32.4M62.4 24.0l0.1 1.4M62.4 24.0l0.2 -1.6M62.4 24.0M60.6 17.6l1.6 1.8M60.6 17.6l-1.0 2.1M60.6 17.6l-0.0 -2.4M60.6 17.6M50.1 32.4l-1.1 0.6M50.1 32.4l2.4 0.4M50.1 32.4M84.6 13.3l0.2 0.9M84.6 13.3l-1.3 -0.8M84.6 13.3l1.5 0.1M84.6 13.3M80.7 5.5l0.2 -1.2M80.7 5.5l-0.6 0.6M80.7 5.5M9.5 23.5l-2.2 -0.4M9.5 23.5l1.5 -0.0M9.5 23.5M57.0 33.2l0.5 -1.9M57.0 33.2M66.5 51.0l-1.2 -1.2M66.5 51.0" stroke="#7660c6" stroke-width="1.99"/><path d="M7.4 9.8l-0.4 -1.3M7.4 9.8l-0.7 2.2M7.4 9.8M23.7 11.4l-1.4 0.1M23.7 11.4l-0.9 -2.5M23.7 11.4l1.0 1.3M23.7 11.4M74.3 50.3l1.5 2.1M74.3 50.3M48.1 23.3l-0.3 -1.2M48.1 23.3l0.7 2.6M48.1 23.3M76.3 35.9l-0.7 -0.6M76.3 35.9M66.2 17.6l1.2 0.6M66.2 17.6l-1.0 -0.0M66.2 17.6M55.9 46.4l0.9 -0.4M55.9 46.4l1.4 2.2M55.9 46.4l-0.7 -0.5M55.9 46.4M59.9 26.3l-1.6 1.5M59.9 26.3M34.7 11.6l1.7 0.4M34.7 11.6l-2.3 1.1M34.7 11.6l-0.2 -2.1M34.7 11.6M20.4 44.5l0.4 -1.9M20.4 44.5l0.3 1.6M20.4 44.5M36.7 33.1l1.4 0.8M36.7 33.1l-0.4 -0.9M36.7 33.1M17.8 20.7l-0.1 1.6M17.8 20.7l0.4 -2.1M17.8 20.7M13.5 35.6l-1.4 -0.8M13.5 35.6l0.1 2.2M13.5 35.6M38.9 3.0l0.8 0.7M38.9 3.0M59.3 22.0l0.7 0.4M59.3 22.0l-0.7 -0.5M59.3 22.0M37.2 26.0l-0.9 -0.2M37.2 26.0l2.6 0.9M37.2 26.0M43.4 27.1l0.4 -1.7M43.4 27.1l1.7 0.3M43.4 27.1l-0.7 0.8M43.4 27.1M84.1 32.1l1.8 -1.2M84.1 32.1l0.4 1.6M84.1 32.1l-1.9 0.4M84.1 32.1M52.5 13.5l-1.2 -0.6M52.5 13.5M29.0 3.1l-1.6 1.2M29.0 3.1M24.6 45.8l2.5 0.0M24.6 45.8M7.3 20.7l0.1 1.6M7.3 20.7l-0.2 -2.0M7.3 20.7M70.1 33.1l0.6 -1.1M70.1 33.1l-1.5 1.5M70.1 33.1M30.9 6.2l-0.7 -2.0M30.9 6.2l0.4 0.9M30.9 6.2M9.1 4.4l0.9 -1.5M9.1 4.4l-1.4 1.0M9.1 4.4M45.2 14.0l-2.6 0.7M45.2 14.0l1.0 -0.7M45.2 14.0M1.8 37.0l-0.4 1.0M1.8 37.0M52.9 47.3l0.8 -2.1M52.9 47.3M60.6 6.4l0.9 1.5M60.6 6.4M38.7 46.0l0.1 -2.0M38.7 46.0l2.3 -0.3M38.7 46.0l-0.3 0.8M38.7 46.0M78.8 41.6l-1.8 -0.4M78.8 41.6l1.3 0.8M78.8 41.6M22.2 38.6l-1.8 -0.1M22.2 38.6l0.6 -0.8M22.2 38.6l1.0 1.5M22.2 38.6" stroke="#443098" stroke-width="1.89"/></g></svg>
<svg x="432.40" y="1061.20" width="92.40" height="50.00" overflow="hidden"><rect width="92.40" height="50.00" fill="#aaa599"/><g filter="url(#cb)" stroke-linecap="round" stroke-linejoin="round" fill="none"><path d="M20.9 48.1h0M11.7 35.2h0M7.9 12.4h0M92.3 10.5h0M59.3 23.0h0M41.9 24.7h0M17.8 41.5h0M8.3 11.7h0M1.8 13.3h0M37.7 45.1h0M35.0 5.7h0M23.9 49.6h0M5.8 31.0h0M34.9 33.0h0M31.3 34.6h0M46.0 32.5h0M83.3 29.1h0M13.1 3.2h0M87.4 24.4h0M17.9 47.3h0M53.5 36.4h0M81.4 14.3h0M33.0 43.9h0M12.5 38.2h0M9.0 34.5h0M64.9 47.5h0M77.9 25.2h0M18.3 7.5h0M48.9 25.5h0M6.6 45.2h0M46.9 35.1h0M20.3 12.2h0M1.1 17.2h0M24.7 21.2h0M34.8 41.7h0M82.4 8.8h0M36.6 8.3h0M61.3 48.7h0M18.6 38.3h0M27.7 0.7h0M70.6 17.1h0M15.7 21.8h0M21.4 20.5h0M41.2 20.9h0M54.4 14.4h0M8.8 4.3h0M9.8 26.0h0M33.3 40.4h0M46.7 35.4h0M90.6 3.1h0M1.6 7.0h0M35.7 28.7h0M68.7 17.6h0M89.2 0.1h0M77.2 10.5h0M80.9 1.7h0M89.2 38.0h0M91.5 29.0h0M16.4 48.5h0M40.8 4.2h0M55.9 24.9h0M43.7 7.7h0M11.3 29.0h0M41.8 6.3h0M40.6 36.3h0M66.1 23.6h0M36.4 18.0h0M20.8 9.9h0M41.2 5.4h0M67.0 35.4h0M56.5 1.1h0M33.6 21.6h0M8.6 48.4h0M69.8 25.1h0M65.2 10.0h0M21.2 26.3h0M68.7 32.4h0M0.6 30.7h0M84.0 37.2h0M85.7 49.1h0M20.7 14.8h0M50.6 48.8h0M34.1 47.1h0M78.6 25.8h0M57.8 47.9h0M72.4 14.8h0M78.1 9.8h0M34.2 47.9h0M78.3 15.6h0M26.8 30.7h0M77.9 34.2h0M86.5 36.4h0M75.9 30.2h0M33.5 21.4h0M45.3 26.4h0M77.4 13.4h0M6.3 36.7h0M25.0 21.0h0M10.8 41.5h0M25.3 14.6h0M74.3 25.2h0M25.6 44.4h0M38.1 18.1h0M89.2 39.5h0M69.1 12.5h0M75.1 29.8h0M76.7 18.4h0M72.1 39.7h0M35.8 32.7h0M72.1 49.7h0M85.0 39.3h0M12.6 30.5h0M63.3 4.4h0M42.8 43.4h0M83.7 46.3h0M8.6 30.4h0M79.9 32.6h0M29.6 1.9h0M85.0 43.0h0M60.4 18.3h0" stroke="#35302a" stroke-width="1.1"/><path d="M77.9 42.0l-0.6 1.6M77.9 42.0l0.2 -0.7M77.9 42.0M33.5 51.1l-1.1 -0.7M33.5 51.1l0.7 0.7M33.5 51.1M77.9 15.1l0.0 -1.7M77.9 15.1M62.1 22.1l-1.4 0.9M62.1 22.1l-1.7 -0.9M62.1 22.1l0.6 0.2M62.1 22.1M71.5 45.5l1.4 0.1M71.5 45.5l-1.1 1.2M71.5 45.5l-1.0 -1.1M71.5 45.5M2.0 31.9l0.4 -0.6M2.0 31.9l0.6 1.6M2.0 31.9l-0.4 -0.7M2.0 31.9M16.2 10.9l0.6 0.3M16.2 10.9l-0.7 0.8M16.2 10.9l-0.7 -0.6M16.2 10.9M25.7 45.8l1.4 0.5M25.7 45.8l-1.6 -1.2M25.7 45.8M67.0 26.6l-0.6 -0.4M67.0 26.6l0.3 1.0M67.0 26.6M11.2 49.6l0.3 -0.6M11.2 49.6l0.2 1.3M11.2 49.6M83.3 20.1l-1.8 0.5M83.3 20.1M20.0 3.7l-1.4 -0.5M20.0 3.7l1.3 0.1M20.0 3.7l0.6 2.0M20.0 3.7M1.0 12.0l0.7 0.9M1.0 12.0l-1.3 -0.2M1.0 12.0M23.3 20.0l-0.4 -1.0M23.3 20.0l0.8 1.5M23.3 20.0M27.7 23.5l0.7 0.4M27.7 23.5l-1.0 -1.1M27.7 23.5M53.2 42.5l1.3 -0.0M53.2 42.5l-0.8 0.3M53.2 42.5M48.4 40.3l-0.4 0.6M48.4 40.3M12.7 32.8l0.6 -0.5M12.7 32.8l-0.2 0.9M12.7 32.8l-0.6 -0.9M12.7 32.8M93.7 48.1l1.0 -0.2M93.7 48.1l0.8 1.4M93.7 48.1l-0.8 -1.3M93.7 48.1M7.3 19.6l0.9 0.3M7.3 19.6l-0.7 0.8M7.3 19.6l-0.3 -0.8M7.3 19.6M70.4 18.4l-0.3 -1.9M70.4 18.4M29.2 51.0l-1.4 -1.3M29.2 51.0l0.6 0.6M29.2 51.0M-0.0 29.9l1.4 0.9M-0.0 29.9l-1.8 0.4M-0.0 29.9l-0.1 -0.8M-0.0 29.9M14.5 25.3l0.6 1.2M14.5 25.3l-0.6 -1.0M14.5 25.3M51.1 2.5l-0.7 0.1M51.1 2.5l1.4 -0.9M51.1 2.5M14.4 -0.5l0.4 -1.3M14.4 -0.5M77.2 47.6l-0.1 1.1M77.2 47.6l-0.0 -1.1M77.2 47.6M46.5 39.5l-0.6 0.8M46.5 39.5M32.4 11.0l1.7 -0.2M32.4 11.0M67.9 13.8l-0.7 -0.1M67.9 13.8l0.9 0.0M67.9 13.8M39.5 13.4l-1.2 -1.5M39.5 13.4l0.7 1.7M39.5 13.4M58.6 14.3l-1.0 -1.3M58.6 14.3l1.4 -1.3M58.6 14.3l-0.7 0.9M58.6 14.3M35.4 48.2l1.0 0.4M35.4 48.2l-0.5 -0.3M35.4 48.2M10.0 0.4l-0.7 0.4M10.0 0.4l0.9 -0.9M10.0 0.4M19.0 29.3l-0.6 1.0M19.0 29.3M4.2 26.0l0.3 -1.3M4.2 26.0l0.9 1.0M4.2 26.0l-0.7 0.6M4.2 26.0M76.0 25.5l1.5 1.1M76.0 25.5M9.4 13.4l-0.3 0.9M9.4 13.4l-0.9 -1.2M9.4 13.4l1.2 -0.4M9.4 13.4M32.7 6.5l0.4 0.6M32.7 6.5l-0.1 -1.1M32.7 6.5M17.5 45.9l0.6 -1.7M17.5 45.9l-1.9 0.5M17.5 45.9M40.2 41.8l2.1 0.1M40.2 41.8l-0.4 1.9M40.2 41.8l-1.4 -0.6M40.2 41.8M29.3 36.5l-1.0 -0.1M29.3 36.5M25.6 29.0l0.3 -1.1M25.6 29.0M65.3 5.3l0.3 -0.8M65.3 5.3l0.2 1.4M65.3 5.3l-1.3 -0.0M65.3 5.3M38.4 35.0l-0.9 0.3M38.4 35.0l0.8 -0.7M38.4 35.0M31.3 48.5l-1.3 -0.1M31.3 48.5l1.2 -1.4M31.3 48.5l1.0 1.5M31.3 48.5M26.0 33.0l-0.2 0.9M26.0 33.0l-0.3 -1.1M26.0 33.0M27.6 51.4l0.9 0.5M27.6 51.4l-1.0 1.4M27.6 51.4l-0.6 -1.5M27.6 51.4M8.4 30.1l0.1 -1.1M8.4 30.1l-1.3 0.7M8.4 30.1M62.4 38.1l1.2 1.1M62.4 38.1l-0.3 -0.6M62.4 38.1M13.6 45.7l0.2 -0.9M13.6 45.7M31.7 17.1l-0.7 0.6M31.7 17.1l1.8 -0.1M31.7 17.1M55.0 27.9l1.5 -1.2M55.0 27.9l-0.4 1.5M55.0 27.9M34.3 11.3l1.9 -0.6M34.3 11.3l-1.3 0.7M34.3 11.3M70.9 19.0l0.1 1.7M70.9 19.0l-0.8 -0.5M70.9 19.0M79.9 -0.1l-0.6 -1.4M79.9 -0.1l0.5 1.1M79.9 -0.1M43.7 16.6l0.5 -1.0M43.7 16.6l1.1 1.1M43.7 16.6l-1.5 0.4M43.7 16.6M78.9 26.8l-0.7 -0.8M78.9 26.8l0.0 1.3M78.9 26.8M38.4 5.2l1.5 -0.6M38.4 5.2l-1.0 1.5M38.4 5.2M77.2 1.1l-1.2 -0.4M77.2 1.1l2.0 0.5M77.2 1.1M69.9 28.3l-0.1 -1.5M69.9 28.3M94.3 22.1l-0.7 -1.3M94.3 22.1l0.5 1.7M94.3 22.1M82.7 28.8l-0.7 -1.4M82.7 28.8l0.5 1.8M82.7 28.8M42.6 38.7l1.8 -0.6M42.6 38.7l-1.0 -0.4M42.6 38.7M12.5 28.5l-1.0 -0.1M12.5 28.5l1.3 -0.1M12.5 28.5M92.3 38.3l0.1 -1.8M92.3 38.3l-0.6 0.3M92.3 38.3M1.5 6.9l0.0 -1.8M1.5 6.9l0.0 0.6M1.5 6.9M9.5 51.9l0.2 1.0M9.5 51.9l0.5 -2.0M9.5 51.9M28.7 13.6l-0.8 -1.6M28.7 13.6l1.4 0.3M28.7 13.6M50.6 19.2l-0.7 0.9M50.6 19.2l-0.4 -1.0M50.6 19.2l1.3 0.2M50.6 19.2M0.7 42.2l1.0 1.6M0.7 42.2l0.4 -0.9M0.7 42.2M70.3 10.4l-1.0 1.5M70.3 10.4M11.6 4.7l0.7 0.4M11.6 4.7M40.5 38.9l-0.4 -2.0M40.5 38.9l-0.7 0.6M40.5 38.9M27.4 37.1l1.3 -1.3M27.4 37.1M-0.3 5.9l0.6 -0.8M-0.3 5.9l0.8 1.1M-0.3 5.9l-1.9 0.2M-0.3 5.9M43.2 38.2l-1.2 1.1M43.2 38.2l0.7 -1.6M43.2 38.2l0.8 0.7M43.2 38.2M46.2 31.6l-0.5 0.6M46.2 31.6M83.5 43.0l0.5 0.7M83.5 43.0M11.1 51.5l0.8 0.8M11.1 51.5l-0.9 -0.7M11.1 51.5M59.0 27.7l1.0 0.2M59.0 27.7l-1.7 0.3M59.0 27.7M90.4 31.7l-1.5 0.0M90.4 31.7M9.1 45.8l-0.9 0.5M9.1 45.8l0.5 -1.5M9.1 45.8l1.8 0.6M9.1 45.8M65.1 41.3l-0.8 -1.0M65.1 41.3l1.5 0.2M65.1 41.3M1.7 23.1l1.0 1.3M1.7 23.1l-1.2 -0.1M1.7 23.1l1.0 -0.4M1.7 23.1M7.7 30.2l-0.2 0.7M7.7 30.2l0.4 -0.5M7.7 30.2M62.7 12.9l-1.2 1.5M62.7 12.9l1.3 -1.0M62.7 12.9M22.6 13.4l0.7 0.2M22.6 13.4l-1.2 -0.1M22.6 13.4M85.3 35.8l1.1 0.4M85.3 35.8M50.9 42.5l0.9 -0.8M50.9 42.5l0.6 0.6M50.9 42.5l-1.3 -0.5M50.9 42.5M46.3 5.3l-1.9 0.7M46.3 5.3M38.6 49.0l1.3 -0.9M38.6 49.0l-1.7 1.0M38.6 49.0M61.4 41.8l0.8 -1.0M61.4 41.8M51.8 31.9l1.7 -0.1M51.8 31.9l-1.0 -0.2M51.8 31.9M24.5 17.7l0.8 0.4M24.5 17.7l-1.4 1.0M24.5 17.7l-0.9 -0.7M24.5 17.7M56.2 14.3l1.0 0.9M56.2 14.3l-1.9 -0.5M56.2 14.3M-1.6 5.1l-0.7 0.5M-1.6 5.1l1.1 -0.6M-1.6 5.1M34.3 49.5l0.6 -1.1M34.3 49.5l-0.4 1.8M34.3 49.5M37.4 31.1l-1.0 1.7M37.4 31.1l0.2 -1.6M37.4 31.1M9.0 0.3l-0.8 0.2M9.0 0.3M31.7 17.2l1.8 -0.8M31.7 17.2l0.9 1.6M31.7 17.2l-1.5 0.0M31.7 17.2M72.8 42.2l-0.1 -0.8M72.8 42.2M9.8 25.5l0.9 0.3M9.8 25.5l-1.2 0.8M9.8 25.5l-0.8 -0.6M9.8 25.5M3.0 35.7l-0.1 -1.5M3.0 35.7l0.8 0.3M3.0 35.7l-1.6 0.6M3.0 35.7M62.0 31.2l-0.8 -1.1M62.0 31.2l0.2 0.8M62.0 31.2M35.6 30.9l-1.5 -0.4M35.6 30.9l0.9 -0.1M35.6 30.9M75.6 23.1l-1.1 -0.9M75.6 23.1l1.4 1.2M75.6 23.1M36.7 19.3l0.4 0.7M36.7 19.3l-1.7 -0.1M36.7 19.3l1.4 -0.6M36.7 19.3M6.5 17.8l-1.4 -1.4M6.5 17.8l1.8 0.2M6.5 17.8M63.1 19.7l-1.4 0.1M63.1 19.7l0.4 0.6M63.1 19.7" stroke="#6248b8" stroke-width="1.60"/><path d="M49.5 2.4l-0.4 -0.7M49.5 2.4l-0.4 1.4M49.5 2.4M94.1 48.3l-0.1 1.2M94.1 48.3l-0.1 -1.7M94.1 48.3M81.7 37.7l-1.0 1.8M81.7 37.7l-0.3 -1.8M81.7 37.7M5.7 8.0l-1.0 -1.1M5.7 8.0l0.9 -0.7M5.7 8.0l-0.3 2.0M5.7 8.0M60.7 1.3l-1.2 0.6M60.7 1.3l0.8 -0.3M60.7 1.3M32.9 28.9l-0.5 -1.3M32.9 28.9l-0.6 1.3M32.9 28.9M59.8 -1.4l-0.1 0.8M59.8 -1.4l1.4 -1.2M59.8 -1.4M63.7 25.9l1.7 -0.2M63.7 25.9l0.6 1.1M63.7 25.9l-1.4 -0.0M63.7 25.9M64.8 35.9l1.1 -1.1M64.8 35.9M13.6 11.0l-0.8 -1.3M13.6 11.0l1.5 0.7M13.6 11.0l-0.7 0.7M13.6 11.0M93.7 5.6l0.8 -1.8M93.7 5.6l1.4 1.0M93.7 5.6l-1.1 -0.5M93.7 5.6M24.6 27.6l-0.6 -0.4M24.6 27.6l1.0 0.7M24.6 27.6M36.1 27.5l-0.5 -1.0M36.1 27.5l0.4 0.8M36.1 27.5M78.8 43.2l0.6 0.1M78.8 43.2l-1.9 0.9M78.8 43.2M4.2 39.5l-0.2 2.0M4.2 39.5l-1.1 -0.6M4.2 39.5l0.7 -0.3M4.2 39.5M45.9 16.1l0.7 -0.1M45.9 16.1l-0.6 1.5M45.9 16.1M26.5 5.6l0.4 0.5M26.5 5.6M42.1 51.6l1.2 -0.7M42.1 51.6l0.2 1.7M42.1 51.6M58.4 35.8l-0.2 -0.8M58.4 35.8M56.0 1.4l-1.2 -0.2M56.0 1.4l1.0 0.2M56.0 1.4M46.3 44.5l-0.8 0.7M46.3 44.5l-0.0 -0.7M46.3 44.5l1.2 1.4M46.3 44.5M32.6 7.1l0.1 0.7M32.6 7.1l-0.4 -1.1M32.6 7.1M52.4 45.7l-0.2 0.8M52.4 45.7l-0.2 -1.1M52.4 45.7M1.1 -1.5l-0.8 0.5M1.1 -1.5l-0.1 -1.9M1.1 -1.5l0.6 0.7M1.1 -1.5M31.9 12.1l0.3 -0.6M31.9 12.1l0.2 0.6M31.9 12.1l-1.6 0.4M31.9 12.1M59.5 46.0l0.1 1.2M59.5 46.0l-0.3 -0.6M59.5 46.0l1.9 0.2M59.5 46.0M10.5 33.7l-1.6 0.5M10.5 33.7l1.0 -0.4M10.5 33.7M26.0 -1.2l-0.1 0.8M26.0 -1.2l-0.7 -0.5M26.0 -1.2l0.8 -0.0M26.0 -1.2M39.3 50.6l-0.1 0.7M39.3 50.6l-0.1 -0.9M39.3 50.6l1.8 0.8M39.3 50.6M9.1 12.4l1.9 -0.6M9.1 12.4M28.6 15.9l-0.8 0.6M28.6 15.9l0.4 -1.8M28.6 15.9M58.6 36.6l-0.4 -1.1M58.6 36.6l-0.0 1.9M58.6 36.6M82.2 19.7l1.7 -0.4M82.2 19.7M56.1 1.6l0.2 0.7M56.1 1.6l-1.8 0.2M56.1 1.6l1.6 -1.3M56.1 1.6M49.5 3.2l-1.3 1.2M49.5 3.2l-0.1 -1.0M49.5 3.2M81.1 10.7l0.3 1.2M81.1 10.7l-1.7 1.2M81.1 10.7l0.9 -0.6M81.1 10.7M24.7 3.5l-1.7 -0.5M24.7 3.5l1.1 1.1M24.7 3.5M46.7 -1.3l-0.0 -0.8M46.7 -1.3M19.7 17.4l0.1 -0.8M19.7 17.4l-0.5 1.4M19.7 17.4M33.7 12.1l0.9 0.4M33.7 12.1l-0.4 -0.6M33.7 12.1M66.2 14.2l-1.2 0.3M66.2 14.2M34.6 35.5l1.5 -0.2M34.6 35.5M66.1 28.7l-0.9 -0.6M66.1 28.7l1.4 -1.0M66.1 28.7l0.8 0.9M66.1 28.7M91.1 -0.9l-1.9 0.0M91.1 -0.9l0.7 -0.0M91.1 -0.9M87.6 49.2l-0.5 1.1M87.6 49.2M15.0 12.4l-0.7 0.8M15.0 12.4M31.1 30.0l-1.2 -1.1M31.1 30.0M41.8 20.3l0.8 0.8M41.8 20.3l-0.8 -0.0M41.8 20.3M62.1 31.8l1.1 1.6M62.1 31.8l-0.3 -1.3M62.1 31.8M9.3 49.6l-0.4 1.1M9.3 49.6M34.4 2.2l-1.2 0.7M34.4 2.2l0.8 -1.9M34.4 2.2l0.3 0.6M34.4 2.2M46.4 3.9l-0.9 0.0M46.4 3.9l0.9 -0.7M46.4 3.9l0.7 1.7M46.4 3.9M65.9 19.3l0.2 0.6M65.9 19.3l-0.6 -0.7M65.9 19.3M50.8 48.6l-0.8 0.5M50.8 48.6l-0.6 -1.3M50.8 48.6l1.2 -0.2M50.8 48.6M54.9 33.8l0.7 0.8M54.9 33.8l-0.9 -0.2M54.9 33.8M20.0 28.6l0.6 1.3M20.0 28.6l-0.7 -0.3M20.0 28.6M88.1 19.6l0.1 -1.5M88.1 19.6l0.6 1.4M88.1 19.6M42.4 49.5l-0.4 -0.5M42.4 49.5l0.9 0.1M42.4 49.5l-0.2 1.0M42.4 49.5M93.9 27.7l-1.3 -1.5M93.9 27.7l0.5 1.0M93.9 27.7M3.6 26.6l0.2 0.9M3.6 26.6l-0.2 -1.8M3.6 26.6M30.6 41.2l0.6 0.3M30.6 41.2l-1.9 0.6M30.6 41.2M13.7 15.3l0.8 0.4M13.7 15.3M26.1 13.2l0.2 1.8M26.1 13.2M26.6 35.8l-1.9 0.5M26.6 35.8M27.2 1.2l-1.5 -0.8M27.2 1.2l2.0 -0.3M27.2 1.2M72.4 7.8l-0.6 -0.3M72.4 7.8M36.2 -0.1l-0.6 0.1M36.2 -0.1l0.2 -0.8M36.2 -0.1l0.6 0.3M36.2 -0.1M57.5 42.0l1.9 -0.7M57.5 42.0l-0.6 1.3M57.5 42.0l-0.7 -1.6M57.5 42.0M22.7 44.4l0.3 -0.9M22.7 44.4l-1.5 1.1M22.7 44.4M41.6 37.7l0.6 0.8M41.6 37.7l-1.3 -0.6M41.6 37.7l0.9 -0.8M41.6 37.7M18.3 44.2l-1.2 -0.9M18.3 44.2M71.2 39.5l1.7 -0.2M71.2 39.5l-1.0 1.7M71.2 39.5l0.2 -1.2M71.2 39.5M54.8 14.4l-0.0 -0.7M54.8 14.4l-0.5 0.8M54.8 14.4M40.7 5.0l-0.9 0.4M40.7 5.0l0.0 -1.5M40.7 5.0l0.6 0.9M40.7 5.0M40.4 41.8l-1.9 0.4M40.4 41.8M90.0 41.6l-0.6 -1.0M90.0 41.6l-0.2 1.0M90.0 41.6M58.1 44.1l-0.4 -1.4M58.1 44.1l1.2 0.6M58.1 44.1l-1.5 0.2M58.1 44.1M44.7 1.3l-1.1 -0.6M44.7 1.3l0.7 0.3M44.7 1.3M32.2 39.7l0.6 0.4M32.2 39.7l-1.3 -0.8M32.2 39.7M33.2 11.3l-1.3 1.0M33.2 11.3l0.5 -2.0M33.2 11.3M74.2 34.1l-0.9 0.3M74.2 34.1M11.1 25.8l1.5 -1.4M11.1 25.8l-0.9 0.3M11.1 25.8M14.1 32.2l-0.2 -1.2M14.1 32.2l-0.8 1.3M14.1 32.2M66.1 1.1l1.1 -0.3M66.1 1.1l-1.6 -0.7M66.1 1.1M49.9 -1.3l-1.8 0.8M49.9 -1.3l0.3 -1.7M49.9 -1.3l0.6 0.4M49.9 -1.3M60.9 42.6l-0.4 1.1M60.9 42.6l-0.7 -0.2M60.9 42.6l0.5 -0.9M60.9 42.6M44.2 31.4l2.0 -0.5M44.2 31.4l-0.4 0.6M44.2 31.4l-1.6 -0.4M44.2 31.4M82.5 21.8l1.2 -0.8M82.5 21.8l-0.4 0.7M82.5 21.8M46.8 10.5l1.5 -0.2M46.8 10.5l-1.0 -1.6M46.8 10.5M32.3 28.8l0.8 0.3M32.3 28.8M14.6 28.3l-0.6 -0.9M14.6 28.3M33.2 20.6l0.4 -1.9M33.2 20.6l-0.9 1.3M33.2 20.6M18.2 32.0l0.9 1.1M18.2 32.0l-1.2 -0.1M18.2 32.0M29.5 27.6l-0.3 1.5M29.5 27.6l0.6 -1.6M29.5 27.6M40.1 14.7l-0.6 0.5M40.1 14.7l-0.6 -1.1M40.1 14.7l1.2 1.2M40.1 14.7M72.4 4.6l0.0 -1.6M72.4 4.6l0.2 1.2M72.4 4.6M-0.7 9.7l1.1 0.4M-0.7 9.7M94.2 51.6l-0.8 0.3M94.2 51.6l1.4 -0.8M94.2 51.6M1.7 15.7l-0.4 1.1M1.7 15.7M82.6 27.3l1.5 1.2M82.6 27.3l-1.7 0.4M82.6 27.3M61.2 11.6l-1.2 0.2M61.2 11.6l0.8 -0.1M61.2 11.6M8.6 17.3l-0.5 0.8M8.6 17.3l1.9 -0.4M8.6 17.3M84.6 40.5l-0.9 -1.6M84.6 40.5l0.7 -0.2M84.6 40.5l-0.6 1.2M84.6 40.5M15.8 8.0l0.7 1.4M15.8 8.0l-0.7 -0.0M15.8 8.0l1.0 -1.0M15.8 8.0M6.1 21.5l0.1 0.7M6.1 21.5l-1.4 -0.5M6.1 21.5l0.6 -0.5M6.1 21.5M46.0 4.4l-0.3 -1.0M46.0 4.4l1.6 1.0M46.0 4.4l-1.2 -0.1M46.0 4.4M64.0 50.2l0.9 -0.8M64.0 50.2l-0.7 0.5M64.0 50.2M70.0 18.0l1.4 -0.6M70.0 18.0l-0.0 1.2M70.0 18.0l-1.2 -0.3M70.0 18.0M4.3 18.3l-1.9 -0.5M4.3 18.3M12.6 25.8l0.1 1.5M12.6 25.8l-0.9 -0.8M12.6 25.8l0.8 -1.3M12.6 25.8M52.4 28.9l0.7 0.4M52.4 28.9M89.9 23.4l2.0 0.2M89.9 23.4l-1.7 0.6M89.9 23.4l0.2 -1.9M89.9 23.4M68.0 31.2l-0.3 -0.7M68.0 31.2M77.1 39.9l-0.7 -1.0M77.1 39.9l0.8 1.7M77.1 39.9M57.5 45.0l1.5 0.2M57.5 45.0l-1.6 -0.7M57.5 45.0M82.5 24.8l-0.5 0.7M82.5 24.8l-0.7 -1.3M82.5 24.8l1.1 1.0M82.5 24.8" stroke="#5038a6" stroke-width="1.68"/><path d="M77.5 28.2l1.2 -1.2M77.5 28.2l-1.4 0.3M77.5 28.2M83.6 29.6l0.7 -1.0M83.6 29.6l1.2 1.2M83.6 29.6l-1.4 -0.2M83.6 29.6M59.2 25.4l-1.2 0.0M59.2 25.4l1.2 0.5M59.2 25.4M26.1 -0.3l-1.1 1.2M26.1 -0.3l0.6 -0.6M26.1 -0.3M0.2 21.8l-1.0 0.4M0.2 21.8l1.3 -0.1M0.2 21.8M61.4 40.0l-0.3 -0.9M61.4 40.0l0.7 -0.5M61.4 40.0l-0.3 0.7M61.4 40.0M73.2 24.7l-0.5 -0.5M73.2 24.7l0.2 1.4M73.2 24.7M63.9 47.1l-1.2 -0.5M63.9 47.1l1.2 1.4M63.9 47.1M75.9 7.2l-1.7 -1.1M75.9 7.2l1.3 0.0M75.9 7.2M13.4 40.8l-1.5 -0.5M13.4 40.8l0.8 0.6M13.4 40.8M34.6 26.1l-1.2 0.5M34.6 26.1M7.1 37.3l0.8 -0.1M7.1 37.3l-1.0 0.7M7.1 37.3M64.6 5.0l-1.7 0.9M64.6 5.0l1.4 -1.4M64.6 5.0M32.9 45.7l-0.2 1.9M32.9 45.7M65.3 6.6l-1.3 -0.8M65.3 6.6M2.8 16.1l0.9 -1.1M2.8 16.1l-0.6 1.2M2.8 16.1M4.0 10.2l0.8 -1.0M4.0 10.2M71.7 48.9l-0.5 0.4M71.7 48.9l0.9 -1.0M71.7 48.9M37.3 48.9l-0.7 1.1M37.3 48.9l-0.6 -0.4M37.3 48.9l1.9 -0.8M37.3 48.9M17.7 24.1l0.2 -0.8M17.7 24.1l-0.8 1.5M17.7 24.1M36.6 10.6l0.4 -0.8M36.6 10.6l0.5 1.3M36.6 10.6M47.4 50.3l-0.5 -1.0M47.4 50.3l-0.3 1.4M47.4 50.3M36.5 42.3l0.9 1.2M36.5 42.3l0.6 -1.9M36.5 42.3M12.2 45.7l-1.4 -0.9M12.2 45.7l1.1 -0.1M12.2 45.7M29.8 23.4l0.4 0.5M29.8 23.4l-1.1 -1.2M29.8 23.4M61.3 47.1l0.9 -1.1M61.3 47.1M36.0 39.3l0.0 1.1M36.0 39.3l-0.2 -0.8M36.0 39.3M20.9 17.8l-0.0 1.5M20.9 17.8l-0.9 -0.2M20.9 17.8l1.9 -0.7M20.9 17.8M65.2 28.5l-0.5 -0.8M65.2 28.5l0.7 0.6M65.2 28.5M8.5 1.6l0.6 -0.3M8.5 1.6l-0.9 1.2M8.5 1.6M90.9 34.9l1.5 0.9M90.9 34.9l-0.8 1.2M90.9 34.9l0.3 -1.7M90.9 34.9M29.1 40.5l0.4 0.7M29.1 40.5M46.6 17.9l-1.5 0.6M46.6 17.9l0.5 -0.4M46.6 17.9M23.5 43.8l0.5 0.4M23.5 43.8l-1.7 1.0M23.5 43.8l-1.2 -0.8M23.5 43.8M84.6 35.2l-0.5 1.3M84.6 35.2l0.4 -1.1M84.6 35.2M79.0 38.4l1.7 0.4M79.0 38.4l-1.1 -0.4M79.0 38.4M44.1 40.9l-1.5 -1.4M44.1 40.9l1.4 1.2M44.1 40.9M82.3 51.6l-0.5 -1.5M82.3 51.6l0.1 0.7M82.3 51.6M93.8 32.3l-1.7 1.0M93.8 32.3l-0.3 -0.9M93.8 32.3l1.6 -0.0M93.8 32.3M92.8 8.6l-0.6 -0.3M92.8 8.6M55.6 43.7l1.6 0.0M55.6 43.7l-0.6 -0.8M55.6 43.7M75.2 45.1l-1.4 0.2M75.2 45.1M19.2 32.5l-0.7 -0.2M19.2 32.5l1.0 0.9M19.2 32.5M39.1 49.5l-0.4 1.8M39.1 49.5M3.0 16.8l-1.6 1.2M3.0 16.8M70.2 4.3l-0.7 -0.2M70.2 4.3l0.9 -0.1M70.2 4.3M72.6 45.4l1.4 0.3M72.6 45.4l-0.8 -1.7M72.6 45.4M12.3 17.0l-1.7 1.0M12.3 17.0l0.1 -1.2M12.3 17.0l0.9 0.2M12.3 17.0M49.4 30.0l-0.9 1.0M49.4 30.0M80.4 22.6l1.0 -0.6M80.4 22.6l-0.9 1.1M80.4 22.6M63.8 36.8l-0.6 -0.9M63.8 36.8l0.9 0.2M63.8 36.8M32.4 3.9l0.8 0.8M32.4 3.9M42.3 6.1l-0.6 -0.9M42.3 6.1l1.2 0.5M42.3 6.1M86.7 20.6l-0.1 2.1M86.7 20.6M69.6 29.3l-0.4 -1.1M69.6 29.3l0.6 0.7M69.6 29.3M85.3 4.1l1.8 -0.8M85.3 4.1l-0.5 1.5M85.3 4.1M42.0 50.2l0.8 -1.6M42.0 50.2l-0.9 0.4M42.0 50.2M-0.8 7.9l-1.3 -1.5M-0.8 7.9l-0.6 1.9M-0.8 7.9M84.7 -1.4l-0.0 -1.0M84.7 -1.4M25.5 16.6l-0.5 -1.8M25.5 16.6l0.1 0.8M25.5 16.6M83.3 42.2l1.1 1.1M83.3 42.2l-1.6 -0.5M83.3 42.2l0.2 -0.7M83.3 42.2M74.5 10.3l1.4 -0.0M74.5 10.3l-1.0 1.2M74.5 10.3M13.7 26.0l1.3 -1.2M13.7 26.0l-1.4 1.2M13.7 26.0M53.0 27.8l0.7 1.5M53.0 27.8M82.8 10.1l0.0 -1.2M82.8 10.1l-1.4 0.9M82.8 10.1M68.4 38.3l1.4 -1.2M68.4 38.3l-0.4 0.9M68.4 38.3M92.2 29.8l-0.6 -0.3M92.2 29.8l2.0 0.5M92.2 29.8M59.8 44.0l-0.7 -0.3M59.8 44.0M44.3 26.5l-1.7 0.8M44.3 26.5l1.1 -0.6M44.3 26.5l0.2 1.4M44.3 26.5M57.7 46.8l0.0 1.5M57.7 46.8l0.3 -0.9M57.7 46.8M78.6 -1.5l-2.0 -0.2M78.6 -1.5M73.6 35.2l0.9 0.1M73.6 35.2l-1.1 -0.1M73.6 35.2l0.1 -1.9M73.6 35.2M41.2 3.7l0.6 0.7M41.2 3.7l0.5 -1.1M41.2 3.7M73.3 28.4l0.9 0.7M73.3 28.4l-0.6 -1.7M73.3 28.4M72.3 51.5l0.9 0.0M72.3 51.5M80.8 6.1l-0.5 0.8M80.8 6.1l-1.1 -0.7M80.8 6.1l1.1 -0.5M80.8 6.1M89.3 33.7l0.5 1.7M89.3 33.7l-1.9 -0.3M89.3 33.7l0.4 -1.4M89.3 33.7M52.5 44.5l-2.0 -0.2M52.5 44.5l0.9 -1.7M52.5 44.5l-0.4 1.4M52.5 44.5M62.8 34.4l-0.8 -1.3M62.8 34.4l1.0 1.3M62.8 34.4M88.4 33.6l-0.7 -1.9M88.4 33.6M-0.6 19.5l0.8 0.1M-0.6 19.5l-0.7 -1.2M-0.6 19.5M61.0 21.4l1.5 -0.9M61.0 21.4l-0.1 1.5M61.0 21.4l-1.6 0.5M61.0 21.4M89.5 35.8l-1.4 0.5M89.5 35.8l-0.6 -0.8M89.5 35.8l0.7 0.3M89.5 35.8M53.3 -0.9l-1.6 -0.1M53.3 -0.9l1.4 0.8M53.3 -0.9M52.2 41.6l-0.6 0.1M52.2 41.6M14.2 17.7l-0.3 1.8M14.2 17.7l0.8 -1.6M14.2 17.7M32.0 10.3l-0.6 -0.6M32.0 10.3l0.2 1.3M32.0 10.3M18.9 42.2l0.1 1.0M18.9 42.2l-1.4 0.3M18.9 42.2l0.6 -0.5M18.9 42.2M28.5 26.6l-0.7 -0.8M28.5 26.6l1.7 0.9M28.5 26.6M25.3 33.9l1.0 -0.2M25.3 33.9l-2.0 0.4M25.3 33.9M44.4 32.3l0.4 0.8M44.4 32.3M76.5 26.5l0.6 1.8M76.5 26.5l-0.7 -1.3M76.5 26.5l0.7 0.0M76.5 26.5M42.9 16.5l0.6 -1.2M42.9 16.5l-0.7 1.7M42.9 16.5M62.9 -1.7l-0.1 1.0M62.9 -1.7M32.1 50.1l1.9 -0.3M32.1 50.1l-1.8 1.0M32.1 50.1M77.3 -0.3l-1.4 0.6M77.3 -0.3l-0.6 -0.5M77.3 -0.3l0.7 0.6M77.3 -0.3M48.9 22.8l-0.5 -0.7M48.9 22.8l-0.1 1.9M48.9 22.8M15.8 33.8l-1.4 -0.9M15.8 33.8l0.9 -0.0M15.8 33.8M35.6 12.8l0.5 0.6M35.6 12.8l-1.1 0.3M35.6 12.8l0.2 -1.7M35.6 12.8M92.1 36.3l-0.3 -1.0M92.1 36.3l0.0 1.7M92.1 36.3M82.4 29.6l1.1 1.3M82.4 29.6l-0.0 -1.9M82.4 29.6M64.8 47.3l-1.0 0.2M64.8 47.3l1.5 -0.3M64.8 47.3M59.9 33.0l-1.3 1.1M59.9 33.0l0.5 -1.5M59.9 33.0M5.1 4.6l-1.2 0.8M5.1 4.6l0.4 -1.3M5.1 4.6M6.4 30.7l-1.0 -0.3M6.4 30.7l0.8 -1.2M6.4 30.7l0.5 0.4M6.4 30.7M47.6 41.4l0.7 1.3M47.6 41.4l-0.5 -0.8M47.6 41.4M66.2 44.9l-1.5 0.9M66.2 44.9M15.6 37.7l0.7 0.3M15.6 37.7l-2.0 0.6M15.6 37.7l0.1 -0.7M15.6 37.7M71.5 20.8l-1.0 -0.9M71.5 20.8l1.4 0.5M71.5 20.8l-0.8 1.1M71.5 20.8M17.2 42.6l1.3 0.1M17.2 42.6l-0.7 1.0M17.2 42.6l-0.5 -1.7M17.2 42.6M9.0 5.1l0.8 -1.1M9.0 5.1M67.5 37.9l0.8 -0.1M67.5 37.9l-1.3 -0.2M67.5 37.9M-1.0 4.4l-0.3 0.8M-1.0 4.4l1.7 -0.9M-1.0 4.4" stroke="#7660c6" stroke-width="1.52"/><path d="M86.4 30.9l1.6 1.0M86.4 30.9l-1.5 -0.8M86.4 30.9M31.4 18.1l0.4 -1.6M31.4 18.1l-0.3 2.0M31.4 18.1M6.6 46.5l1.9 0.8M6.6 46.5l-0.8 -1.5M6.6 46.5M28.0 6.0l1.7 0.4M28.0 6.0l-0.6 0.3M28.0 6.0M65.1 10.2l-0.3 1.4M65.1 10.2l-0.3 -1.2M65.1 10.2M64.3 15.2l-0.2 -0.8M64.3 15.2M45.0 6.5l-0.4 -2.0M45.0 6.5l1.0 0.9M45.0 6.5M51.2 36.6l-0.4 2.0M51.2 36.6l-0.7 -0.2M51.2 36.6l1.3 -1.4M51.2 36.6M8.7 18.5l-0.2 -1.7M8.7 18.5l-0.3 0.9M8.7 18.5M75.0 25.3l1.1 0.3M75.0 25.3l-0.7 -0.3M75.0 25.3M85.8 17.6l0.2 -2.1M85.8 17.6M29.6 17.2l1.0 -0.4M29.6 17.2l-1.3 1.2M29.6 17.2M56.2 17.1l-0.7 1.9M56.2 17.1l0.3 -1.9M56.2 17.1M37.1 48.9l1.5 -1.0M37.1 48.9l0.8 1.2M37.1 48.9l-1.8 -0.2M37.1 48.9M19.9 1.0l0.2 1.4M19.9 1.0l-0.4 -2.0M19.9 1.0M19.7 8.4l-1.0 -0.1M19.7 8.4M45.1 24.3l0.3 -1.1M45.1 24.3M63.8 14.5l0.2 0.6M63.8 14.5M8.4 5.4l-0.5 0.6M8.4 5.4M71.5 41.9l-1.7 -0.4M71.5 41.9M35.2 10.0l-0.5 -1.0M35.2 10.0M92.5 12.6l-1.7 0.7M92.5 12.6l0.8 -0.4M92.5 12.6M83.6 32.9l0.3 1.4M83.6 32.9l-1.1 -0.4M83.6 32.9M27.8 -1.0l-1.4 0.8M27.8 -1.0l0.4 -1.6M27.8 -1.0l2.1 -0.2M27.8 -1.0M5.3 41.3l-1.8 -0.9M5.3 41.3l0.9 0.0M5.3 41.3M18.6 36.7l-0.0 -1.3M18.6 36.7l0.1 0.6M18.6 36.7M62.8 31.1l1.7 1.2M62.8 31.1M56.4 1.8l-0.1 0.8M56.4 1.8M82.0 51.2l1.0 0.3M82.0 51.2l-1.2 0.7M82.0 51.2M39.3 40.3l0.7 0.4M39.3 40.3l-1.7 0.2M39.3 40.3l0.7 -0.5M39.3 40.3M-0.9 30.0l1.4 -0.4M-0.9 30.0l-0.8 0.6M-0.9 30.0M73.3 18.1l-0.7 0.7M73.3 18.1l-1.7 -1.1M73.3 18.1l0.8 -0.4M73.3 18.1M50.5 43.0l-1.2 1.3M50.5 43.0M47.1 49.0l-0.8 -0.7M47.1 49.0M86.6 32.4l0.8 0.5M86.6 32.4l-0.1 -0.6M86.6 32.4M49.7 29.1l-0.2 -0.7M49.7 29.1l1.6 -0.3M49.7 29.1l-1.5 1.3M49.7 29.1M65.5 36.3l0.8 -0.6M65.5 36.3l-0.4 2.0M65.5 36.3M52.4 32.7l0.8 -0.0M52.4 32.7l0.0 1.3M52.4 32.7l-0.5 -0.8M52.4 32.7M47.9 5.5l-1.2 0.5M47.9 5.5M26.2 33.4l1.8 0.3M26.2 33.4M49.9 11.6l0.8 -0.5M49.9 11.6M-0.1 15.0l-0.4 -0.7M-0.1 15.0l1.3 0.3M-0.1 15.0l-0.6 1.0M-0.1 15.0M26.6 28.5l0.5 -0.7M26.6 28.5l-0.4 1.5M26.6 28.5l-1.4 -0.1M26.6 28.5M53.0 40.3l1.1 1.1M53.0 40.3l-1.0 -0.8M53.0 40.3M52.2 29.8l0.8 1.0M52.2 29.8M68.8 24.0l-0.3 -0.8M68.8 24.0l-0.5 1.6M68.8 24.0M90.3 37.7l0.2 -1.4M90.3 37.7M6.6 39.5l1.4 -0.4M6.6 39.5l-1.9 -0.6M6.6 39.5M7.7 3.9l-0.3 0.6M7.7 3.9l0.4 -0.6M7.7 3.9M67.9 5.1l-0.1 0.7M67.9 5.1l-1.4 -1.2M67.9 5.1l1.5 -0.0M67.9 5.1M11.4 19.6l-0.4 -1.0M11.4 19.6l0.5 1.3M11.4 19.6M34.9 43.1l0.7 -0.5M34.9 43.1l-1.3 1.0M34.9 43.1M35.0 37.9l0.5 0.8M35.0 37.9l0.1 -1.9M35.0 37.9M77.3 -0.9l1.7 0.1M77.3 -0.9l-1.7 0.1M77.3 -0.9M80.2 17.6l0.4 1.0M80.2 17.6l-1.3 -0.6M80.2 17.6M85.4 35.7l-1.1 0.1M85.4 35.7l0.8 -0.3M85.4 35.7l1.0 1.7M85.4 35.7M35.2 45.9l-1.2 -1.1M35.2 45.9l0.3 1.9M35.2 45.9M48.1 30.7l-1.5 -0.3M48.1 30.7l0.8 -0.9M48.1 30.7l1.2 1.6M48.1 30.7M68.4 43.5l-1.3 0.0M68.4 43.5l0.8 -1.6M68.4 43.5l0.1 1.2M68.4 43.5M65.7 3.2l-0.7 0.7M65.7 3.2M79.3 10.4l0.5 1.5M79.3 10.4l-0.6 -1.8M79.3 10.4M14.8 33.8l-0.4 -1.7M14.8 33.8M77.1 38.1l-0.9 0.7M77.1 38.1l-1.1 -1.5M77.1 38.1l1.8 -0.1M77.1 38.1M20.0 16.9l-0.9 1.0M20.0 16.9M45.4 39.8l0.0 0.8M45.4 39.8l-0.4 -1.0M45.4 39.8M88.7 40.4l-0.1 -0.9M88.7 40.4l-0.9 1.1M88.7 40.4M56.9 37.7l0.4 1.1M56.9 37.7M69.1 23.9l-0.3 -1.2M69.1 23.9l1.3 0.9M69.1 23.9M65.6 28.3l0.7 -0.9M65.6 28.3l-0.4 2.0M65.6 28.3l-0.5 -0.4M65.6 28.3M80.3 13.2l-1.9 -0.2M80.3 13.2l-0.2 -1.0M80.3 13.2l1.1 0.6M80.3 13.2M87.6 11.7l-1.2 -0.5M87.6 11.7l1.7 0.3M87.6 11.7M16.3 8.3l-1.9 0.5M16.3 8.3M-0.6 0.1l0.8 1.7M-0.6 0.1M46.3 46.6l0.4 -0.8M46.3 46.6l-0.1 1.1M46.3 46.6M73.7 48.0l0.3 -1.5M73.7 48.0M34.7 41.6l1.1 -0.6M34.7 41.6l0.2 1.9M34.7 41.6l-1.3 -0.8M34.7 41.6M65.0 5.6l1.3 0.5M65.0 5.6M18.9 50.2l-0.8 1.6M18.9 50.2M93.9 27.4l-0.8 -0.3M93.9 27.4M26.9 2.2l-1.0 -0.1M26.9 2.2M66.2 12.8l1.4 1.0M66.2 12.8M19.2 2.7l1.2 0.3M19.2 2.7M42.3 36.2l0.8 1.0M42.3 36.2l-0.6 -1.8M42.3 36.2M77.4 28.5l-0.7 0.2M77.4 28.5l1.5 -0.2M77.4 28.5M12.1 19.2l-0.5 -0.5M12.1 19.2l1.1 0.4M12.1 19.2M70.2 42.0l1.6 1.1M70.2 42.0M58.6 42.3l1.4 -0.3M58.6 42.3l-0.5 1.0M58.6 42.3l-0.7 -0.8M58.6 42.3M79.6 36.2l-0.2 0.6M79.6 36.2l-1.0 -0.8M79.6 36.2l1.7 -0.3M79.6 36.2M43.9 14.3l-0.1 -2.1M43.9 14.3l-1.4 1.3M43.9 14.3M27.1 -0.0l1.2 0.9M27.1 -0.0l-0.7 -0.9M27.1 -0.0M40.0 49.3l1.1 1.4M40.0 49.3M17.5 27.0l-0.1 -1.0M17.5 27.0l1.1 -0.1M17.5 27.0l0.1 1.8M17.5 27.0M1.9 2.4l-1.6 0.6M1.9 2.4M1.2 6.7l0.2 -0.8M1.2 6.7M62.9 30.2l-0.5 -1.1M62.9 30.2l-0.3 0.7M62.9 30.2M50.2 -0.9l0.7 0.7M50.2 -0.9l-1.0 -0.2M50.2 -0.9l0.8 -0.2M50.2 -0.9M83.0 42.7l-1.5 0.4M83.0 42.7M46.8 46.6l-1.6 0.9M46.8 46.6l1.8 -0.6M46.8 46.6M4.2 27.3l-0.0 -1.7M4.2 27.3M35.3 40.6l0.4 0.7M35.3 40.6l-0.3 -1.7M35.3 40.6M7.4 50.0l-0.8 -1.2M7.4 50.0l0.6 -0.1M7.4 50.0l-1.1 1.5M7.4 50.0M69.0 12.3l-1.5 0.6M69.0 12.3l0.1 -0.6M69.0 12.3l1.5 0.0M69.0 12.3M39.5 17.2l1.0 0.8M39.5 17.2l-0.4 -0.6M39.5 17.2M93.7 35.6l-1.1 0.7M93.7 35.6l0.7 -1.5M93.7 35.6l1.0 1.8M93.7 35.6M19.8 42.8l1.1 -0.6M19.8 42.8l-0.3 0.7M19.8 42.8l-1.4 0.4M19.8 42.8M46.6 25.8l1.8 0.5M46.6 25.8M62.7 31.6l0.5 0.9M62.7 31.6l-1.3 1.1M62.7 31.6l-0.5 -1.4M62.7 31.6M64.0 8.9l-1.2 0.3M64.0 8.9l0.5 0.4M64.0 8.9M7.1 25.7l1.4 -0.5M7.1 25.7l-1.0 1.2M7.1 25.7M15.2 29.0l1.1 -0.6M15.2 29.0M44.4 45.1l0.6 -1.0M44.4 45.1l-0.9 0.6M44.4 45.1M22.1 10.1l1.3 1.5M22.1 10.1l-0.8 0.2M22.1 10.1l1.1 -1.0M22.1 10.1M77.0 30.0l-1.0 -0.7M77.0 30.0l1.3 1.0M77.0 30.0M60.1 48.7l0.9 0.6M60.1 48.7M80.2 -0.6l0.1 -1.3M80.2 -0.6M91.5 35.1l0.6 0.6M91.5 35.1l-0.8 -0.8M91.5 35.1M18.9 22.7l-1.3 -0.4M18.9 22.7l0.5 -0.6M18.9 22.7l0.9 1.3M18.9 22.7M52.2 15.5l-1.5 -0.3M52.2 15.5M4.6 23.8l-0.3 -0.9M4.6 23.8l0.4 1.8M4.6 23.8M82.7 16.1l0.9 1.5M82.7 16.1l-0.2 -0.8M82.7 16.1M2.1 50.9l-1.4 0.1M2.1 50.9l0.1 -1.6M2.1 50.9l0.8 0.7M2.1 50.9" stroke="#443098" stroke-width="1.44"/></g></svg>
</svg></body></html>
